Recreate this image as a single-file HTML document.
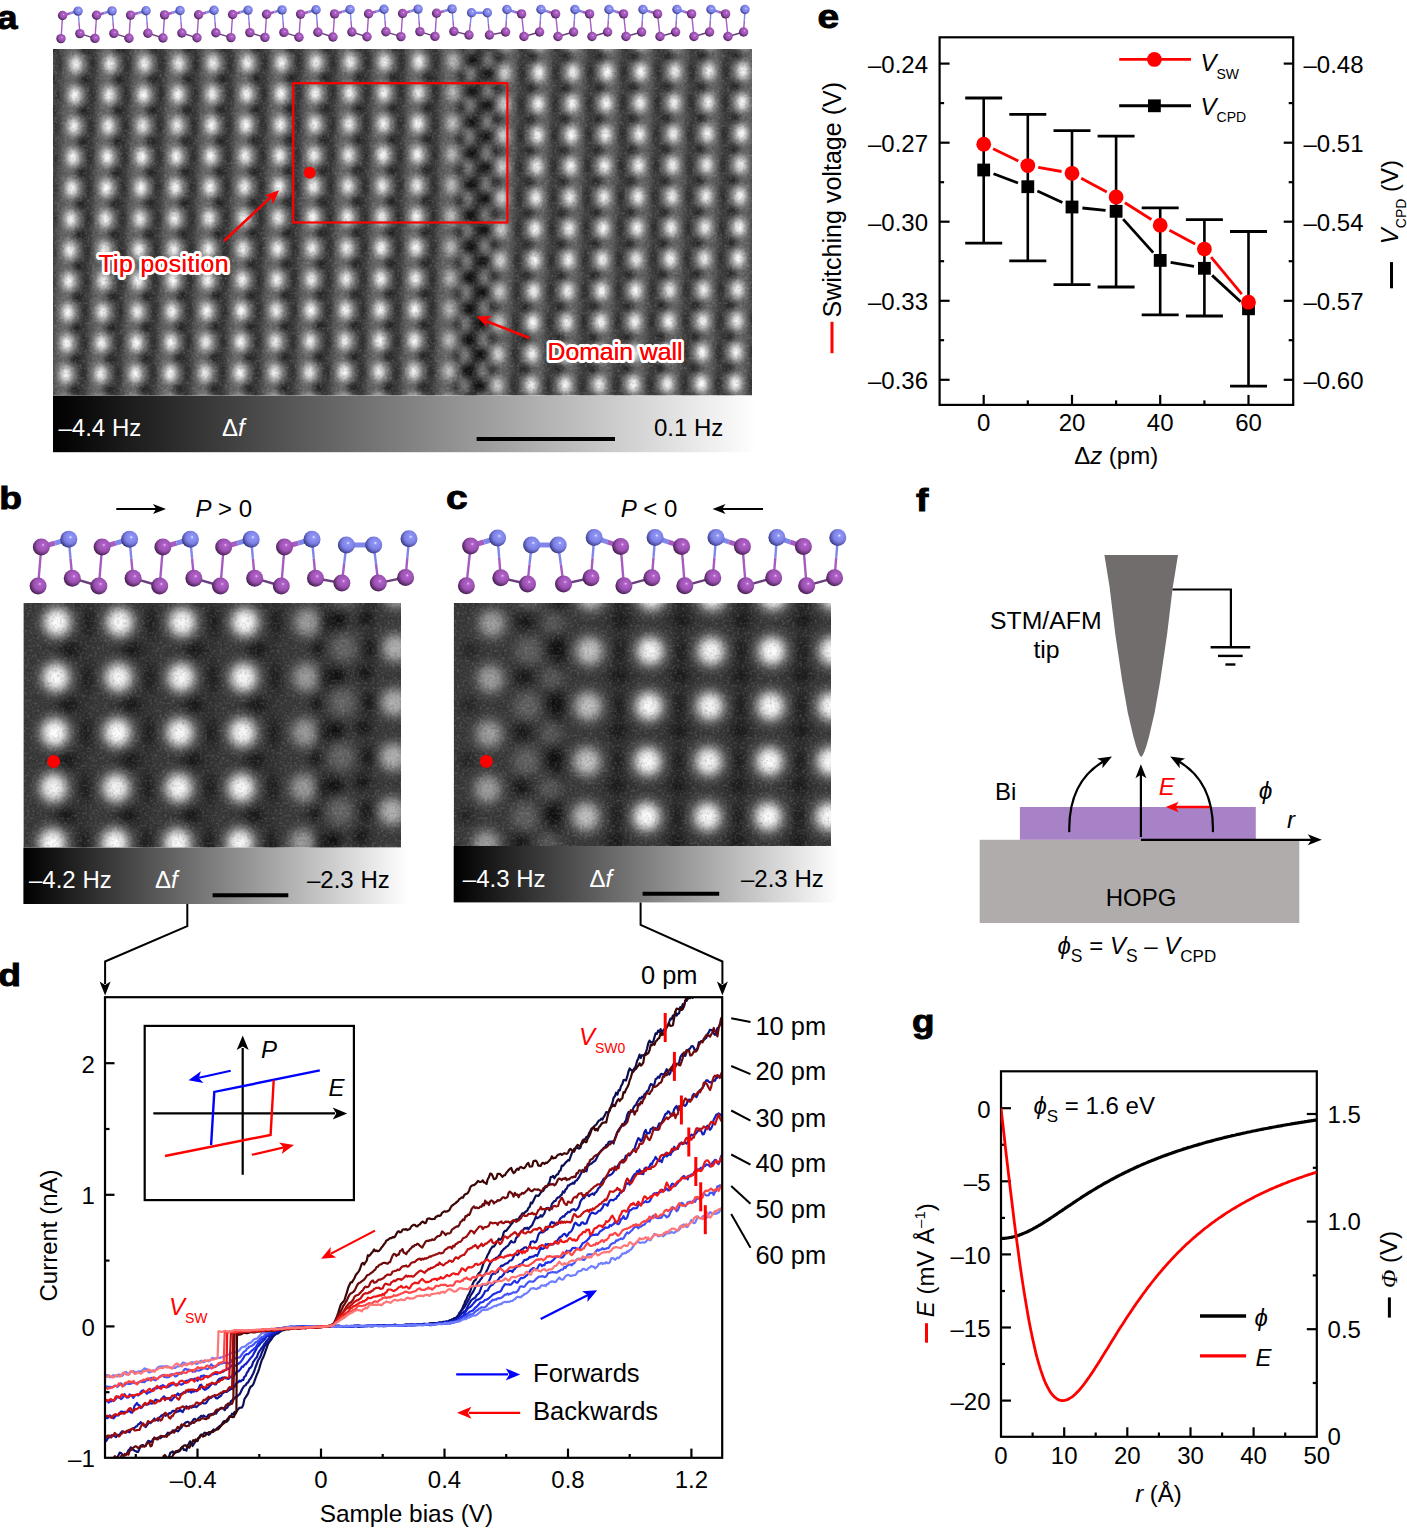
<!DOCTYPE html>
<html><head><meta charset="utf-8"><style>
html,body{margin:0;padding:0;background:#fff;width:1407px;height:1528px;overflow:hidden;}
svg{display:block;}
</style></head><body>
<svg width="1407" height="1528" viewBox="0 0 1407 1528" font-family='"Liberation Sans", sans-serif'>
<defs><radialGradient id="gW"><stop offset="0" stop-color="#fff" stop-opacity="1.000"/><stop offset="0.15" stop-color="#fff" stop-opacity="0.904"/><stop offset="0.3" stop-color="#fff" stop-opacity="0.667"/><stop offset="0.45" stop-color="#fff" stop-opacity="0.402"/><stop offset="0.6" stop-color="#fff" stop-opacity="0.198"/><stop offset="0.75" stop-color="#fff" stop-opacity="0.080"/><stop offset="0.9" stop-color="#fff" stop-opacity="0.026"/><stop offset="1.0" stop-color="#fff" stop-opacity="0.000"/></radialGradient><radialGradient id="gK"><stop offset="0" stop-color="#000" stop-opacity="1.000"/><stop offset="0.15" stop-color="#000" stop-opacity="0.904"/><stop offset="0.3" stop-color="#000" stop-opacity="0.667"/><stop offset="0.45" stop-color="#000" stop-opacity="0.402"/><stop offset="0.6" stop-color="#000" stop-opacity="0.198"/><stop offset="0.75" stop-color="#000" stop-opacity="0.080"/><stop offset="0.9" stop-color="#000" stop-opacity="0.026"/><stop offset="1.0" stop-color="#000" stop-opacity="0.000"/></radialGradient><radialGradient id="gF"><stop offset="0" stop-color="#fff" stop-opacity="1.000"/><stop offset="0.2" stop-color="#fff" stop-opacity="1.000"/><stop offset="0.35" stop-color="#fff" stop-opacity="0.850"/><stop offset="0.5" stop-color="#fff" stop-opacity="0.550"/><stop offset="0.65" stop-color="#fff" stop-opacity="0.270"/><stop offset="0.8" stop-color="#fff" stop-opacity="0.090"/><stop offset="0.92" stop-color="#fff" stop-opacity="0.020"/><stop offset="1.0" stop-color="#fff" stop-opacity="0.000"/></radialGradient><radialGradient id="gM"><stop offset="0" stop-color="#fff" stop-opacity="1.000"/><stop offset="0.15" stop-color="#fff" stop-opacity="0.970"/><stop offset="0.3" stop-color="#fff" stop-opacity="0.840"/><stop offset="0.45" stop-color="#fff" stop-opacity="0.570"/><stop offset="0.6" stop-color="#fff" stop-opacity="0.290"/><stop offset="0.75" stop-color="#fff" stop-opacity="0.100"/><stop offset="0.9" stop-color="#fff" stop-opacity="0.030"/><stop offset="1.0" stop-color="#fff" stop-opacity="0.000"/></radialGradient><filter id="nz" x="0" y="0" width="100%" height="100%"><feTurbulence type="fractalNoise" baseFrequency="0.4" numOctaves="2" seed="7" result="t"/><feColorMatrix in="t" type="matrix" values="0 0 0 0 0  0 0 0 0 0  0 0 0 0 0  0 0 0 -1.6 0.85"/></filter><filter id="nzw" x="0" y="0" width="100%" height="100%"><feTurbulence type="fractalNoise" baseFrequency="0.4" numOctaves="2" seed="11" result="t"/><feColorMatrix in="t" type="matrix" values="0 0 0 0 1  0 0 0 0 1  0 0 0 0 1  0 0 0 1.6 -0.75"/></filter></defs>
<clipPath id="ca"><rect x="53" y="49" width="699" height="346.6"/></clipPath>
<g clip-path="url(#ca)">
<rect x="53" y="49" width="699" height="346.6" fill="#5c5c5c"/>
<ellipse cx="59.7" cy="33.4" rx="11.4" ry="27" fill="url(#gK)" opacity="0.42"/>
<ellipse cx="50.9" cy="49" rx="15" ry="13.8" fill="url(#gK)" opacity="0.60"/>
<ellipse cx="85.2" cy="48.7" rx="15" ry="13.8" fill="url(#gK)" opacity="0.60"/>
<ellipse cx="93.9" cy="33.2" rx="11.4" ry="30" fill="url(#gK)" opacity="0.50"/>
<ellipse cx="119.5" cy="48.5" rx="15" ry="13.8" fill="url(#gK)" opacity="0.60"/>
<ellipse cx="128.2" cy="32.9" rx="11.4" ry="30" fill="url(#gK)" opacity="0.50"/>
<ellipse cx="153.8" cy="48.2" rx="15" ry="13.8" fill="url(#gK)" opacity="0.60"/>
<ellipse cx="162.4" cy="32.6" rx="11.4" ry="30" fill="url(#gK)" opacity="0.50"/>
<ellipse cx="188" cy="47.9" rx="15" ry="13.8" fill="url(#gK)" opacity="0.60"/>
<ellipse cx="196.7" cy="32.4" rx="11.4" ry="30" fill="url(#gK)" opacity="0.50"/>
<ellipse cx="222.3" cy="47.6" rx="15" ry="13.8" fill="url(#gK)" opacity="0.60"/>
<ellipse cx="230.9" cy="32.1" rx="11.4" ry="30" fill="url(#gK)" opacity="0.50"/>
<ellipse cx="256.6" cy="47.4" rx="15" ry="13.8" fill="url(#gK)" opacity="0.60"/>
<ellipse cx="265.2" cy="31.8" rx="11.4" ry="30" fill="url(#gK)" opacity="0.50"/>
<ellipse cx="290.9" cy="47.1" rx="15" ry="13.8" fill="url(#gK)" opacity="0.60"/>
<ellipse cx="299.4" cy="31.5" rx="11.4" ry="30" fill="url(#gK)" opacity="0.50"/>
<ellipse cx="325.1" cy="46.8" rx="15" ry="13.8" fill="url(#gK)" opacity="0.60"/>
<ellipse cx="333.7" cy="31.3" rx="11.4" ry="30" fill="url(#gK)" opacity="0.50"/>
<ellipse cx="359.4" cy="46.6" rx="15" ry="13.8" fill="url(#gK)" opacity="0.60"/>
<ellipse cx="367.9" cy="31" rx="11.4" ry="30" fill="url(#gK)" opacity="0.50"/>
<ellipse cx="393.7" cy="46.3" rx="15" ry="13.8" fill="url(#gK)" opacity="0.60"/>
<ellipse cx="402.2" cy="30.7" rx="11.4" ry="30" fill="url(#gK)" opacity="0.50"/>
<ellipse cx="428" cy="46" rx="15" ry="13.8" fill="url(#gK)" opacity="0.60"/>
<ellipse cx="436.4" cy="30.5" rx="11.4" ry="30" fill="url(#gK)" opacity="0.50"/>
<ellipse cx="472.4" cy="30.2" rx="14.4" ry="15.6" fill="url(#gK)" opacity="0.90"/>
<ellipse cx="462.2" cy="45.8" rx="13.5" ry="13.8" fill="url(#gK)" opacity="0.55"/>
<ellipse cx="479" cy="45.6" rx="12" ry="18" fill="url(#gK)" opacity="0.35"/>
<ellipse cx="498.6" cy="57.4" rx="15" ry="13.8" fill="url(#gK)" opacity="0.60"/>
<ellipse cx="522.8" cy="41.6" rx="11.4" ry="30" fill="url(#gK)" opacity="0.50"/>
<ellipse cx="488.8" cy="41.9" rx="14.4" ry="15.6" fill="url(#gK)" opacity="0.90"/>
<ellipse cx="479.9" cy="57.6" rx="12" ry="18" fill="url(#gK)" opacity="0.35"/>
<ellipse cx="532.6" cy="57.1" rx="15" ry="13.8" fill="url(#gK)" opacity="0.60"/>
<ellipse cx="556.8" cy="41.3" rx="11.4" ry="30" fill="url(#gK)" opacity="0.50"/>
<ellipse cx="566.6" cy="56.8" rx="15" ry="13.8" fill="url(#gK)" opacity="0.60"/>
<ellipse cx="590.8" cy="41" rx="11.4" ry="30" fill="url(#gK)" opacity="0.50"/>
<ellipse cx="600.6" cy="56.5" rx="15" ry="13.8" fill="url(#gK)" opacity="0.60"/>
<ellipse cx="624.8" cy="40.7" rx="11.4" ry="30" fill="url(#gK)" opacity="0.50"/>
<ellipse cx="634.6" cy="56.2" rx="15" ry="13.8" fill="url(#gK)" opacity="0.60"/>
<ellipse cx="658.8" cy="40.4" rx="11.4" ry="30" fill="url(#gK)" opacity="0.50"/>
<ellipse cx="668.6" cy="55.9" rx="15" ry="13.8" fill="url(#gK)" opacity="0.60"/>
<ellipse cx="692.8" cy="40.1" rx="11.4" ry="30" fill="url(#gK)" opacity="0.50"/>
<ellipse cx="702.6" cy="55.6" rx="15" ry="13.8" fill="url(#gK)" opacity="0.60"/>
<ellipse cx="726.8" cy="39.8" rx="11.4" ry="30" fill="url(#gK)" opacity="0.50"/>
<ellipse cx="736.6" cy="55.3" rx="15" ry="13.8" fill="url(#gK)" opacity="0.60"/>
<ellipse cx="760.8" cy="39.5" rx="11.4" ry="30" fill="url(#gK)" opacity="0.50"/>
<ellipse cx="770.6" cy="55" rx="15" ry="13.8" fill="url(#gK)" opacity="0.60"/>
<ellipse cx="794.8" cy="39.2" rx="11.4" ry="30" fill="url(#gK)" opacity="0.50"/>
<ellipse cx="58.6" cy="64.4" rx="11.4" ry="27" fill="url(#gK)" opacity="0.42"/>
<ellipse cx="49.9" cy="80" rx="15" ry="13.8" fill="url(#gK)" opacity="0.60"/>
<ellipse cx="84.2" cy="79.7" rx="15" ry="13.8" fill="url(#gK)" opacity="0.60"/>
<ellipse cx="92.9" cy="64.2" rx="11.4" ry="30" fill="url(#gK)" opacity="0.50"/>
<ellipse cx="118.5" cy="79.5" rx="15" ry="13.8" fill="url(#gK)" opacity="0.60"/>
<ellipse cx="127.2" cy="63.9" rx="11.4" ry="30" fill="url(#gK)" opacity="0.50"/>
<ellipse cx="152.9" cy="79.2" rx="15" ry="13.8" fill="url(#gK)" opacity="0.60"/>
<ellipse cx="161.6" cy="63.6" rx="11.4" ry="30" fill="url(#gK)" opacity="0.50"/>
<ellipse cx="187.2" cy="78.9" rx="15" ry="13.8" fill="url(#gK)" opacity="0.60"/>
<ellipse cx="195.8" cy="63.4" rx="11.4" ry="30" fill="url(#gK)" opacity="0.50"/>
<ellipse cx="221.5" cy="78.6" rx="15" ry="13.8" fill="url(#gK)" opacity="0.60"/>
<ellipse cx="230.1" cy="63.1" rx="11.4" ry="30" fill="url(#gK)" opacity="0.50"/>
<ellipse cx="255.8" cy="78.4" rx="15" ry="13.8" fill="url(#gK)" opacity="0.60"/>
<ellipse cx="264.4" cy="62.8" rx="11.4" ry="30" fill="url(#gK)" opacity="0.50"/>
<ellipse cx="290.2" cy="78.1" rx="15" ry="13.8" fill="url(#gK)" opacity="0.60"/>
<ellipse cx="298.8" cy="62.5" rx="11.4" ry="30" fill="url(#gK)" opacity="0.50"/>
<ellipse cx="324.5" cy="77.8" rx="15" ry="13.8" fill="url(#gK)" opacity="0.60"/>
<ellipse cx="333.1" cy="62.3" rx="11.4" ry="30" fill="url(#gK)" opacity="0.50"/>
<ellipse cx="358.8" cy="77.6" rx="15" ry="13.8" fill="url(#gK)" opacity="0.60"/>
<ellipse cx="367.3" cy="62" rx="11.4" ry="30" fill="url(#gK)" opacity="0.50"/>
<ellipse cx="393.1" cy="77.3" rx="15" ry="13.8" fill="url(#gK)" opacity="0.60"/>
<ellipse cx="401.6" cy="61.7" rx="11.4" ry="30" fill="url(#gK)" opacity="0.50"/>
<ellipse cx="427.5" cy="77" rx="15" ry="13.8" fill="url(#gK)" opacity="0.60"/>
<ellipse cx="435.9" cy="61.5" rx="11.4" ry="30" fill="url(#gK)" opacity="0.50"/>
<ellipse cx="472" cy="61.2" rx="14.4" ry="15.6" fill="url(#gK)" opacity="0.90"/>
<ellipse cx="461.8" cy="76.8" rx="13.5" ry="13.8" fill="url(#gK)" opacity="0.55"/>
<ellipse cx="478.6" cy="76.6" rx="12" ry="18" fill="url(#gK)" opacity="0.35"/>
<ellipse cx="497.8" cy="88.7" rx="15" ry="13.8" fill="url(#gK)" opacity="0.60"/>
<ellipse cx="522" cy="72.8" rx="11.4" ry="30" fill="url(#gK)" opacity="0.50"/>
<ellipse cx="488" cy="73.2" rx="14.4" ry="15.6" fill="url(#gK)" opacity="0.90"/>
<ellipse cx="479.1" cy="88.8" rx="12" ry="18" fill="url(#gK)" opacity="0.35"/>
<ellipse cx="531.8" cy="88.4" rx="15" ry="13.8" fill="url(#gK)" opacity="0.60"/>
<ellipse cx="556" cy="72.5" rx="11.4" ry="30" fill="url(#gK)" opacity="0.50"/>
<ellipse cx="565.8" cy="88.1" rx="15" ry="13.8" fill="url(#gK)" opacity="0.60"/>
<ellipse cx="590" cy="72.2" rx="11.4" ry="30" fill="url(#gK)" opacity="0.50"/>
<ellipse cx="599.8" cy="87.8" rx="15" ry="13.8" fill="url(#gK)" opacity="0.60"/>
<ellipse cx="624" cy="72" rx="11.4" ry="30" fill="url(#gK)" opacity="0.50"/>
<ellipse cx="633.8" cy="87.5" rx="15" ry="13.8" fill="url(#gK)" opacity="0.60"/>
<ellipse cx="658" cy="71.7" rx="11.4" ry="30" fill="url(#gK)" opacity="0.50"/>
<ellipse cx="667.8" cy="87.2" rx="15" ry="13.8" fill="url(#gK)" opacity="0.60"/>
<ellipse cx="692" cy="71.3" rx="11.4" ry="30" fill="url(#gK)" opacity="0.50"/>
<ellipse cx="701.8" cy="86.9" rx="15" ry="13.8" fill="url(#gK)" opacity="0.60"/>
<ellipse cx="726" cy="71" rx="11.4" ry="30" fill="url(#gK)" opacity="0.50"/>
<ellipse cx="735.8" cy="86.6" rx="15" ry="13.8" fill="url(#gK)" opacity="0.60"/>
<ellipse cx="760" cy="70.8" rx="11.4" ry="30" fill="url(#gK)" opacity="0.50"/>
<ellipse cx="769.8" cy="86.3" rx="15" ry="13.8" fill="url(#gK)" opacity="0.60"/>
<ellipse cx="794" cy="70.5" rx="11.4" ry="30" fill="url(#gK)" opacity="0.50"/>
<ellipse cx="57.6" cy="95.4" rx="11.4" ry="27" fill="url(#gK)" opacity="0.42"/>
<ellipse cx="48.9" cy="111" rx="15" ry="13.8" fill="url(#gK)" opacity="0.60"/>
<ellipse cx="83.2" cy="110.7" rx="15" ry="13.8" fill="url(#gK)" opacity="0.60"/>
<ellipse cx="92" cy="95.2" rx="11.4" ry="30" fill="url(#gK)" opacity="0.50"/>
<ellipse cx="117.6" cy="110.5" rx="15" ry="13.8" fill="url(#gK)" opacity="0.60"/>
<ellipse cx="126.3" cy="94.9" rx="11.4" ry="30" fill="url(#gK)" opacity="0.50"/>
<ellipse cx="152" cy="110.2" rx="15" ry="13.8" fill="url(#gK)" opacity="0.60"/>
<ellipse cx="160.7" cy="94.6" rx="11.4" ry="30" fill="url(#gK)" opacity="0.50"/>
<ellipse cx="186.4" cy="109.9" rx="15" ry="13.8" fill="url(#gK)" opacity="0.60"/>
<ellipse cx="195" cy="94.4" rx="11.4" ry="30" fill="url(#gK)" opacity="0.50"/>
<ellipse cx="220.7" cy="109.6" rx="15" ry="13.8" fill="url(#gK)" opacity="0.60"/>
<ellipse cx="229.4" cy="94.1" rx="11.4" ry="30" fill="url(#gK)" opacity="0.50"/>
<ellipse cx="255.1" cy="109.4" rx="15" ry="13.8" fill="url(#gK)" opacity="0.60"/>
<ellipse cx="263.7" cy="93.8" rx="11.4" ry="30" fill="url(#gK)" opacity="0.50"/>
<ellipse cx="289.5" cy="109.1" rx="15" ry="13.8" fill="url(#gK)" opacity="0.60"/>
<ellipse cx="298.1" cy="93.5" rx="11.4" ry="30" fill="url(#gK)" opacity="0.50"/>
<ellipse cx="323.9" cy="108.8" rx="15" ry="13.8" fill="url(#gK)" opacity="0.60"/>
<ellipse cx="332.4" cy="93.3" rx="11.4" ry="30" fill="url(#gK)" opacity="0.50"/>
<ellipse cx="358.2" cy="108.6" rx="15" ry="13.8" fill="url(#gK)" opacity="0.60"/>
<ellipse cx="366.8" cy="93" rx="11.4" ry="30" fill="url(#gK)" opacity="0.50"/>
<ellipse cx="392.6" cy="108.3" rx="15" ry="13.8" fill="url(#gK)" opacity="0.60"/>
<ellipse cx="401.1" cy="92.7" rx="11.4" ry="30" fill="url(#gK)" opacity="0.50"/>
<ellipse cx="427" cy="108" rx="15" ry="13.8" fill="url(#gK)" opacity="0.60"/>
<ellipse cx="435.5" cy="92.5" rx="11.4" ry="30" fill="url(#gK)" opacity="0.50"/>
<ellipse cx="471.5" cy="92.2" rx="14.4" ry="15.6" fill="url(#gK)" opacity="0.90"/>
<ellipse cx="461.4" cy="107.8" rx="13.5" ry="13.8" fill="url(#gK)" opacity="0.55"/>
<ellipse cx="478.2" cy="107.6" rx="12" ry="18" fill="url(#gK)" opacity="0.35"/>
<ellipse cx="497.1" cy="119.9" rx="15" ry="13.8" fill="url(#gK)" opacity="0.60"/>
<ellipse cx="521.2" cy="104.1" rx="11.4" ry="30" fill="url(#gK)" opacity="0.50"/>
<ellipse cx="487.2" cy="104.4" rx="14.4" ry="15.6" fill="url(#gK)" opacity="0.90"/>
<ellipse cx="478.4" cy="120.1" rx="12" ry="18" fill="url(#gK)" opacity="0.35"/>
<ellipse cx="531.1" cy="119.6" rx="15" ry="13.8" fill="url(#gK)" opacity="0.60"/>
<ellipse cx="555.2" cy="103.8" rx="11.4" ry="30" fill="url(#gK)" opacity="0.50"/>
<ellipse cx="565.1" cy="119.3" rx="15" ry="13.8" fill="url(#gK)" opacity="0.60"/>
<ellipse cx="589.2" cy="103.5" rx="11.4" ry="30" fill="url(#gK)" opacity="0.50"/>
<ellipse cx="599.1" cy="119" rx="15" ry="13.8" fill="url(#gK)" opacity="0.60"/>
<ellipse cx="623.2" cy="103.2" rx="11.4" ry="30" fill="url(#gK)" opacity="0.50"/>
<ellipse cx="633.1" cy="118.7" rx="15" ry="13.8" fill="url(#gK)" opacity="0.60"/>
<ellipse cx="657.2" cy="102.9" rx="11.4" ry="30" fill="url(#gK)" opacity="0.50"/>
<ellipse cx="667.1" cy="118.4" rx="15" ry="13.8" fill="url(#gK)" opacity="0.60"/>
<ellipse cx="691.2" cy="102.6" rx="11.4" ry="30" fill="url(#gK)" opacity="0.50"/>
<ellipse cx="701.1" cy="118.1" rx="15" ry="13.8" fill="url(#gK)" opacity="0.60"/>
<ellipse cx="725.2" cy="102.3" rx="11.4" ry="30" fill="url(#gK)" opacity="0.50"/>
<ellipse cx="735.1" cy="117.8" rx="15" ry="13.8" fill="url(#gK)" opacity="0.60"/>
<ellipse cx="759.2" cy="102" rx="11.4" ry="30" fill="url(#gK)" opacity="0.50"/>
<ellipse cx="769.1" cy="117.5" rx="15" ry="13.8" fill="url(#gK)" opacity="0.60"/>
<ellipse cx="793.2" cy="101.7" rx="11.4" ry="30" fill="url(#gK)" opacity="0.50"/>
<ellipse cx="56.6" cy="126.4" rx="11.4" ry="27" fill="url(#gK)" opacity="0.42"/>
<ellipse cx="47.8" cy="142" rx="15" ry="13.8" fill="url(#gK)" opacity="0.60"/>
<ellipse cx="82.3" cy="141.7" rx="15" ry="13.8" fill="url(#gK)" opacity="0.60"/>
<ellipse cx="91" cy="126.2" rx="11.4" ry="30" fill="url(#gK)" opacity="0.50"/>
<ellipse cx="116.7" cy="141.5" rx="15" ry="13.8" fill="url(#gK)" opacity="0.60"/>
<ellipse cx="125.4" cy="125.9" rx="11.4" ry="30" fill="url(#gK)" opacity="0.50"/>
<ellipse cx="151.1" cy="141.2" rx="15" ry="13.8" fill="url(#gK)" opacity="0.60"/>
<ellipse cx="159.8" cy="125.6" rx="11.4" ry="30" fill="url(#gK)" opacity="0.50"/>
<ellipse cx="185.5" cy="140.9" rx="15" ry="13.8" fill="url(#gK)" opacity="0.60"/>
<ellipse cx="194.2" cy="125.4" rx="11.4" ry="30" fill="url(#gK)" opacity="0.50"/>
<ellipse cx="220" cy="140.6" rx="15" ry="13.8" fill="url(#gK)" opacity="0.60"/>
<ellipse cx="228.6" cy="125.1" rx="11.4" ry="30" fill="url(#gK)" opacity="0.50"/>
<ellipse cx="254.4" cy="140.4" rx="15" ry="13.8" fill="url(#gK)" opacity="0.60"/>
<ellipse cx="263" cy="124.8" rx="11.4" ry="30" fill="url(#gK)" opacity="0.50"/>
<ellipse cx="288.8" cy="140.1" rx="15" ry="13.8" fill="url(#gK)" opacity="0.60"/>
<ellipse cx="297.4" cy="124.5" rx="11.4" ry="30" fill="url(#gK)" opacity="0.50"/>
<ellipse cx="323.2" cy="139.8" rx="15" ry="13.8" fill="url(#gK)" opacity="0.60"/>
<ellipse cx="331.8" cy="124.3" rx="11.4" ry="30" fill="url(#gK)" opacity="0.50"/>
<ellipse cx="357.7" cy="139.6" rx="15" ry="13.8" fill="url(#gK)" opacity="0.60"/>
<ellipse cx="366.2" cy="124" rx="11.4" ry="30" fill="url(#gK)" opacity="0.50"/>
<ellipse cx="392.1" cy="139.3" rx="15" ry="13.8" fill="url(#gK)" opacity="0.60"/>
<ellipse cx="400.6" cy="123.7" rx="11.4" ry="30" fill="url(#gK)" opacity="0.50"/>
<ellipse cx="426.5" cy="139" rx="15" ry="13.8" fill="url(#gK)" opacity="0.60"/>
<ellipse cx="435" cy="123.5" rx="11.4" ry="30" fill="url(#gK)" opacity="0.50"/>
<ellipse cx="471.1" cy="123.2" rx="14.4" ry="15.6" fill="url(#gK)" opacity="0.90"/>
<ellipse cx="460.9" cy="138.8" rx="13.5" ry="13.8" fill="url(#gK)" opacity="0.55"/>
<ellipse cx="477.8" cy="138.6" rx="12" ry="18" fill="url(#gK)" opacity="0.35"/>
<ellipse cx="496.3" cy="151.2" rx="15" ry="13.8" fill="url(#gK)" opacity="0.60"/>
<ellipse cx="520.5" cy="135.3" rx="11.4" ry="30" fill="url(#gK)" opacity="0.50"/>
<ellipse cx="486.5" cy="135.7" rx="14.4" ry="15.6" fill="url(#gK)" opacity="0.90"/>
<ellipse cx="477.6" cy="151.3" rx="12" ry="18" fill="url(#gK)" opacity="0.35"/>
<ellipse cx="530.3" cy="150.9" rx="15" ry="13.8" fill="url(#gK)" opacity="0.60"/>
<ellipse cx="554.5" cy="135.1" rx="11.4" ry="30" fill="url(#gK)" opacity="0.50"/>
<ellipse cx="564.3" cy="150.6" rx="15" ry="13.8" fill="url(#gK)" opacity="0.60"/>
<ellipse cx="588.5" cy="134.8" rx="11.4" ry="30" fill="url(#gK)" opacity="0.50"/>
<ellipse cx="598.3" cy="150.3" rx="15" ry="13.8" fill="url(#gK)" opacity="0.60"/>
<ellipse cx="622.5" cy="134.4" rx="11.4" ry="30" fill="url(#gK)" opacity="0.50"/>
<ellipse cx="632.3" cy="150" rx="15" ry="13.8" fill="url(#gK)" opacity="0.60"/>
<ellipse cx="656.5" cy="134.2" rx="11.4" ry="30" fill="url(#gK)" opacity="0.50"/>
<ellipse cx="666.3" cy="149.7" rx="15" ry="13.8" fill="url(#gK)" opacity="0.60"/>
<ellipse cx="690.5" cy="133.8" rx="11.4" ry="30" fill="url(#gK)" opacity="0.50"/>
<ellipse cx="700.3" cy="149.4" rx="15" ry="13.8" fill="url(#gK)" opacity="0.60"/>
<ellipse cx="724.5" cy="133.6" rx="11.4" ry="30" fill="url(#gK)" opacity="0.50"/>
<ellipse cx="734.3" cy="149.1" rx="15" ry="13.8" fill="url(#gK)" opacity="0.60"/>
<ellipse cx="758.5" cy="133.2" rx="11.4" ry="30" fill="url(#gK)" opacity="0.50"/>
<ellipse cx="768.3" cy="148.8" rx="15" ry="13.8" fill="url(#gK)" opacity="0.60"/>
<ellipse cx="792.5" cy="132.9" rx="11.4" ry="30" fill="url(#gK)" opacity="0.50"/>
<ellipse cx="55.6" cy="157.4" rx="11.4" ry="27" fill="url(#gK)" opacity="0.42"/>
<ellipse cx="46.8" cy="173" rx="15" ry="13.8" fill="url(#gK)" opacity="0.60"/>
<ellipse cx="81.3" cy="172.7" rx="15" ry="13.8" fill="url(#gK)" opacity="0.60"/>
<ellipse cx="90" cy="157.2" rx="11.4" ry="30" fill="url(#gK)" opacity="0.50"/>
<ellipse cx="115.7" cy="172.5" rx="15" ry="13.8" fill="url(#gK)" opacity="0.60"/>
<ellipse cx="124.5" cy="156.9" rx="11.4" ry="30" fill="url(#gK)" opacity="0.50"/>
<ellipse cx="150.2" cy="172.2" rx="15" ry="13.8" fill="url(#gK)" opacity="0.60"/>
<ellipse cx="158.9" cy="156.6" rx="11.4" ry="30" fill="url(#gK)" opacity="0.50"/>
<ellipse cx="184.7" cy="171.9" rx="15" ry="13.8" fill="url(#gK)" opacity="0.60"/>
<ellipse cx="193.4" cy="156.4" rx="11.4" ry="30" fill="url(#gK)" opacity="0.50"/>
<ellipse cx="219.2" cy="171.6" rx="15" ry="13.8" fill="url(#gK)" opacity="0.60"/>
<ellipse cx="227.8" cy="156.1" rx="11.4" ry="30" fill="url(#gK)" opacity="0.50"/>
<ellipse cx="253.6" cy="171.4" rx="15" ry="13.8" fill="url(#gK)" opacity="0.60"/>
<ellipse cx="262.3" cy="155.8" rx="11.4" ry="30" fill="url(#gK)" opacity="0.50"/>
<ellipse cx="288.1" cy="171.1" rx="15" ry="13.8" fill="url(#gK)" opacity="0.60"/>
<ellipse cx="296.7" cy="155.5" rx="11.4" ry="30" fill="url(#gK)" opacity="0.50"/>
<ellipse cx="322.6" cy="170.8" rx="15" ry="13.8" fill="url(#gK)" opacity="0.60"/>
<ellipse cx="331.2" cy="155.3" rx="11.4" ry="30" fill="url(#gK)" opacity="0.50"/>
<ellipse cx="357.1" cy="170.6" rx="15" ry="13.8" fill="url(#gK)" opacity="0.60"/>
<ellipse cx="365.6" cy="155" rx="11.4" ry="30" fill="url(#gK)" opacity="0.50"/>
<ellipse cx="391.5" cy="170.3" rx="15" ry="13.8" fill="url(#gK)" opacity="0.60"/>
<ellipse cx="400.1" cy="154.7" rx="11.4" ry="30" fill="url(#gK)" opacity="0.50"/>
<ellipse cx="426" cy="170" rx="15" ry="13.8" fill="url(#gK)" opacity="0.60"/>
<ellipse cx="434.5" cy="154.5" rx="11.4" ry="30" fill="url(#gK)" opacity="0.50"/>
<ellipse cx="470.7" cy="154.2" rx="14.4" ry="15.6" fill="url(#gK)" opacity="0.90"/>
<ellipse cx="460.5" cy="169.8" rx="13.5" ry="13.8" fill="url(#gK)" opacity="0.55"/>
<ellipse cx="477.4" cy="169.6" rx="12" ry="18" fill="url(#gK)" opacity="0.35"/>
<ellipse cx="495.5" cy="182.4" rx="15" ry="13.8" fill="url(#gK)" opacity="0.60"/>
<ellipse cx="519.7" cy="166.6" rx="11.4" ry="30" fill="url(#gK)" opacity="0.50"/>
<ellipse cx="485.7" cy="166.9" rx="14.4" ry="15.6" fill="url(#gK)" opacity="0.90"/>
<ellipse cx="476.8" cy="182.6" rx="12" ry="18" fill="url(#gK)" opacity="0.35"/>
<ellipse cx="529.5" cy="182.1" rx="15" ry="13.8" fill="url(#gK)" opacity="0.60"/>
<ellipse cx="553.7" cy="166.3" rx="11.4" ry="30" fill="url(#gK)" opacity="0.50"/>
<ellipse cx="563.5" cy="181.8" rx="15" ry="13.8" fill="url(#gK)" opacity="0.60"/>
<ellipse cx="587.7" cy="166" rx="11.4" ry="30" fill="url(#gK)" opacity="0.50"/>
<ellipse cx="597.5" cy="181.5" rx="15" ry="13.8" fill="url(#gK)" opacity="0.60"/>
<ellipse cx="621.7" cy="165.7" rx="11.4" ry="30" fill="url(#gK)" opacity="0.50"/>
<ellipse cx="631.5" cy="181.2" rx="15" ry="13.8" fill="url(#gK)" opacity="0.60"/>
<ellipse cx="655.7" cy="165.4" rx="11.4" ry="30" fill="url(#gK)" opacity="0.50"/>
<ellipse cx="665.5" cy="180.9" rx="15" ry="13.8" fill="url(#gK)" opacity="0.60"/>
<ellipse cx="689.7" cy="165.1" rx="11.4" ry="30" fill="url(#gK)" opacity="0.50"/>
<ellipse cx="699.5" cy="180.6" rx="15" ry="13.8" fill="url(#gK)" opacity="0.60"/>
<ellipse cx="723.7" cy="164.8" rx="11.4" ry="30" fill="url(#gK)" opacity="0.50"/>
<ellipse cx="733.5" cy="180.3" rx="15" ry="13.8" fill="url(#gK)" opacity="0.60"/>
<ellipse cx="757.7" cy="164.5" rx="11.4" ry="30" fill="url(#gK)" opacity="0.50"/>
<ellipse cx="767.5" cy="180" rx="15" ry="13.8" fill="url(#gK)" opacity="0.60"/>
<ellipse cx="791.7" cy="164.2" rx="11.4" ry="30" fill="url(#gK)" opacity="0.50"/>
<ellipse cx="54.5" cy="188.4" rx="11.4" ry="27" fill="url(#gK)" opacity="0.42"/>
<ellipse cx="45.8" cy="204" rx="15" ry="13.8" fill="url(#gK)" opacity="0.60"/>
<ellipse cx="80.3" cy="203.7" rx="15" ry="13.8" fill="url(#gK)" opacity="0.60"/>
<ellipse cx="89" cy="188.2" rx="11.4" ry="30" fill="url(#gK)" opacity="0.50"/>
<ellipse cx="114.8" cy="203.5" rx="15" ry="13.8" fill="url(#gK)" opacity="0.60"/>
<ellipse cx="123.5" cy="187.9" rx="11.4" ry="30" fill="url(#gK)" opacity="0.50"/>
<ellipse cx="149.3" cy="203.2" rx="15" ry="13.8" fill="url(#gK)" opacity="0.60"/>
<ellipse cx="158.1" cy="187.6" rx="11.4" ry="30" fill="url(#gK)" opacity="0.50"/>
<ellipse cx="183.9" cy="202.9" rx="15" ry="13.8" fill="url(#gK)" opacity="0.60"/>
<ellipse cx="192.5" cy="187.4" rx="11.4" ry="30" fill="url(#gK)" opacity="0.50"/>
<ellipse cx="218.4" cy="202.6" rx="15" ry="13.8" fill="url(#gK)" opacity="0.60"/>
<ellipse cx="227" cy="187.1" rx="11.4" ry="30" fill="url(#gK)" opacity="0.50"/>
<ellipse cx="252.9" cy="202.4" rx="15" ry="13.8" fill="url(#gK)" opacity="0.60"/>
<ellipse cx="261.6" cy="186.8" rx="11.4" ry="30" fill="url(#gK)" opacity="0.50"/>
<ellipse cx="287.4" cy="202.1" rx="15" ry="13.8" fill="url(#gK)" opacity="0.60"/>
<ellipse cx="296.1" cy="186.5" rx="11.4" ry="30" fill="url(#gK)" opacity="0.50"/>
<ellipse cx="322" cy="201.8" rx="15" ry="13.8" fill="url(#gK)" opacity="0.60"/>
<ellipse cx="330.6" cy="186.3" rx="11.4" ry="30" fill="url(#gK)" opacity="0.50"/>
<ellipse cx="356.5" cy="201.6" rx="15" ry="13.8" fill="url(#gK)" opacity="0.60"/>
<ellipse cx="365" cy="186" rx="11.4" ry="30" fill="url(#gK)" opacity="0.50"/>
<ellipse cx="391" cy="201.3" rx="15" ry="13.8" fill="url(#gK)" opacity="0.60"/>
<ellipse cx="399.5" cy="185.7" rx="11.4" ry="30" fill="url(#gK)" opacity="0.50"/>
<ellipse cx="425.5" cy="201" rx="15" ry="13.8" fill="url(#gK)" opacity="0.60"/>
<ellipse cx="434.1" cy="185.5" rx="11.4" ry="30" fill="url(#gK)" opacity="0.50"/>
<ellipse cx="470.3" cy="185.2" rx="14.4" ry="15.6" fill="url(#gK)" opacity="0.90"/>
<ellipse cx="460.1" cy="200.8" rx="13.5" ry="13.8" fill="url(#gK)" opacity="0.55"/>
<ellipse cx="477" cy="200.6" rx="12" ry="18" fill="url(#gK)" opacity="0.35"/>
<ellipse cx="494.8" cy="213.7" rx="15" ry="13.8" fill="url(#gK)" opacity="0.60"/>
<ellipse cx="519" cy="197.8" rx="11.4" ry="30" fill="url(#gK)" opacity="0.50"/>
<ellipse cx="485" cy="198.2" rx="14.4" ry="15.6" fill="url(#gK)" opacity="0.90"/>
<ellipse cx="476.1" cy="213.8" rx="12" ry="18" fill="url(#gK)" opacity="0.35"/>
<ellipse cx="528.8" cy="213.4" rx="15" ry="13.8" fill="url(#gK)" opacity="0.60"/>
<ellipse cx="553" cy="197.6" rx="11.4" ry="30" fill="url(#gK)" opacity="0.50"/>
<ellipse cx="562.8" cy="213.1" rx="15" ry="13.8" fill="url(#gK)" opacity="0.60"/>
<ellipse cx="587" cy="197.2" rx="11.4" ry="30" fill="url(#gK)" opacity="0.50"/>
<ellipse cx="596.8" cy="212.8" rx="15" ry="13.8" fill="url(#gK)" opacity="0.60"/>
<ellipse cx="621" cy="196.9" rx="11.4" ry="30" fill="url(#gK)" opacity="0.50"/>
<ellipse cx="630.8" cy="212.5" rx="15" ry="13.8" fill="url(#gK)" opacity="0.60"/>
<ellipse cx="655" cy="196.7" rx="11.4" ry="30" fill="url(#gK)" opacity="0.50"/>
<ellipse cx="664.8" cy="212.2" rx="15" ry="13.8" fill="url(#gK)" opacity="0.60"/>
<ellipse cx="689" cy="196.3" rx="11.4" ry="30" fill="url(#gK)" opacity="0.50"/>
<ellipse cx="698.8" cy="211.9" rx="15" ry="13.8" fill="url(#gK)" opacity="0.60"/>
<ellipse cx="723" cy="196.1" rx="11.4" ry="30" fill="url(#gK)" opacity="0.50"/>
<ellipse cx="732.8" cy="211.6" rx="15" ry="13.8" fill="url(#gK)" opacity="0.60"/>
<ellipse cx="757" cy="195.8" rx="11.4" ry="30" fill="url(#gK)" opacity="0.50"/>
<ellipse cx="766.8" cy="211.3" rx="15" ry="13.8" fill="url(#gK)" opacity="0.60"/>
<ellipse cx="791" cy="195.4" rx="11.4" ry="30" fill="url(#gK)" opacity="0.50"/>
<ellipse cx="53.5" cy="219.4" rx="11.4" ry="27" fill="url(#gK)" opacity="0.42"/>
<ellipse cx="44.7" cy="235" rx="15" ry="13.8" fill="url(#gK)" opacity="0.60"/>
<ellipse cx="79.3" cy="234.7" rx="15" ry="13.8" fill="url(#gK)" opacity="0.60"/>
<ellipse cx="88.1" cy="219.2" rx="11.4" ry="30" fill="url(#gK)" opacity="0.50"/>
<ellipse cx="113.9" cy="234.5" rx="15" ry="13.8" fill="url(#gK)" opacity="0.60"/>
<ellipse cx="122.6" cy="218.9" rx="11.4" ry="30" fill="url(#gK)" opacity="0.50"/>
<ellipse cx="148.4" cy="234.2" rx="15" ry="13.8" fill="url(#gK)" opacity="0.60"/>
<ellipse cx="157.2" cy="218.6" rx="11.4" ry="30" fill="url(#gK)" opacity="0.50"/>
<ellipse cx="183" cy="233.9" rx="15" ry="13.8" fill="url(#gK)" opacity="0.60"/>
<ellipse cx="191.7" cy="218.4" rx="11.4" ry="30" fill="url(#gK)" opacity="0.50"/>
<ellipse cx="217.6" cy="233.6" rx="15" ry="13.8" fill="url(#gK)" opacity="0.60"/>
<ellipse cx="226.3" cy="218.1" rx="11.4" ry="30" fill="url(#gK)" opacity="0.50"/>
<ellipse cx="252.2" cy="233.4" rx="15" ry="13.8" fill="url(#gK)" opacity="0.60"/>
<ellipse cx="260.8" cy="217.8" rx="11.4" ry="30" fill="url(#gK)" opacity="0.50"/>
<ellipse cx="286.7" cy="233.1" rx="15" ry="13.8" fill="url(#gK)" opacity="0.60"/>
<ellipse cx="295.4" cy="217.5" rx="11.4" ry="30" fill="url(#gK)" opacity="0.50"/>
<ellipse cx="321.3" cy="232.8" rx="15" ry="13.8" fill="url(#gK)" opacity="0.60"/>
<ellipse cx="329.9" cy="217.3" rx="11.4" ry="30" fill="url(#gK)" opacity="0.50"/>
<ellipse cx="355.9" cy="232.6" rx="15" ry="13.8" fill="url(#gK)" opacity="0.60"/>
<ellipse cx="364.5" cy="217" rx="11.4" ry="30" fill="url(#gK)" opacity="0.50"/>
<ellipse cx="390.5" cy="232.3" rx="15" ry="13.8" fill="url(#gK)" opacity="0.60"/>
<ellipse cx="399" cy="216.7" rx="11.4" ry="30" fill="url(#gK)" opacity="0.50"/>
<ellipse cx="425" cy="232" rx="15" ry="13.8" fill="url(#gK)" opacity="0.60"/>
<ellipse cx="433.6" cy="216.5" rx="11.4" ry="30" fill="url(#gK)" opacity="0.50"/>
<ellipse cx="469.9" cy="216.2" rx="14.4" ry="15.6" fill="url(#gK)" opacity="0.90"/>
<ellipse cx="459.6" cy="231.8" rx="13.5" ry="13.8" fill="url(#gK)" opacity="0.55"/>
<ellipse cx="476.6" cy="231.6" rx="12" ry="18" fill="url(#gK)" opacity="0.35"/>
<ellipse cx="494" cy="244.9" rx="15" ry="13.8" fill="url(#gK)" opacity="0.60"/>
<ellipse cx="518.2" cy="229.1" rx="11.4" ry="30" fill="url(#gK)" opacity="0.50"/>
<ellipse cx="484.2" cy="229.4" rx="14.4" ry="15.6" fill="url(#gK)" opacity="0.90"/>
<ellipse cx="475.3" cy="245.1" rx="12" ry="18" fill="url(#gK)" opacity="0.35"/>
<ellipse cx="528" cy="244.6" rx="15" ry="13.8" fill="url(#gK)" opacity="0.60"/>
<ellipse cx="552.2" cy="228.8" rx="11.4" ry="30" fill="url(#gK)" opacity="0.50"/>
<ellipse cx="562" cy="244.3" rx="15" ry="13.8" fill="url(#gK)" opacity="0.60"/>
<ellipse cx="586.2" cy="228.5" rx="11.4" ry="30" fill="url(#gK)" opacity="0.50"/>
<ellipse cx="596" cy="244" rx="15" ry="13.8" fill="url(#gK)" opacity="0.60"/>
<ellipse cx="620.2" cy="228.2" rx="11.4" ry="30" fill="url(#gK)" opacity="0.50"/>
<ellipse cx="630" cy="243.7" rx="15" ry="13.8" fill="url(#gK)" opacity="0.60"/>
<ellipse cx="654.2" cy="227.9" rx="11.4" ry="30" fill="url(#gK)" opacity="0.50"/>
<ellipse cx="664" cy="243.4" rx="15" ry="13.8" fill="url(#gK)" opacity="0.60"/>
<ellipse cx="688.2" cy="227.6" rx="11.4" ry="30" fill="url(#gK)" opacity="0.50"/>
<ellipse cx="698" cy="243.1" rx="15" ry="13.8" fill="url(#gK)" opacity="0.60"/>
<ellipse cx="722.2" cy="227.3" rx="11.4" ry="30" fill="url(#gK)" opacity="0.50"/>
<ellipse cx="732" cy="242.8" rx="15" ry="13.8" fill="url(#gK)" opacity="0.60"/>
<ellipse cx="756.2" cy="227" rx="11.4" ry="30" fill="url(#gK)" opacity="0.50"/>
<ellipse cx="766" cy="242.5" rx="15" ry="13.8" fill="url(#gK)" opacity="0.60"/>
<ellipse cx="790.2" cy="226.7" rx="11.4" ry="30" fill="url(#gK)" opacity="0.50"/>
<ellipse cx="52.5" cy="250.4" rx="11.4" ry="27" fill="url(#gK)" opacity="0.42"/>
<ellipse cx="43.7" cy="266" rx="15" ry="13.8" fill="url(#gK)" opacity="0.60"/>
<ellipse cx="78.3" cy="265.7" rx="15" ry="13.8" fill="url(#gK)" opacity="0.60"/>
<ellipse cx="87.1" cy="250.2" rx="11.4" ry="30" fill="url(#gK)" opacity="0.50"/>
<ellipse cx="112.9" cy="265.5" rx="15" ry="13.8" fill="url(#gK)" opacity="0.60"/>
<ellipse cx="121.7" cy="249.9" rx="11.4" ry="30" fill="url(#gK)" opacity="0.50"/>
<ellipse cx="147.6" cy="265.2" rx="15" ry="13.8" fill="url(#gK)" opacity="0.60"/>
<ellipse cx="156.3" cy="249.6" rx="11.4" ry="30" fill="url(#gK)" opacity="0.50"/>
<ellipse cx="182.2" cy="264.9" rx="15" ry="13.8" fill="url(#gK)" opacity="0.60"/>
<ellipse cx="190.9" cy="249.4" rx="11.4" ry="30" fill="url(#gK)" opacity="0.50"/>
<ellipse cx="216.8" cy="264.6" rx="15" ry="13.8" fill="url(#gK)" opacity="0.60"/>
<ellipse cx="225.5" cy="249.1" rx="11.4" ry="30" fill="url(#gK)" opacity="0.50"/>
<ellipse cx="251.4" cy="264.4" rx="15" ry="13.8" fill="url(#gK)" opacity="0.60"/>
<ellipse cx="260.1" cy="248.8" rx="11.4" ry="30" fill="url(#gK)" opacity="0.50"/>
<ellipse cx="286.1" cy="264.1" rx="15" ry="13.8" fill="url(#gK)" opacity="0.60"/>
<ellipse cx="294.7" cy="248.5" rx="11.4" ry="30" fill="url(#gK)" opacity="0.50"/>
<ellipse cx="320.7" cy="263.8" rx="15" ry="13.8" fill="url(#gK)" opacity="0.60"/>
<ellipse cx="329.3" cy="248.3" rx="11.4" ry="30" fill="url(#gK)" opacity="0.50"/>
<ellipse cx="355.3" cy="263.6" rx="15" ry="13.8" fill="url(#gK)" opacity="0.60"/>
<ellipse cx="363.9" cy="248" rx="11.4" ry="30" fill="url(#gK)" opacity="0.50"/>
<ellipse cx="389.9" cy="263.3" rx="15" ry="13.8" fill="url(#gK)" opacity="0.60"/>
<ellipse cx="398.5" cy="247.7" rx="11.4" ry="30" fill="url(#gK)" opacity="0.50"/>
<ellipse cx="424.6" cy="263" rx="15" ry="13.8" fill="url(#gK)" opacity="0.60"/>
<ellipse cx="433.1" cy="247.5" rx="11.4" ry="30" fill="url(#gK)" opacity="0.50"/>
<ellipse cx="469.4" cy="247.2" rx="14.4" ry="15.6" fill="url(#gK)" opacity="0.90"/>
<ellipse cx="459.2" cy="262.8" rx="13.5" ry="13.8" fill="url(#gK)" opacity="0.55"/>
<ellipse cx="476.1" cy="262.6" rx="12" ry="18" fill="url(#gK)" opacity="0.35"/>
<ellipse cx="493.3" cy="276.2" rx="15" ry="13.8" fill="url(#gK)" opacity="0.60"/>
<ellipse cx="517.4" cy="260.4" rx="11.4" ry="30" fill="url(#gK)" opacity="0.50"/>
<ellipse cx="483.4" cy="260.6" rx="14.4" ry="15.6" fill="url(#gK)" opacity="0.90"/>
<ellipse cx="474.6" cy="276.4" rx="12" ry="18" fill="url(#gK)" opacity="0.35"/>
<ellipse cx="527.3" cy="275.9" rx="15" ry="13.8" fill="url(#gK)" opacity="0.60"/>
<ellipse cx="551.4" cy="260.1" rx="11.4" ry="30" fill="url(#gK)" opacity="0.50"/>
<ellipse cx="561.3" cy="275.6" rx="15" ry="13.8" fill="url(#gK)" opacity="0.60"/>
<ellipse cx="585.4" cy="259.8" rx="11.4" ry="30" fill="url(#gK)" opacity="0.50"/>
<ellipse cx="595.3" cy="275.3" rx="15" ry="13.8" fill="url(#gK)" opacity="0.60"/>
<ellipse cx="619.4" cy="259.4" rx="11.4" ry="30" fill="url(#gK)" opacity="0.50"/>
<ellipse cx="629.3" cy="275" rx="15" ry="13.8" fill="url(#gK)" opacity="0.60"/>
<ellipse cx="653.4" cy="259.1" rx="11.4" ry="30" fill="url(#gK)" opacity="0.50"/>
<ellipse cx="663.3" cy="274.7" rx="15" ry="13.8" fill="url(#gK)" opacity="0.60"/>
<ellipse cx="687.4" cy="258.9" rx="11.4" ry="30" fill="url(#gK)" opacity="0.50"/>
<ellipse cx="697.3" cy="274.4" rx="15" ry="13.8" fill="url(#gK)" opacity="0.60"/>
<ellipse cx="721.4" cy="258.6" rx="11.4" ry="30" fill="url(#gK)" opacity="0.50"/>
<ellipse cx="731.3" cy="274.1" rx="15" ry="13.8" fill="url(#gK)" opacity="0.60"/>
<ellipse cx="755.4" cy="258.2" rx="11.4" ry="30" fill="url(#gK)" opacity="0.50"/>
<ellipse cx="765.3" cy="273.8" rx="15" ry="13.8" fill="url(#gK)" opacity="0.60"/>
<ellipse cx="789.4" cy="257.9" rx="11.4" ry="30" fill="url(#gK)" opacity="0.50"/>
<ellipse cx="51.5" cy="281.4" rx="11.4" ry="27" fill="url(#gK)" opacity="0.42"/>
<ellipse cx="42.6" cy="297" rx="15" ry="13.8" fill="url(#gK)" opacity="0.60"/>
<ellipse cx="77.3" cy="296.7" rx="15" ry="13.8" fill="url(#gK)" opacity="0.60"/>
<ellipse cx="86.1" cy="281.2" rx="11.4" ry="30" fill="url(#gK)" opacity="0.50"/>
<ellipse cx="112" cy="296.5" rx="15" ry="13.8" fill="url(#gK)" opacity="0.60"/>
<ellipse cx="120.8" cy="280.9" rx="11.4" ry="30" fill="url(#gK)" opacity="0.50"/>
<ellipse cx="146.7" cy="296.2" rx="15" ry="13.8" fill="url(#gK)" opacity="0.60"/>
<ellipse cx="155.4" cy="280.6" rx="11.4" ry="30" fill="url(#gK)" opacity="0.50"/>
<ellipse cx="181.3" cy="295.9" rx="15" ry="13.8" fill="url(#gK)" opacity="0.60"/>
<ellipse cx="190.1" cy="280.4" rx="11.4" ry="30" fill="url(#gK)" opacity="0.50"/>
<ellipse cx="216" cy="295.6" rx="15" ry="13.8" fill="url(#gK)" opacity="0.60"/>
<ellipse cx="224.7" cy="280.1" rx="11.4" ry="30" fill="url(#gK)" opacity="0.50"/>
<ellipse cx="250.7" cy="295.4" rx="15" ry="13.8" fill="url(#gK)" opacity="0.60"/>
<ellipse cx="259.4" cy="279.8" rx="11.4" ry="30" fill="url(#gK)" opacity="0.50"/>
<ellipse cx="285.4" cy="295.1" rx="15" ry="13.8" fill="url(#gK)" opacity="0.60"/>
<ellipse cx="294" cy="279.5" rx="11.4" ry="30" fill="url(#gK)" opacity="0.50"/>
<ellipse cx="320" cy="294.8" rx="15" ry="13.8" fill="url(#gK)" opacity="0.60"/>
<ellipse cx="328.7" cy="279.3" rx="11.4" ry="30" fill="url(#gK)" opacity="0.50"/>
<ellipse cx="354.7" cy="294.6" rx="15" ry="13.8" fill="url(#gK)" opacity="0.60"/>
<ellipse cx="363.3" cy="279" rx="11.4" ry="30" fill="url(#gK)" opacity="0.50"/>
<ellipse cx="389.4" cy="294.3" rx="15" ry="13.8" fill="url(#gK)" opacity="0.60"/>
<ellipse cx="398" cy="278.7" rx="11.4" ry="30" fill="url(#gK)" opacity="0.50"/>
<ellipse cx="424.1" cy="294" rx="15" ry="13.8" fill="url(#gK)" opacity="0.60"/>
<ellipse cx="432.6" cy="278.5" rx="11.4" ry="30" fill="url(#gK)" opacity="0.50"/>
<ellipse cx="469" cy="278.2" rx="14.4" ry="15.6" fill="url(#gK)" opacity="0.90"/>
<ellipse cx="458.7" cy="293.8" rx="13.5" ry="13.8" fill="url(#gK)" opacity="0.55"/>
<ellipse cx="475.7" cy="293.6" rx="12" ry="18" fill="url(#gK)" opacity="0.35"/>
<ellipse cx="492.5" cy="307.4" rx="15" ry="13.8" fill="url(#gK)" opacity="0.60"/>
<ellipse cx="516.7" cy="291.6" rx="11.4" ry="30" fill="url(#gK)" opacity="0.50"/>
<ellipse cx="482.7" cy="291.9" rx="14.4" ry="15.6" fill="url(#gK)" opacity="0.90"/>
<ellipse cx="473.8" cy="307.6" rx="12" ry="18" fill="url(#gK)" opacity="0.35"/>
<ellipse cx="526.5" cy="307.1" rx="15" ry="13.8" fill="url(#gK)" opacity="0.60"/>
<ellipse cx="550.7" cy="291.3" rx="11.4" ry="30" fill="url(#gK)" opacity="0.50"/>
<ellipse cx="560.5" cy="306.8" rx="15" ry="13.8" fill="url(#gK)" opacity="0.60"/>
<ellipse cx="584.7" cy="291" rx="11.4" ry="30" fill="url(#gK)" opacity="0.50"/>
<ellipse cx="594.5" cy="306.5" rx="15" ry="13.8" fill="url(#gK)" opacity="0.60"/>
<ellipse cx="618.7" cy="290.7" rx="11.4" ry="30" fill="url(#gK)" opacity="0.50"/>
<ellipse cx="628.5" cy="306.2" rx="15" ry="13.8" fill="url(#gK)" opacity="0.60"/>
<ellipse cx="652.7" cy="290.4" rx="11.4" ry="30" fill="url(#gK)" opacity="0.50"/>
<ellipse cx="662.5" cy="305.9" rx="15" ry="13.8" fill="url(#gK)" opacity="0.60"/>
<ellipse cx="686.7" cy="290.1" rx="11.4" ry="30" fill="url(#gK)" opacity="0.50"/>
<ellipse cx="696.5" cy="305.6" rx="15" ry="13.8" fill="url(#gK)" opacity="0.60"/>
<ellipse cx="720.7" cy="289.8" rx="11.4" ry="30" fill="url(#gK)" opacity="0.50"/>
<ellipse cx="730.5" cy="305.3" rx="15" ry="13.8" fill="url(#gK)" opacity="0.60"/>
<ellipse cx="754.7" cy="289.5" rx="11.4" ry="30" fill="url(#gK)" opacity="0.50"/>
<ellipse cx="764.5" cy="305" rx="15" ry="13.8" fill="url(#gK)" opacity="0.60"/>
<ellipse cx="788.7" cy="289.2" rx="11.4" ry="30" fill="url(#gK)" opacity="0.50"/>
<ellipse cx="50.4" cy="312.4" rx="11.4" ry="27" fill="url(#gK)" opacity="0.42"/>
<ellipse cx="41.6" cy="328" rx="15" ry="13.8" fill="url(#gK)" opacity="0.60"/>
<ellipse cx="76.3" cy="327.7" rx="15" ry="13.8" fill="url(#gK)" opacity="0.60"/>
<ellipse cx="85.1" cy="312.2" rx="11.4" ry="30" fill="url(#gK)" opacity="0.50"/>
<ellipse cx="111.1" cy="327.5" rx="15" ry="13.8" fill="url(#gK)" opacity="0.60"/>
<ellipse cx="119.8" cy="311.9" rx="11.4" ry="30" fill="url(#gK)" opacity="0.50"/>
<ellipse cx="145.8" cy="327.2" rx="15" ry="13.8" fill="url(#gK)" opacity="0.60"/>
<ellipse cx="154.6" cy="311.6" rx="11.4" ry="30" fill="url(#gK)" opacity="0.50"/>
<ellipse cx="180.5" cy="326.9" rx="15" ry="13.8" fill="url(#gK)" opacity="0.60"/>
<ellipse cx="189.2" cy="311.4" rx="11.4" ry="30" fill="url(#gK)" opacity="0.50"/>
<ellipse cx="215.2" cy="326.6" rx="15" ry="13.8" fill="url(#gK)" opacity="0.60"/>
<ellipse cx="223.9" cy="311.1" rx="11.4" ry="30" fill="url(#gK)" opacity="0.50"/>
<ellipse cx="250" cy="326.4" rx="15" ry="13.8" fill="url(#gK)" opacity="0.60"/>
<ellipse cx="258.6" cy="310.8" rx="11.4" ry="30" fill="url(#gK)" opacity="0.50"/>
<ellipse cx="284.7" cy="326.1" rx="15" ry="13.8" fill="url(#gK)" opacity="0.60"/>
<ellipse cx="293.4" cy="310.5" rx="11.4" ry="30" fill="url(#gK)" opacity="0.50"/>
<ellipse cx="319.4" cy="325.8" rx="15" ry="13.8" fill="url(#gK)" opacity="0.60"/>
<ellipse cx="328.1" cy="310.3" rx="11.4" ry="30" fill="url(#gK)" opacity="0.50"/>
<ellipse cx="354.1" cy="325.6" rx="15" ry="13.8" fill="url(#gK)" opacity="0.60"/>
<ellipse cx="362.7" cy="310" rx="11.4" ry="30" fill="url(#gK)" opacity="0.50"/>
<ellipse cx="388.9" cy="325.3" rx="15" ry="13.8" fill="url(#gK)" opacity="0.60"/>
<ellipse cx="397.4" cy="309.7" rx="11.4" ry="30" fill="url(#gK)" opacity="0.50"/>
<ellipse cx="423.6" cy="325" rx="15" ry="13.8" fill="url(#gK)" opacity="0.60"/>
<ellipse cx="432.1" cy="309.5" rx="11.4" ry="30" fill="url(#gK)" opacity="0.50"/>
<ellipse cx="468.6" cy="309.2" rx="14.4" ry="15.6" fill="url(#gK)" opacity="0.90"/>
<ellipse cx="458.3" cy="324.8" rx="13.5" ry="13.8" fill="url(#gK)" opacity="0.55"/>
<ellipse cx="475.3" cy="324.6" rx="12" ry="18" fill="url(#gK)" opacity="0.35"/>
<ellipse cx="491.7" cy="338.7" rx="15" ry="13.8" fill="url(#gK)" opacity="0.60"/>
<ellipse cx="515.9" cy="322.9" rx="11.4" ry="30" fill="url(#gK)" opacity="0.50"/>
<ellipse cx="481.9" cy="323.1" rx="14.4" ry="15.6" fill="url(#gK)" opacity="0.90"/>
<ellipse cx="473" cy="338.9" rx="12" ry="18" fill="url(#gK)" opacity="0.35"/>
<ellipse cx="525.7" cy="338.4" rx="15" ry="13.8" fill="url(#gK)" opacity="0.60"/>
<ellipse cx="549.9" cy="322.6" rx="11.4" ry="30" fill="url(#gK)" opacity="0.50"/>
<ellipse cx="559.7" cy="338.1" rx="15" ry="13.8" fill="url(#gK)" opacity="0.60"/>
<ellipse cx="583.9" cy="322.2" rx="11.4" ry="30" fill="url(#gK)" opacity="0.50"/>
<ellipse cx="593.7" cy="337.8" rx="15" ry="13.8" fill="url(#gK)" opacity="0.60"/>
<ellipse cx="617.9" cy="321.9" rx="11.4" ry="30" fill="url(#gK)" opacity="0.50"/>
<ellipse cx="627.7" cy="337.5" rx="15" ry="13.8" fill="url(#gK)" opacity="0.60"/>
<ellipse cx="651.9" cy="321.6" rx="11.4" ry="30" fill="url(#gK)" opacity="0.50"/>
<ellipse cx="661.7" cy="337.2" rx="15" ry="13.8" fill="url(#gK)" opacity="0.60"/>
<ellipse cx="685.9" cy="321.4" rx="11.4" ry="30" fill="url(#gK)" opacity="0.50"/>
<ellipse cx="695.7" cy="336.9" rx="15" ry="13.8" fill="url(#gK)" opacity="0.60"/>
<ellipse cx="719.9" cy="321.1" rx="11.4" ry="30" fill="url(#gK)" opacity="0.50"/>
<ellipse cx="729.7" cy="336.6" rx="15" ry="13.8" fill="url(#gK)" opacity="0.60"/>
<ellipse cx="753.9" cy="320.8" rx="11.4" ry="30" fill="url(#gK)" opacity="0.50"/>
<ellipse cx="763.7" cy="336.3" rx="15" ry="13.8" fill="url(#gK)" opacity="0.60"/>
<ellipse cx="787.9" cy="320.4" rx="11.4" ry="30" fill="url(#gK)" opacity="0.50"/>
<ellipse cx="49.4" cy="343.4" rx="11.4" ry="27" fill="url(#gK)" opacity="0.42"/>
<ellipse cx="40.6" cy="359" rx="15" ry="13.8" fill="url(#gK)" opacity="0.60"/>
<ellipse cx="75.3" cy="358.7" rx="15" ry="13.8" fill="url(#gK)" opacity="0.60"/>
<ellipse cx="84.2" cy="343.2" rx="11.4" ry="30" fill="url(#gK)" opacity="0.50"/>
<ellipse cx="110.1" cy="358.5" rx="15" ry="13.8" fill="url(#gK)" opacity="0.60"/>
<ellipse cx="118.9" cy="342.9" rx="11.4" ry="30" fill="url(#gK)" opacity="0.50"/>
<ellipse cx="144.9" cy="358.2" rx="15" ry="13.8" fill="url(#gK)" opacity="0.60"/>
<ellipse cx="153.7" cy="342.6" rx="11.4" ry="30" fill="url(#gK)" opacity="0.50"/>
<ellipse cx="179.7" cy="357.9" rx="15" ry="13.8" fill="url(#gK)" opacity="0.60"/>
<ellipse cx="188.4" cy="342.4" rx="11.4" ry="30" fill="url(#gK)" opacity="0.50"/>
<ellipse cx="214.4" cy="357.6" rx="15" ry="13.8" fill="url(#gK)" opacity="0.60"/>
<ellipse cx="223.2" cy="342.1" rx="11.4" ry="30" fill="url(#gK)" opacity="0.50"/>
<ellipse cx="249.2" cy="357.4" rx="15" ry="13.8" fill="url(#gK)" opacity="0.60"/>
<ellipse cx="257.9" cy="341.8" rx="11.4" ry="30" fill="url(#gK)" opacity="0.50"/>
<ellipse cx="284" cy="357.1" rx="15" ry="13.8" fill="url(#gK)" opacity="0.60"/>
<ellipse cx="292.7" cy="341.5" rx="11.4" ry="30" fill="url(#gK)" opacity="0.50"/>
<ellipse cx="318.8" cy="356.8" rx="15" ry="13.8" fill="url(#gK)" opacity="0.60"/>
<ellipse cx="327.4" cy="341.3" rx="11.4" ry="30" fill="url(#gK)" opacity="0.50"/>
<ellipse cx="353.5" cy="356.6" rx="15" ry="13.8" fill="url(#gK)" opacity="0.60"/>
<ellipse cx="362.2" cy="341" rx="11.4" ry="30" fill="url(#gK)" opacity="0.50"/>
<ellipse cx="388.3" cy="356.3" rx="15" ry="13.8" fill="url(#gK)" opacity="0.60"/>
<ellipse cx="396.9" cy="340.7" rx="11.4" ry="30" fill="url(#gK)" opacity="0.50"/>
<ellipse cx="423.1" cy="356" rx="15" ry="13.8" fill="url(#gK)" opacity="0.60"/>
<ellipse cx="431.7" cy="340.5" rx="11.4" ry="30" fill="url(#gK)" opacity="0.50"/>
<ellipse cx="468.2" cy="340.2" rx="14.4" ry="15.6" fill="url(#gK)" opacity="0.90"/>
<ellipse cx="457.9" cy="355.8" rx="13.5" ry="13.8" fill="url(#gK)" opacity="0.55"/>
<ellipse cx="474.9" cy="355.6" rx="12" ry="18" fill="url(#gK)" opacity="0.35"/>
<ellipse cx="491" cy="369.9" rx="15" ry="13.8" fill="url(#gK)" opacity="0.60"/>
<ellipse cx="515.2" cy="354.1" rx="11.4" ry="30" fill="url(#gK)" opacity="0.50"/>
<ellipse cx="481.2" cy="354.4" rx="14.4" ry="15.6" fill="url(#gK)" opacity="0.90"/>
<ellipse cx="472.3" cy="370.1" rx="12" ry="18" fill="url(#gK)" opacity="0.35"/>
<ellipse cx="525" cy="369.6" rx="15" ry="13.8" fill="url(#gK)" opacity="0.60"/>
<ellipse cx="549.2" cy="353.8" rx="11.4" ry="30" fill="url(#gK)" opacity="0.50"/>
<ellipse cx="559" cy="369.3" rx="15" ry="13.8" fill="url(#gK)" opacity="0.60"/>
<ellipse cx="583.2" cy="353.5" rx="11.4" ry="30" fill="url(#gK)" opacity="0.50"/>
<ellipse cx="593" cy="369" rx="15" ry="13.8" fill="url(#gK)" opacity="0.60"/>
<ellipse cx="617.2" cy="353.2" rx="11.4" ry="30" fill="url(#gK)" opacity="0.50"/>
<ellipse cx="627" cy="368.7" rx="15" ry="13.8" fill="url(#gK)" opacity="0.60"/>
<ellipse cx="651.2" cy="352.9" rx="11.4" ry="30" fill="url(#gK)" opacity="0.50"/>
<ellipse cx="661" cy="368.4" rx="15" ry="13.8" fill="url(#gK)" opacity="0.60"/>
<ellipse cx="685.2" cy="352.6" rx="11.4" ry="30" fill="url(#gK)" opacity="0.50"/>
<ellipse cx="695" cy="368.1" rx="15" ry="13.8" fill="url(#gK)" opacity="0.60"/>
<ellipse cx="719.2" cy="352.3" rx="11.4" ry="30" fill="url(#gK)" opacity="0.50"/>
<ellipse cx="729" cy="367.8" rx="15" ry="13.8" fill="url(#gK)" opacity="0.60"/>
<ellipse cx="753.2" cy="352" rx="11.4" ry="30" fill="url(#gK)" opacity="0.50"/>
<ellipse cx="763" cy="367.5" rx="15" ry="13.8" fill="url(#gK)" opacity="0.60"/>
<ellipse cx="787.2" cy="351.7" rx="11.4" ry="30" fill="url(#gK)" opacity="0.50"/>
<ellipse cx="48.4" cy="374.4" rx="11.4" ry="27" fill="url(#gK)" opacity="0.42"/>
<ellipse cx="39.5" cy="390" rx="15" ry="13.8" fill="url(#gK)" opacity="0.60"/>
<ellipse cx="74.4" cy="389.7" rx="15" ry="13.8" fill="url(#gK)" opacity="0.60"/>
<ellipse cx="83.2" cy="374.2" rx="11.4" ry="30" fill="url(#gK)" opacity="0.50"/>
<ellipse cx="109.2" cy="389.5" rx="15" ry="13.8" fill="url(#gK)" opacity="0.60"/>
<ellipse cx="118" cy="373.9" rx="11.4" ry="30" fill="url(#gK)" opacity="0.50"/>
<ellipse cx="144" cy="389.2" rx="15" ry="13.8" fill="url(#gK)" opacity="0.60"/>
<ellipse cx="152.8" cy="373.6" rx="11.4" ry="30" fill="url(#gK)" opacity="0.50"/>
<ellipse cx="178.8" cy="388.9" rx="15" ry="13.8" fill="url(#gK)" opacity="0.60"/>
<ellipse cx="187.6" cy="373.4" rx="11.4" ry="30" fill="url(#gK)" opacity="0.50"/>
<ellipse cx="213.7" cy="388.6" rx="15" ry="13.8" fill="url(#gK)" opacity="0.60"/>
<ellipse cx="222.4" cy="373.1" rx="11.4" ry="30" fill="url(#gK)" opacity="0.50"/>
<ellipse cx="248.5" cy="388.4" rx="15" ry="13.8" fill="url(#gK)" opacity="0.60"/>
<ellipse cx="257.2" cy="372.8" rx="11.4" ry="30" fill="url(#gK)" opacity="0.50"/>
<ellipse cx="283.3" cy="388.1" rx="15" ry="13.8" fill="url(#gK)" opacity="0.60"/>
<ellipse cx="292" cy="372.5" rx="11.4" ry="30" fill="url(#gK)" opacity="0.50"/>
<ellipse cx="318.1" cy="387.8" rx="15" ry="13.8" fill="url(#gK)" opacity="0.60"/>
<ellipse cx="326.8" cy="372.3" rx="11.4" ry="30" fill="url(#gK)" opacity="0.50"/>
<ellipse cx="353" cy="387.6" rx="15" ry="13.8" fill="url(#gK)" opacity="0.60"/>
<ellipse cx="361.6" cy="372" rx="11.4" ry="30" fill="url(#gK)" opacity="0.50"/>
<ellipse cx="387.8" cy="387.3" rx="15" ry="13.8" fill="url(#gK)" opacity="0.60"/>
<ellipse cx="396.4" cy="371.7" rx="11.4" ry="30" fill="url(#gK)" opacity="0.50"/>
<ellipse cx="422.6" cy="387" rx="15" ry="13.8" fill="url(#gK)" opacity="0.60"/>
<ellipse cx="431.2" cy="371.5" rx="11.4" ry="30" fill="url(#gK)" opacity="0.50"/>
<ellipse cx="467.7" cy="371.2" rx="14.4" ry="15.6" fill="url(#gK)" opacity="0.90"/>
<ellipse cx="457.4" cy="386.8" rx="13.5" ry="13.8" fill="url(#gK)" opacity="0.55"/>
<ellipse cx="474.5" cy="386.6" rx="12" ry="18" fill="url(#gK)" opacity="0.35"/>
<ellipse cx="490.2" cy="401.2" rx="15" ry="13.8" fill="url(#gK)" opacity="0.60"/>
<ellipse cx="514.4" cy="385.4" rx="11.4" ry="30" fill="url(#gK)" opacity="0.50"/>
<ellipse cx="480.4" cy="385.6" rx="14.4" ry="15.6" fill="url(#gK)" opacity="0.90"/>
<ellipse cx="471.5" cy="401.4" rx="12" ry="18" fill="url(#gK)" opacity="0.35"/>
<ellipse cx="524.2" cy="400.9" rx="15" ry="13.8" fill="url(#gK)" opacity="0.60"/>
<ellipse cx="548.4" cy="385.1" rx="11.4" ry="30" fill="url(#gK)" opacity="0.50"/>
<ellipse cx="558.2" cy="400.6" rx="15" ry="13.8" fill="url(#gK)" opacity="0.60"/>
<ellipse cx="582.4" cy="384.8" rx="11.4" ry="30" fill="url(#gK)" opacity="0.50"/>
<ellipse cx="592.2" cy="400.3" rx="15" ry="13.8" fill="url(#gK)" opacity="0.60"/>
<ellipse cx="616.4" cy="384.4" rx="11.4" ry="30" fill="url(#gK)" opacity="0.50"/>
<ellipse cx="626.2" cy="400" rx="15" ry="13.8" fill="url(#gK)" opacity="0.60"/>
<ellipse cx="650.4" cy="384.1" rx="11.4" ry="30" fill="url(#gK)" opacity="0.50"/>
<ellipse cx="660.2" cy="399.7" rx="15" ry="13.8" fill="url(#gK)" opacity="0.60"/>
<ellipse cx="684.4" cy="383.9" rx="11.4" ry="30" fill="url(#gK)" opacity="0.50"/>
<ellipse cx="694.2" cy="399.4" rx="15" ry="13.8" fill="url(#gK)" opacity="0.60"/>
<ellipse cx="718.4" cy="383.6" rx="11.4" ry="30" fill="url(#gK)" opacity="0.50"/>
<ellipse cx="728.2" cy="399.1" rx="15" ry="13.8" fill="url(#gK)" opacity="0.60"/>
<ellipse cx="752.4" cy="383.2" rx="11.4" ry="30" fill="url(#gK)" opacity="0.50"/>
<ellipse cx="762.2" cy="398.8" rx="15" ry="13.8" fill="url(#gK)" opacity="0.60"/>
<ellipse cx="786.4" cy="382.9" rx="11.4" ry="30" fill="url(#gK)" opacity="0.50"/>
<ellipse cx="47.4" cy="405.4" rx="11.4" ry="27" fill="url(#gK)" opacity="0.42"/>
<ellipse cx="38.5" cy="421" rx="15" ry="13.8" fill="url(#gK)" opacity="0.60"/>
<ellipse cx="73.4" cy="420.7" rx="15" ry="13.8" fill="url(#gK)" opacity="0.60"/>
<ellipse cx="82.2" cy="405.2" rx="11.4" ry="30" fill="url(#gK)" opacity="0.50"/>
<ellipse cx="108.2" cy="420.5" rx="15" ry="13.8" fill="url(#gK)" opacity="0.60"/>
<ellipse cx="117.1" cy="404.9" rx="11.4" ry="30" fill="url(#gK)" opacity="0.50"/>
<ellipse cx="143.1" cy="420.2" rx="15" ry="13.8" fill="url(#gK)" opacity="0.60"/>
<ellipse cx="151.9" cy="404.6" rx="11.4" ry="30" fill="url(#gK)" opacity="0.50"/>
<ellipse cx="178" cy="419.9" rx="15" ry="13.8" fill="url(#gK)" opacity="0.60"/>
<ellipse cx="186.8" cy="404.4" rx="11.4" ry="30" fill="url(#gK)" opacity="0.50"/>
<ellipse cx="212.9" cy="419.6" rx="15" ry="13.8" fill="url(#gK)" opacity="0.60"/>
<ellipse cx="221.6" cy="404.1" rx="11.4" ry="30" fill="url(#gK)" opacity="0.50"/>
<ellipse cx="247.7" cy="419.4" rx="15" ry="13.8" fill="url(#gK)" opacity="0.60"/>
<ellipse cx="256.5" cy="403.8" rx="11.4" ry="30" fill="url(#gK)" opacity="0.50"/>
<ellipse cx="282.6" cy="419.1" rx="15" ry="13.8" fill="url(#gK)" opacity="0.60"/>
<ellipse cx="291.3" cy="403.5" rx="11.4" ry="30" fill="url(#gK)" opacity="0.50"/>
<ellipse cx="317.5" cy="418.8" rx="15" ry="13.8" fill="url(#gK)" opacity="0.60"/>
<ellipse cx="326.2" cy="403.3" rx="11.4" ry="30" fill="url(#gK)" opacity="0.50"/>
<ellipse cx="352.4" cy="418.6" rx="15" ry="13.8" fill="url(#gK)" opacity="0.60"/>
<ellipse cx="361" cy="403" rx="11.4" ry="30" fill="url(#gK)" opacity="0.50"/>
<ellipse cx="387.2" cy="418.3" rx="15" ry="13.8" fill="url(#gK)" opacity="0.60"/>
<ellipse cx="395.9" cy="402.7" rx="11.4" ry="30" fill="url(#gK)" opacity="0.50"/>
<ellipse cx="422.1" cy="418" rx="15" ry="13.8" fill="url(#gK)" opacity="0.60"/>
<ellipse cx="430.7" cy="402.5" rx="11.4" ry="30" fill="url(#gK)" opacity="0.50"/>
<ellipse cx="467.3" cy="402.2" rx="14.4" ry="15.6" fill="url(#gK)" opacity="0.90"/>
<ellipse cx="457" cy="417.8" rx="13.5" ry="13.8" fill="url(#gK)" opacity="0.55"/>
<ellipse cx="474.1" cy="417.6" rx="12" ry="18" fill="url(#gK)" opacity="0.35"/>
<ellipse cx="489.5" cy="432.4" rx="15" ry="13.8" fill="url(#gK)" opacity="0.60"/>
<ellipse cx="513.6" cy="416.6" rx="11.4" ry="30" fill="url(#gK)" opacity="0.50"/>
<ellipse cx="479.6" cy="416.9" rx="14.4" ry="15.6" fill="url(#gK)" opacity="0.90"/>
<ellipse cx="470.8" cy="432.6" rx="12" ry="18" fill="url(#gK)" opacity="0.35"/>
<ellipse cx="523.5" cy="432.1" rx="15" ry="13.8" fill="url(#gK)" opacity="0.60"/>
<ellipse cx="547.6" cy="416.3" rx="11.4" ry="30" fill="url(#gK)" opacity="0.50"/>
<ellipse cx="557.5" cy="431.8" rx="15" ry="13.8" fill="url(#gK)" opacity="0.60"/>
<ellipse cx="581.6" cy="416" rx="11.4" ry="30" fill="url(#gK)" opacity="0.50"/>
<ellipse cx="591.5" cy="431.5" rx="15" ry="13.8" fill="url(#gK)" opacity="0.60"/>
<ellipse cx="615.6" cy="415.7" rx="11.4" ry="30" fill="url(#gK)" opacity="0.50"/>
<ellipse cx="625.5" cy="431.2" rx="15" ry="13.8" fill="url(#gK)" opacity="0.60"/>
<ellipse cx="649.6" cy="415.4" rx="11.4" ry="30" fill="url(#gK)" opacity="0.50"/>
<ellipse cx="659.5" cy="430.9" rx="15" ry="13.8" fill="url(#gK)" opacity="0.60"/>
<ellipse cx="683.6" cy="415.1" rx="11.4" ry="30" fill="url(#gK)" opacity="0.50"/>
<ellipse cx="693.5" cy="430.6" rx="15" ry="13.8" fill="url(#gK)" opacity="0.60"/>
<ellipse cx="717.6" cy="414.8" rx="11.4" ry="30" fill="url(#gK)" opacity="0.50"/>
<ellipse cx="727.5" cy="430.3" rx="15" ry="13.8" fill="url(#gK)" opacity="0.60"/>
<ellipse cx="751.6" cy="414.5" rx="11.4" ry="30" fill="url(#gK)" opacity="0.50"/>
<ellipse cx="761.5" cy="430" rx="15" ry="13.8" fill="url(#gK)" opacity="0.60"/>
<ellipse cx="785.6" cy="414.2" rx="11.4" ry="30" fill="url(#gK)" opacity="0.50"/>
<ellipse cx="479.7" cy="36" rx="22.5" ry="48" fill="url(#gK)" opacity="0.20"/>
<ellipse cx="479" cy="67.2" rx="22.5" ry="48" fill="url(#gK)" opacity="0.20"/>
<ellipse cx="478.4" cy="98.3" rx="22.5" ry="48" fill="url(#gK)" opacity="0.20"/>
<ellipse cx="477.8" cy="129.4" rx="22.5" ry="48" fill="url(#gK)" opacity="0.20"/>
<ellipse cx="477.2" cy="160.5" rx="22.5" ry="48" fill="url(#gK)" opacity="0.20"/>
<ellipse cx="476.6" cy="191.7" rx="22.5" ry="48" fill="url(#gK)" opacity="0.20"/>
<ellipse cx="476" cy="222.8" rx="22.5" ry="48" fill="url(#gK)" opacity="0.20"/>
<ellipse cx="475.4" cy="253.9" rx="22.5" ry="48" fill="url(#gK)" opacity="0.20"/>
<ellipse cx="474.8" cy="285" rx="22.5" ry="48" fill="url(#gK)" opacity="0.20"/>
<ellipse cx="474.2" cy="316.2" rx="22.5" ry="48" fill="url(#gK)" opacity="0.20"/>
<ellipse cx="473.6" cy="347.3" rx="22.5" ry="48" fill="url(#gK)" opacity="0.20"/>
<ellipse cx="473" cy="378.4" rx="22.5" ry="48" fill="url(#gK)" opacity="0.20"/>
<ellipse cx="472.4" cy="409.5" rx="22.5" ry="48" fill="url(#gK)" opacity="0.20"/>
<ellipse cx="471.8" cy="440.7" rx="22.5" ry="48" fill="url(#gK)" opacity="0.20"/>
<ellipse cx="76.8" cy="33.3" rx="14.4" ry="19.2" fill="url(#gW)" opacity="0.91"/>
<ellipse cx="111" cy="33" rx="14.4" ry="19.2" fill="url(#gW)" opacity="0.98"/>
<ellipse cx="145.3" cy="32.8" rx="14.4" ry="19.2" fill="url(#gW)" opacity="0.98"/>
<ellipse cx="179.5" cy="32.5" rx="14.4" ry="19.2" fill="url(#gW)" opacity="0.93"/>
<ellipse cx="213.8" cy="32.2" rx="14.4" ry="19.2" fill="url(#gW)" opacity="0.95"/>
<ellipse cx="248.1" cy="31.9" rx="14.4" ry="19.2" fill="url(#gW)" opacity="0.94"/>
<ellipse cx="282.3" cy="31.7" rx="14.4" ry="19.2" fill="url(#gW)" opacity="0.97"/>
<ellipse cx="316.5" cy="31.4" rx="14.4" ry="19.2" fill="url(#gW)" opacity="0.98"/>
<ellipse cx="350.8" cy="31.1" rx="14.4" ry="19.2" fill="url(#gW)" opacity="0.91"/>
<ellipse cx="385.1" cy="30.9" rx="14.4" ry="19.2" fill="url(#gW)" opacity="0.90"/>
<ellipse cx="419.3" cy="30.6" rx="14.4" ry="19.2" fill="url(#gW)" opacity="0.98"/>
<ellipse cx="453.5" cy="30.3" rx="14.4" ry="19.2" fill="url(#gW)" opacity="0.58"/>
<ellipse cx="487.8" cy="30.1" rx="14.4" ry="19.2" fill="url(#gW)" opacity="0.27"/>
<ellipse cx="471.8" cy="42" rx="14.4" ry="19.2" fill="url(#gW)" opacity="0.27"/>
<ellipse cx="505.8" cy="41.8" rx="14.4" ry="19.2" fill="url(#gW)" opacity="0.71"/>
<ellipse cx="539.8" cy="41.5" rx="14.4" ry="19.2" fill="url(#gW)" opacity="0.97"/>
<ellipse cx="573.8" cy="41.1" rx="14.4" ry="19.2" fill="url(#gW)" opacity="0.92"/>
<ellipse cx="607.8" cy="40.9" rx="14.4" ry="19.2" fill="url(#gW)" opacity="0.99"/>
<ellipse cx="641.8" cy="40.5" rx="14.4" ry="19.2" fill="url(#gW)" opacity="0.99"/>
<ellipse cx="675.8" cy="40.2" rx="14.4" ry="19.2" fill="url(#gW)" opacity="0.90"/>
<ellipse cx="709.8" cy="40" rx="14.4" ry="19.2" fill="url(#gW)" opacity="0.90"/>
<ellipse cx="743.8" cy="39.6" rx="14.4" ry="19.2" fill="url(#gW)" opacity="0.95"/>
<ellipse cx="777.8" cy="39.4" rx="14.4" ry="19.2" fill="url(#gW)" opacity="0.99"/>
<ellipse cx="75.8" cy="64.3" rx="14.4" ry="19.2" fill="url(#gW)" opacity="0.94"/>
<ellipse cx="110.1" cy="64" rx="14.4" ry="19.2" fill="url(#gW)" opacity="0.92"/>
<ellipse cx="144.4" cy="63.8" rx="14.4" ry="19.2" fill="url(#gW)" opacity="0.94"/>
<ellipse cx="178.7" cy="63.5" rx="14.4" ry="19.2" fill="url(#gW)" opacity="0.90"/>
<ellipse cx="213" cy="63.2" rx="14.4" ry="19.2" fill="url(#gW)" opacity="0.92"/>
<ellipse cx="247.3" cy="62.9" rx="14.4" ry="19.2" fill="url(#gW)" opacity="0.94"/>
<ellipse cx="281.6" cy="62.7" rx="14.4" ry="19.2" fill="url(#gW)" opacity="0.95"/>
<ellipse cx="315.9" cy="62.4" rx="14.4" ry="19.2" fill="url(#gW)" opacity="0.92"/>
<ellipse cx="350.2" cy="62.1" rx="14.4" ry="19.2" fill="url(#gW)" opacity="0.92"/>
<ellipse cx="384.5" cy="61.9" rx="14.4" ry="19.2" fill="url(#gW)" opacity="0.92"/>
<ellipse cx="418.8" cy="61.6" rx="14.4" ry="19.2" fill="url(#gW)" opacity="0.95"/>
<ellipse cx="453.1" cy="61.3" rx="14.4" ry="19.2" fill="url(#gW)" opacity="0.58"/>
<ellipse cx="487.4" cy="61.1" rx="14.4" ry="19.2" fill="url(#gW)" opacity="0.25"/>
<ellipse cx="471" cy="73.3" rx="14.4" ry="19.2" fill="url(#gW)" opacity="0.30"/>
<ellipse cx="505" cy="73" rx="14.4" ry="19.2" fill="url(#gW)" opacity="0.72"/>
<ellipse cx="539" cy="72.7" rx="14.4" ry="19.2" fill="url(#gW)" opacity="0.96"/>
<ellipse cx="573" cy="72.4" rx="14.4" ry="19.2" fill="url(#gW)" opacity="0.92"/>
<ellipse cx="607" cy="72.1" rx="14.4" ry="19.2" fill="url(#gW)" opacity="1.00"/>
<ellipse cx="641" cy="71.8" rx="14.4" ry="19.2" fill="url(#gW)" opacity="0.99"/>
<ellipse cx="675" cy="71.5" rx="14.4" ry="19.2" fill="url(#gW)" opacity="0.91"/>
<ellipse cx="709" cy="71.2" rx="14.4" ry="19.2" fill="url(#gW)" opacity="0.93"/>
<ellipse cx="743" cy="70.9" rx="14.4" ry="19.2" fill="url(#gW)" opacity="0.97"/>
<ellipse cx="777" cy="70.6" rx="14.4" ry="19.2" fill="url(#gW)" opacity="0.97"/>
<ellipse cx="74.8" cy="95.3" rx="14.4" ry="19.2" fill="url(#gW)" opacity="0.99"/>
<ellipse cx="109.1" cy="95" rx="14.4" ry="19.2" fill="url(#gW)" opacity="0.94"/>
<ellipse cx="143.5" cy="94.8" rx="14.4" ry="19.2" fill="url(#gW)" opacity="0.98"/>
<ellipse cx="177.8" cy="94.5" rx="14.4" ry="19.2" fill="url(#gW)" opacity="0.97"/>
<ellipse cx="212.2" cy="94.2" rx="14.4" ry="19.2" fill="url(#gW)" opacity="0.93"/>
<ellipse cx="246.6" cy="94" rx="14.4" ry="19.2" fill="url(#gW)" opacity="0.96"/>
<ellipse cx="280.9" cy="93.7" rx="14.4" ry="19.2" fill="url(#gW)" opacity="0.99"/>
<ellipse cx="315.2" cy="93.4" rx="14.4" ry="19.2" fill="url(#gW)" opacity="0.98"/>
<ellipse cx="349.6" cy="93.1" rx="14.4" ry="19.2" fill="url(#gW)" opacity="0.95"/>
<ellipse cx="383.9" cy="92.9" rx="14.4" ry="19.2" fill="url(#gW)" opacity="0.96"/>
<ellipse cx="418.3" cy="92.6" rx="14.4" ry="19.2" fill="url(#gW)" opacity="0.90"/>
<ellipse cx="452.6" cy="92.3" rx="14.4" ry="19.2" fill="url(#gW)" opacity="0.57"/>
<ellipse cx="487" cy="92.1" rx="14.4" ry="19.2" fill="url(#gW)" opacity="0.27"/>
<ellipse cx="470.2" cy="104.5" rx="14.4" ry="19.2" fill="url(#gW)" opacity="0.28"/>
<ellipse cx="504.2" cy="104.2" rx="14.4" ry="19.2" fill="url(#gW)" opacity="0.69"/>
<ellipse cx="538.2" cy="104" rx="14.4" ry="19.2" fill="url(#gW)" opacity="0.95"/>
<ellipse cx="572.2" cy="103.7" rx="14.4" ry="19.2" fill="url(#gW)" opacity="0.97"/>
<ellipse cx="606.2" cy="103.3" rx="14.4" ry="19.2" fill="url(#gW)" opacity="0.97"/>
<ellipse cx="640.2" cy="103" rx="14.4" ry="19.2" fill="url(#gW)" opacity="0.94"/>
<ellipse cx="674.2" cy="102.8" rx="14.4" ry="19.2" fill="url(#gW)" opacity="0.94"/>
<ellipse cx="708.2" cy="102.5" rx="14.4" ry="19.2" fill="url(#gW)" opacity="0.95"/>
<ellipse cx="742.2" cy="102.2" rx="14.4" ry="19.2" fill="url(#gW)" opacity="0.98"/>
<ellipse cx="776.2" cy="101.8" rx="14.4" ry="19.2" fill="url(#gW)" opacity="0.95"/>
<ellipse cx="73.8" cy="126.3" rx="14.4" ry="19.2" fill="url(#gW)" opacity="0.94"/>
<ellipse cx="108.2" cy="126" rx="14.4" ry="19.2" fill="url(#gW)" opacity="0.95"/>
<ellipse cx="142.6" cy="125.8" rx="14.4" ry="19.2" fill="url(#gW)" opacity="0.90"/>
<ellipse cx="177" cy="125.5" rx="14.4" ry="19.2" fill="url(#gW)" opacity="0.90"/>
<ellipse cx="211.4" cy="125.2" rx="14.4" ry="19.2" fill="url(#gW)" opacity="0.97"/>
<ellipse cx="245.8" cy="125" rx="14.4" ry="19.2" fill="url(#gW)" opacity="1.00"/>
<ellipse cx="280.2" cy="124.7" rx="14.4" ry="19.2" fill="url(#gW)" opacity="0.96"/>
<ellipse cx="314.6" cy="124.4" rx="14.4" ry="19.2" fill="url(#gW)" opacity="0.94"/>
<ellipse cx="349" cy="124.1" rx="14.4" ry="19.2" fill="url(#gW)" opacity="0.92"/>
<ellipse cx="383.4" cy="123.9" rx="14.4" ry="19.2" fill="url(#gW)" opacity="0.95"/>
<ellipse cx="417.8" cy="123.6" rx="14.4" ry="19.2" fill="url(#gW)" opacity="1.00"/>
<ellipse cx="452.2" cy="123.3" rx="14.4" ry="19.2" fill="url(#gW)" opacity="0.61"/>
<ellipse cx="486.6" cy="123.1" rx="14.4" ry="19.2" fill="url(#gW)" opacity="0.27"/>
<ellipse cx="469.5" cy="135.8" rx="14.4" ry="19.2" fill="url(#gW)" opacity="0.30"/>
<ellipse cx="503.5" cy="135.5" rx="14.4" ry="19.2" fill="url(#gW)" opacity="0.69"/>
<ellipse cx="537.5" cy="135.2" rx="14.4" ry="19.2" fill="url(#gW)" opacity="0.95"/>
<ellipse cx="571.5" cy="134.9" rx="14.4" ry="19.2" fill="url(#gW)" opacity="1.00"/>
<ellipse cx="605.5" cy="134.6" rx="14.4" ry="19.2" fill="url(#gW)" opacity="0.96"/>
<ellipse cx="639.5" cy="134.3" rx="14.4" ry="19.2" fill="url(#gW)" opacity="0.95"/>
<ellipse cx="673.5" cy="134" rx="14.4" ry="19.2" fill="url(#gW)" opacity="0.93"/>
<ellipse cx="707.5" cy="133.7" rx="14.4" ry="19.2" fill="url(#gW)" opacity="0.95"/>
<ellipse cx="741.5" cy="133.4" rx="14.4" ry="19.2" fill="url(#gW)" opacity="1.00"/>
<ellipse cx="775.5" cy="133.1" rx="14.4" ry="19.2" fill="url(#gW)" opacity="0.90"/>
<ellipse cx="72.8" cy="157.3" rx="14.4" ry="19.2" fill="url(#gW)" opacity="0.98"/>
<ellipse cx="107.2" cy="157" rx="14.4" ry="19.2" fill="url(#gW)" opacity="0.98"/>
<ellipse cx="141.7" cy="156.8" rx="14.4" ry="19.2" fill="url(#gW)" opacity="0.99"/>
<ellipse cx="176.1" cy="156.5" rx="14.4" ry="19.2" fill="url(#gW)" opacity="0.97"/>
<ellipse cx="210.6" cy="156.2" rx="14.4" ry="19.2" fill="url(#gW)" opacity="0.98"/>
<ellipse cx="245.1" cy="156" rx="14.4" ry="19.2" fill="url(#gW)" opacity="0.95"/>
<ellipse cx="279.5" cy="155.7" rx="14.4" ry="19.2" fill="url(#gW)" opacity="0.96"/>
<ellipse cx="313.9" cy="155.4" rx="14.4" ry="19.2" fill="url(#gW)" opacity="0.94"/>
<ellipse cx="348.4" cy="155.1" rx="14.4" ry="19.2" fill="url(#gW)" opacity="0.91"/>
<ellipse cx="382.9" cy="154.9" rx="14.4" ry="19.2" fill="url(#gW)" opacity="0.99"/>
<ellipse cx="417.3" cy="154.6" rx="14.4" ry="19.2" fill="url(#gW)" opacity="0.96"/>
<ellipse cx="451.7" cy="154.3" rx="14.4" ry="19.2" fill="url(#gW)" opacity="0.57"/>
<ellipse cx="486.2" cy="154.1" rx="14.4" ry="19.2" fill="url(#gW)" opacity="0.27"/>
<ellipse cx="468.7" cy="167.1" rx="14.4" ry="19.2" fill="url(#gW)" opacity="0.28"/>
<ellipse cx="502.7" cy="166.8" rx="14.4" ry="19.2" fill="url(#gW)" opacity="0.70"/>
<ellipse cx="536.7" cy="166.4" rx="14.4" ry="19.2" fill="url(#gW)" opacity="0.93"/>
<ellipse cx="570.7" cy="166.2" rx="14.4" ry="19.2" fill="url(#gW)" opacity="0.95"/>
<ellipse cx="604.7" cy="165.8" rx="14.4" ry="19.2" fill="url(#gW)" opacity="0.96"/>
<ellipse cx="638.7" cy="165.6" rx="14.4" ry="19.2" fill="url(#gW)" opacity="0.96"/>
<ellipse cx="672.7" cy="165.2" rx="14.4" ry="19.2" fill="url(#gW)" opacity="0.95"/>
<ellipse cx="706.7" cy="164.9" rx="14.4" ry="19.2" fill="url(#gW)" opacity="0.90"/>
<ellipse cx="740.7" cy="164.7" rx="14.4" ry="19.2" fill="url(#gW)" opacity="0.92"/>
<ellipse cx="774.7" cy="164.3" rx="14.4" ry="19.2" fill="url(#gW)" opacity="0.92"/>
<ellipse cx="71.8" cy="188.3" rx="14.4" ry="19.2" fill="url(#gW)" opacity="0.96"/>
<ellipse cx="106.3" cy="188" rx="14.4" ry="19.2" fill="url(#gW)" opacity="0.99"/>
<ellipse cx="140.8" cy="187.8" rx="14.4" ry="19.2" fill="url(#gW)" opacity="0.98"/>
<ellipse cx="175.3" cy="187.5" rx="14.4" ry="19.2" fill="url(#gW)" opacity="0.98"/>
<ellipse cx="209.8" cy="187.2" rx="14.4" ry="19.2" fill="url(#gW)" opacity="0.98"/>
<ellipse cx="244.3" cy="187" rx="14.4" ry="19.2" fill="url(#gW)" opacity="0.93"/>
<ellipse cx="278.8" cy="186.7" rx="14.4" ry="19.2" fill="url(#gW)" opacity="0.98"/>
<ellipse cx="313.3" cy="186.4" rx="14.4" ry="19.2" fill="url(#gW)" opacity="0.97"/>
<ellipse cx="347.8" cy="186.1" rx="14.4" ry="19.2" fill="url(#gW)" opacity="0.91"/>
<ellipse cx="382.3" cy="185.9" rx="14.4" ry="19.2" fill="url(#gW)" opacity="0.90"/>
<ellipse cx="416.8" cy="185.6" rx="14.4" ry="19.2" fill="url(#gW)" opacity="0.90"/>
<ellipse cx="451.3" cy="185.3" rx="14.4" ry="19.2" fill="url(#gW)" opacity="0.60"/>
<ellipse cx="485.8" cy="185.1" rx="14.4" ry="19.2" fill="url(#gW)" opacity="0.26"/>
<ellipse cx="468" cy="198.3" rx="14.4" ry="19.2" fill="url(#gW)" opacity="0.27"/>
<ellipse cx="502" cy="198" rx="14.4" ry="19.2" fill="url(#gW)" opacity="0.72"/>
<ellipse cx="536" cy="197.7" rx="14.4" ry="19.2" fill="url(#gW)" opacity="0.93"/>
<ellipse cx="570" cy="197.4" rx="14.4" ry="19.2" fill="url(#gW)" opacity="0.91"/>
<ellipse cx="604" cy="197.1" rx="14.4" ry="19.2" fill="url(#gW)" opacity="0.92"/>
<ellipse cx="638" cy="196.8" rx="14.4" ry="19.2" fill="url(#gW)" opacity="0.95"/>
<ellipse cx="672" cy="196.5" rx="14.4" ry="19.2" fill="url(#gW)" opacity="0.92"/>
<ellipse cx="706" cy="196.2" rx="14.4" ry="19.2" fill="url(#gW)" opacity="0.93"/>
<ellipse cx="740" cy="195.9" rx="14.4" ry="19.2" fill="url(#gW)" opacity="0.97"/>
<ellipse cx="774" cy="195.6" rx="14.4" ry="19.2" fill="url(#gW)" opacity="0.95"/>
<ellipse cx="70.8" cy="219.3" rx="14.4" ry="19.2" fill="url(#gW)" opacity="0.93"/>
<ellipse cx="105.3" cy="219" rx="14.4" ry="19.2" fill="url(#gW)" opacity="0.95"/>
<ellipse cx="139.9" cy="218.8" rx="14.4" ry="19.2" fill="url(#gW)" opacity="0.90"/>
<ellipse cx="174.4" cy="218.5" rx="14.4" ry="19.2" fill="url(#gW)" opacity="0.94"/>
<ellipse cx="209" cy="218.2" rx="14.4" ry="19.2" fill="url(#gW)" opacity="0.94"/>
<ellipse cx="243.6" cy="218" rx="14.4" ry="19.2" fill="url(#gW)" opacity="0.92"/>
<ellipse cx="278.1" cy="217.7" rx="14.4" ry="19.2" fill="url(#gW)" opacity="0.91"/>
<ellipse cx="312.6" cy="217.4" rx="14.4" ry="19.2" fill="url(#gW)" opacity="0.99"/>
<ellipse cx="347.2" cy="217.1" rx="14.4" ry="19.2" fill="url(#gW)" opacity="0.95"/>
<ellipse cx="381.8" cy="216.9" rx="14.4" ry="19.2" fill="url(#gW)" opacity="0.92"/>
<ellipse cx="416.3" cy="216.6" rx="14.4" ry="19.2" fill="url(#gW)" opacity="0.96"/>
<ellipse cx="450.8" cy="216.3" rx="14.4" ry="19.2" fill="url(#gW)" opacity="0.61"/>
<ellipse cx="485.4" cy="216.1" rx="14.4" ry="19.2" fill="url(#gW)" opacity="0.25"/>
<ellipse cx="467.2" cy="229.6" rx="14.4" ry="19.2" fill="url(#gW)" opacity="0.27"/>
<ellipse cx="501.2" cy="229.2" rx="14.4" ry="19.2" fill="url(#gW)" opacity="0.69"/>
<ellipse cx="535.2" cy="228.9" rx="14.4" ry="19.2" fill="url(#gW)" opacity="0.97"/>
<ellipse cx="569.2" cy="228.7" rx="14.4" ry="19.2" fill="url(#gW)" opacity="0.92"/>
<ellipse cx="603.2" cy="228.3" rx="14.4" ry="19.2" fill="url(#gW)" opacity="0.97"/>
<ellipse cx="637.2" cy="228.1" rx="14.4" ry="19.2" fill="url(#gW)" opacity="0.97"/>
<ellipse cx="671.2" cy="227.8" rx="14.4" ry="19.2" fill="url(#gW)" opacity="0.95"/>
<ellipse cx="705.2" cy="227.4" rx="14.4" ry="19.2" fill="url(#gW)" opacity="0.92"/>
<ellipse cx="739.2" cy="227.2" rx="14.4" ry="19.2" fill="url(#gW)" opacity="1.00"/>
<ellipse cx="773.2" cy="226.8" rx="14.4" ry="19.2" fill="url(#gW)" opacity="0.98"/>
<ellipse cx="69.8" cy="250.3" rx="14.4" ry="19.2" fill="url(#gW)" opacity="0.95"/>
<ellipse cx="104.4" cy="250" rx="14.4" ry="19.2" fill="url(#gW)" opacity="0.92"/>
<ellipse cx="139" cy="249.8" rx="14.4" ry="19.2" fill="url(#gW)" opacity="0.96"/>
<ellipse cx="173.6" cy="249.5" rx="14.4" ry="19.2" fill="url(#gW)" opacity="0.94"/>
<ellipse cx="208.2" cy="249.2" rx="14.4" ry="19.2" fill="url(#gW)" opacity="0.96"/>
<ellipse cx="242.8" cy="249" rx="14.4" ry="19.2" fill="url(#gW)" opacity="0.93"/>
<ellipse cx="277.4" cy="248.7" rx="14.4" ry="19.2" fill="url(#gW)" opacity="0.96"/>
<ellipse cx="312" cy="248.4" rx="14.4" ry="19.2" fill="url(#gW)" opacity="0.91"/>
<ellipse cx="346.6" cy="248.1" rx="14.4" ry="19.2" fill="url(#gW)" opacity="0.93"/>
<ellipse cx="381.2" cy="247.9" rx="14.4" ry="19.2" fill="url(#gW)" opacity="1.00"/>
<ellipse cx="415.8" cy="247.6" rx="14.4" ry="19.2" fill="url(#gW)" opacity="0.99"/>
<ellipse cx="450.4" cy="247.3" rx="14.4" ry="19.2" fill="url(#gW)" opacity="0.58"/>
<ellipse cx="485" cy="247.1" rx="14.4" ry="19.2" fill="url(#gW)" opacity="0.28"/>
<ellipse cx="466.4" cy="260.8" rx="14.4" ry="19.2" fill="url(#gW)" opacity="0.28"/>
<ellipse cx="500.4" cy="260.5" rx="14.4" ry="19.2" fill="url(#gW)" opacity="0.75"/>
<ellipse cx="534.4" cy="260.2" rx="14.4" ry="19.2" fill="url(#gW)" opacity="0.97"/>
<ellipse cx="568.4" cy="259.9" rx="14.4" ry="19.2" fill="url(#gW)" opacity="0.94"/>
<ellipse cx="602.4" cy="259.6" rx="14.4" ry="19.2" fill="url(#gW)" opacity="0.93"/>
<ellipse cx="636.4" cy="259.3" rx="14.4" ry="19.2" fill="url(#gW)" opacity="0.90"/>
<ellipse cx="670.4" cy="259" rx="14.4" ry="19.2" fill="url(#gW)" opacity="0.99"/>
<ellipse cx="704.4" cy="258.7" rx="14.4" ry="19.2" fill="url(#gW)" opacity="0.90"/>
<ellipse cx="738.4" cy="258.4" rx="14.4" ry="19.2" fill="url(#gW)" opacity="0.98"/>
<ellipse cx="772.4" cy="258.1" rx="14.4" ry="19.2" fill="url(#gW)" opacity="1.00"/>
<ellipse cx="68.8" cy="281.3" rx="14.4" ry="19.2" fill="url(#gW)" opacity="0.96"/>
<ellipse cx="103.4" cy="281" rx="14.4" ry="19.2" fill="url(#gW)" opacity="0.92"/>
<ellipse cx="138.1" cy="280.8" rx="14.4" ry="19.2" fill="url(#gW)" opacity="0.99"/>
<ellipse cx="172.8" cy="280.5" rx="14.4" ry="19.2" fill="url(#gW)" opacity="1.00"/>
<ellipse cx="207.4" cy="280.2" rx="14.4" ry="19.2" fill="url(#gW)" opacity="0.97"/>
<ellipse cx="242.1" cy="279.9" rx="14.4" ry="19.2" fill="url(#gW)" opacity="0.95"/>
<ellipse cx="276.7" cy="279.7" rx="14.4" ry="19.2" fill="url(#gW)" opacity="0.94"/>
<ellipse cx="311.3" cy="279.4" rx="14.4" ry="19.2" fill="url(#gW)" opacity="0.93"/>
<ellipse cx="346" cy="279.1" rx="14.4" ry="19.2" fill="url(#gW)" opacity="0.92"/>
<ellipse cx="380.6" cy="278.9" rx="14.4" ry="19.2" fill="url(#gW)" opacity="0.97"/>
<ellipse cx="415.3" cy="278.6" rx="14.4" ry="19.2" fill="url(#gW)" opacity="0.94"/>
<ellipse cx="449.9" cy="278.3" rx="14.4" ry="19.2" fill="url(#gW)" opacity="0.57"/>
<ellipse cx="484.6" cy="278.1" rx="14.4" ry="19.2" fill="url(#gW)" opacity="0.25"/>
<ellipse cx="465.7" cy="292.1" rx="14.4" ry="19.2" fill="url(#gW)" opacity="0.29"/>
<ellipse cx="499.7" cy="291.8" rx="14.4" ry="19.2" fill="url(#gW)" opacity="0.70"/>
<ellipse cx="533.7" cy="291.4" rx="14.4" ry="19.2" fill="url(#gW)" opacity="0.95"/>
<ellipse cx="567.7" cy="291.1" rx="14.4" ry="19.2" fill="url(#gW)" opacity="0.93"/>
<ellipse cx="601.7" cy="290.9" rx="14.4" ry="19.2" fill="url(#gW)" opacity="0.99"/>
<ellipse cx="635.7" cy="290.6" rx="14.4" ry="19.2" fill="url(#gW)" opacity="0.99"/>
<ellipse cx="669.7" cy="290.2" rx="14.4" ry="19.2" fill="url(#gW)" opacity="0.90"/>
<ellipse cx="703.7" cy="289.9" rx="14.4" ry="19.2" fill="url(#gW)" opacity="0.92"/>
<ellipse cx="737.7" cy="289.6" rx="14.4" ry="19.2" fill="url(#gW)" opacity="0.93"/>
<ellipse cx="771.7" cy="289.4" rx="14.4" ry="19.2" fill="url(#gW)" opacity="1.00"/>
<ellipse cx="67.8" cy="312.3" rx="14.4" ry="19.2" fill="url(#gW)" opacity="0.98"/>
<ellipse cx="102.5" cy="312" rx="14.4" ry="19.2" fill="url(#gW)" opacity="0.93"/>
<ellipse cx="137.2" cy="311.8" rx="14.4" ry="19.2" fill="url(#gW)" opacity="0.92"/>
<ellipse cx="171.9" cy="311.5" rx="14.4" ry="19.2" fill="url(#gW)" opacity="0.97"/>
<ellipse cx="206.6" cy="311.2" rx="14.4" ry="19.2" fill="url(#gW)" opacity="0.98"/>
<ellipse cx="241.3" cy="310.9" rx="14.4" ry="19.2" fill="url(#gW)" opacity="0.99"/>
<ellipse cx="276" cy="310.7" rx="14.4" ry="19.2" fill="url(#gW)" opacity="0.93"/>
<ellipse cx="310.7" cy="310.4" rx="14.4" ry="19.2" fill="url(#gW)" opacity="0.99"/>
<ellipse cx="345.4" cy="310.1" rx="14.4" ry="19.2" fill="url(#gW)" opacity="0.97"/>
<ellipse cx="380.1" cy="309.9" rx="14.4" ry="19.2" fill="url(#gW)" opacity="0.95"/>
<ellipse cx="414.8" cy="309.6" rx="14.4" ry="19.2" fill="url(#gW)" opacity="1.00"/>
<ellipse cx="449.5" cy="309.3" rx="14.4" ry="19.2" fill="url(#gW)" opacity="0.57"/>
<ellipse cx="484.2" cy="309.1" rx="14.4" ry="19.2" fill="url(#gW)" opacity="0.27"/>
<ellipse cx="464.9" cy="323.3" rx="14.4" ry="19.2" fill="url(#gW)" opacity="0.27"/>
<ellipse cx="498.9" cy="323" rx="14.4" ry="19.2" fill="url(#gW)" opacity="0.69"/>
<ellipse cx="532.9" cy="322.7" rx="14.4" ry="19.2" fill="url(#gW)" opacity="0.99"/>
<ellipse cx="566.9" cy="322.4" rx="14.4" ry="19.2" fill="url(#gW)" opacity="0.92"/>
<ellipse cx="600.9" cy="322.1" rx="14.4" ry="19.2" fill="url(#gW)" opacity="0.98"/>
<ellipse cx="634.9" cy="321.8" rx="14.4" ry="19.2" fill="url(#gW)" opacity="0.96"/>
<ellipse cx="668.9" cy="321.5" rx="14.4" ry="19.2" fill="url(#gW)" opacity="0.98"/>
<ellipse cx="702.9" cy="321.2" rx="14.4" ry="19.2" fill="url(#gW)" opacity="0.94"/>
<ellipse cx="736.9" cy="320.9" rx="14.4" ry="19.2" fill="url(#gW)" opacity="0.93"/>
<ellipse cx="770.9" cy="320.6" rx="14.4" ry="19.2" fill="url(#gW)" opacity="0.93"/>
<ellipse cx="66.8" cy="343.3" rx="14.4" ry="19.2" fill="url(#gW)" opacity="0.99"/>
<ellipse cx="101.5" cy="343" rx="14.4" ry="19.2" fill="url(#gW)" opacity="0.96"/>
<ellipse cx="136.3" cy="342.8" rx="14.4" ry="19.2" fill="url(#gW)" opacity="1.00"/>
<ellipse cx="171" cy="342.5" rx="14.4" ry="19.2" fill="url(#gW)" opacity="0.99"/>
<ellipse cx="205.8" cy="342.2" rx="14.4" ry="19.2" fill="url(#gW)" opacity="0.91"/>
<ellipse cx="240.6" cy="341.9" rx="14.4" ry="19.2" fill="url(#gW)" opacity="0.96"/>
<ellipse cx="275.3" cy="341.7" rx="14.4" ry="19.2" fill="url(#gW)" opacity="0.91"/>
<ellipse cx="310" cy="341.4" rx="14.4" ry="19.2" fill="url(#gW)" opacity="0.90"/>
<ellipse cx="344.8" cy="341.1" rx="14.4" ry="19.2" fill="url(#gW)" opacity="0.91"/>
<ellipse cx="379.6" cy="340.9" rx="14.4" ry="19.2" fill="url(#gW)" opacity="0.99"/>
<ellipse cx="414.3" cy="340.6" rx="14.4" ry="19.2" fill="url(#gW)" opacity="0.98"/>
<ellipse cx="449" cy="340.3" rx="14.4" ry="19.2" fill="url(#gW)" opacity="0.61"/>
<ellipse cx="483.8" cy="340.1" rx="14.4" ry="19.2" fill="url(#gW)" opacity="0.26"/>
<ellipse cx="464.2" cy="354.6" rx="14.4" ry="19.2" fill="url(#gW)" opacity="0.29"/>
<ellipse cx="498.2" cy="354.2" rx="14.4" ry="19.2" fill="url(#gW)" opacity="0.73"/>
<ellipse cx="532.2" cy="353.9" rx="14.4" ry="19.2" fill="url(#gW)" opacity="0.94"/>
<ellipse cx="566.2" cy="353.6" rx="14.4" ry="19.2" fill="url(#gW)" opacity="0.96"/>
<ellipse cx="600.2" cy="353.4" rx="14.4" ry="19.2" fill="url(#gW)" opacity="0.92"/>
<ellipse cx="634.2" cy="353.1" rx="14.4" ry="19.2" fill="url(#gW)" opacity="0.91"/>
<ellipse cx="668.2" cy="352.8" rx="14.4" ry="19.2" fill="url(#gW)" opacity="0.93"/>
<ellipse cx="702.2" cy="352.4" rx="14.4" ry="19.2" fill="url(#gW)" opacity="0.99"/>
<ellipse cx="736.2" cy="352.1" rx="14.4" ry="19.2" fill="url(#gW)" opacity="0.96"/>
<ellipse cx="770.2" cy="351.9" rx="14.4" ry="19.2" fill="url(#gW)" opacity="0.99"/>
<ellipse cx="65.8" cy="374.3" rx="14.4" ry="19.2" fill="url(#gW)" opacity="0.95"/>
<ellipse cx="100.6" cy="374" rx="14.4" ry="19.2" fill="url(#gW)" opacity="0.93"/>
<ellipse cx="135.4" cy="373.8" rx="14.4" ry="19.2" fill="url(#gW)" opacity="0.98"/>
<ellipse cx="170.2" cy="373.5" rx="14.4" ry="19.2" fill="url(#gW)" opacity="0.98"/>
<ellipse cx="205" cy="373.2" rx="14.4" ry="19.2" fill="url(#gW)" opacity="0.90"/>
<ellipse cx="239.8" cy="372.9" rx="14.4" ry="19.2" fill="url(#gW)" opacity="0.97"/>
<ellipse cx="274.6" cy="372.7" rx="14.4" ry="19.2" fill="url(#gW)" opacity="0.91"/>
<ellipse cx="309.4" cy="372.4" rx="14.4" ry="19.2" fill="url(#gW)" opacity="0.91"/>
<ellipse cx="344.2" cy="372.1" rx="14.4" ry="19.2" fill="url(#gW)" opacity="0.99"/>
<ellipse cx="379" cy="371.9" rx="14.4" ry="19.2" fill="url(#gW)" opacity="0.90"/>
<ellipse cx="413.8" cy="371.6" rx="14.4" ry="19.2" fill="url(#gW)" opacity="0.92"/>
<ellipse cx="448.6" cy="371.3" rx="14.4" ry="19.2" fill="url(#gW)" opacity="0.62"/>
<ellipse cx="483.4" cy="371.1" rx="14.4" ry="19.2" fill="url(#gW)" opacity="0.26"/>
<ellipse cx="463.4" cy="385.8" rx="14.4" ry="19.2" fill="url(#gW)" opacity="0.27"/>
<ellipse cx="497.4" cy="385.5" rx="14.4" ry="19.2" fill="url(#gW)" opacity="0.69"/>
<ellipse cx="531.4" cy="385.2" rx="14.4" ry="19.2" fill="url(#gW)" opacity="0.92"/>
<ellipse cx="565.4" cy="384.9" rx="14.4" ry="19.2" fill="url(#gW)" opacity="0.97"/>
<ellipse cx="599.4" cy="384.6" rx="14.4" ry="19.2" fill="url(#gW)" opacity="0.91"/>
<ellipse cx="633.4" cy="384.3" rx="14.4" ry="19.2" fill="url(#gW)" opacity="0.99"/>
<ellipse cx="667.4" cy="384" rx="14.4" ry="19.2" fill="url(#gW)" opacity="0.94"/>
<ellipse cx="701.4" cy="383.7" rx="14.4" ry="19.2" fill="url(#gW)" opacity="1.00"/>
<ellipse cx="735.4" cy="383.4" rx="14.4" ry="19.2" fill="url(#gW)" opacity="0.99"/>
<ellipse cx="769.4" cy="383.1" rx="14.4" ry="19.2" fill="url(#gW)" opacity="0.93"/>
<ellipse cx="64.8" cy="405.3" rx="14.4" ry="19.2" fill="url(#gW)" opacity="0.93"/>
<ellipse cx="99.6" cy="405" rx="14.4" ry="19.2" fill="url(#gW)" opacity="0.95"/>
<ellipse cx="134.5" cy="404.8" rx="14.4" ry="19.2" fill="url(#gW)" opacity="0.91"/>
<ellipse cx="169.3" cy="404.5" rx="14.4" ry="19.2" fill="url(#gW)" opacity="0.97"/>
<ellipse cx="204.2" cy="404.2" rx="14.4" ry="19.2" fill="url(#gW)" opacity="0.90"/>
<ellipse cx="239.1" cy="403.9" rx="14.4" ry="19.2" fill="url(#gW)" opacity="0.90"/>
<ellipse cx="273.9" cy="403.7" rx="14.4" ry="19.2" fill="url(#gW)" opacity="1.00"/>
<ellipse cx="308.8" cy="403.4" rx="14.4" ry="19.2" fill="url(#gW)" opacity="0.93"/>
<ellipse cx="343.6" cy="403.1" rx="14.4" ry="19.2" fill="url(#gW)" opacity="0.96"/>
<ellipse cx="378.4" cy="402.9" rx="14.4" ry="19.2" fill="url(#gW)" opacity="0.94"/>
<ellipse cx="413.3" cy="402.6" rx="14.4" ry="19.2" fill="url(#gW)" opacity="0.93"/>
<ellipse cx="448.1" cy="402.3" rx="14.4" ry="19.2" fill="url(#gW)" opacity="0.56"/>
<ellipse cx="483" cy="402.1" rx="14.4" ry="19.2" fill="url(#gW)" opacity="0.28"/>
<ellipse cx="462.6" cy="417.1" rx="14.4" ry="19.2" fill="url(#gW)" opacity="0.30"/>
<ellipse cx="496.6" cy="416.8" rx="14.4" ry="19.2" fill="url(#gW)" opacity="0.75"/>
<ellipse cx="530.6" cy="416.4" rx="14.4" ry="19.2" fill="url(#gW)" opacity="0.91"/>
<ellipse cx="564.6" cy="416.1" rx="14.4" ry="19.2" fill="url(#gW)" opacity="0.92"/>
<ellipse cx="598.6" cy="415.9" rx="14.4" ry="19.2" fill="url(#gW)" opacity="0.96"/>
<ellipse cx="632.6" cy="415.6" rx="14.4" ry="19.2" fill="url(#gW)" opacity="1.00"/>
<ellipse cx="666.6" cy="415.2" rx="14.4" ry="19.2" fill="url(#gW)" opacity="0.95"/>
<ellipse cx="700.6" cy="414.9" rx="14.4" ry="19.2" fill="url(#gW)" opacity="0.97"/>
<ellipse cx="734.6" cy="414.6" rx="14.4" ry="19.2" fill="url(#gW)" opacity="0.97"/>
<ellipse cx="768.6" cy="414.4" rx="14.4" ry="19.2" fill="url(#gW)" opacity="0.93"/>
<rect x="53" y="49" width="699" height="346.6" filter="url(#nz)" opacity="0.25"/>
<rect x="53" y="49" width="699" height="346.6" filter="url(#nzw)" opacity="0.25"/>
</g>
<linearGradient id="cba" x1="0" x2="1" y1="0" y2="0"><stop offset="0" stop-color="#000"/><stop offset="1" stop-color="#fff"/></linearGradient><rect x="53" y="395.6" width="703" height="56.6" fill="url(#cba)"/>
<text x="58.5" y="436" font-size="24" fill="#fff">–4.4 Hz</text>
<text x="222" y="436" font-size="24" fill="#fff">Δ<tspan font-style="italic">f</tspan></text>
<text x="654" y="436" font-size="24">0.1 Hz</text>
<line x1="476.6" y1="439" x2="615" y2="439" stroke="#000" stroke-width="4"/>
<rect x="293.2" y="83.2" width="214.2" height="139.3" fill="none" stroke="#f00" stroke-width="2.2"/>
<circle cx="309.7" cy="172.7" r="6" fill="#f00"/>
<line x1="223.9" y1="241" x2="271" y2="197" stroke="#f00" stroke-width="2.5"/>
<path d="M279.1,190.3 L272.8,204.2 L271.4,197.4 L264.7,195.4Z" fill="#f00"/>
<text x="98.5" y="272" font-size="24.8" fill="#f00" stroke="#fff" stroke-width="6" stroke-linejoin="round" paint-order="stroke" textLength="130" lengthAdjust="spacing">Tip position</text><text x="98.5" y="272" font-size="24.8" fill="#f00" textLength="130" lengthAdjust="spacing">Tip position</text>
<line x1="529.4" y1="338" x2="486" y2="321" stroke="#f00" stroke-width="2.5"/>
<path d="M476.5,316.5 L491.7,316.1 L486.2,320.4 L487.3,327.3Z" fill="#f00"/>
<text x="547.5" y="360" font-size="24.8" fill="#f00" stroke="#fff" stroke-width="6" stroke-linejoin="round" paint-order="stroke">Domain wall</text><text x="547.5" y="360" font-size="24.8" fill="#f00">Domain wall</text>
<clipPath id="cb"><rect x="23.4" y="603" width="377.6" height="244.7"/></clipPath>
<g clip-path="url(#cb)">
<rect x="23.4" y="603" width="377.6" height="244.7" fill="#383838"/>
<ellipse cx="71.5" cy="594.6" rx="24" ry="19.5" fill="url(#gK)" opacity="0.55"/>
<ellipse cx="89.6" cy="567" rx="15" ry="36" fill="url(#gK)" opacity="0.45"/>
<ellipse cx="134.1" cy="594.6" rx="24" ry="19.5" fill="url(#gK)" opacity="0.55"/>
<ellipse cx="152.2" cy="567" rx="15" ry="36" fill="url(#gK)" opacity="0.45"/>
<ellipse cx="196.7" cy="594.6" rx="24" ry="19.5" fill="url(#gK)" opacity="0.55"/>
<ellipse cx="214.8" cy="567" rx="15" ry="36" fill="url(#gK)" opacity="0.45"/>
<ellipse cx="259.3" cy="594.6" rx="24" ry="19.5" fill="url(#gK)" opacity="0.55"/>
<ellipse cx="277.4" cy="567" rx="15" ry="36" fill="url(#gK)" opacity="0.45"/>
<ellipse cx="326.2" cy="566.8" rx="21" ry="24" fill="url(#gK)" opacity="0.60"/>
<ellipse cx="371.2" cy="593.5" rx="18" ry="24" fill="url(#gK)" opacity="0.55"/>
<ellipse cx="340.2" cy="564.8" rx="18" ry="18" fill="url(#gK)" opacity="0.70"/>
<ellipse cx="366.2" cy="618.5" rx="18" ry="18" fill="url(#gK)" opacity="0.60"/>
<ellipse cx="319.2" cy="592.8" rx="15" ry="18" fill="url(#gK)" opacity="0.50"/>
<ellipse cx="70.3" cy="649.8" rx="24" ry="19.5" fill="url(#gK)" opacity="0.55"/>
<ellipse cx="88.4" cy="622.2" rx="15" ry="36" fill="url(#gK)" opacity="0.45"/>
<ellipse cx="132.9" cy="649.8" rx="24" ry="19.5" fill="url(#gK)" opacity="0.55"/>
<ellipse cx="151" cy="622.2" rx="15" ry="36" fill="url(#gK)" opacity="0.45"/>
<ellipse cx="195.5" cy="649.8" rx="24" ry="19.5" fill="url(#gK)" opacity="0.55"/>
<ellipse cx="213.6" cy="622.2" rx="15" ry="36" fill="url(#gK)" opacity="0.45"/>
<ellipse cx="258.1" cy="649.8" rx="24" ry="19.5" fill="url(#gK)" opacity="0.55"/>
<ellipse cx="276.2" cy="622.2" rx="15" ry="36" fill="url(#gK)" opacity="0.45"/>
<ellipse cx="325" cy="622" rx="21" ry="24" fill="url(#gK)" opacity="0.60"/>
<ellipse cx="370" cy="648" rx="18" ry="24" fill="url(#gK)" opacity="0.55"/>
<ellipse cx="339" cy="620" rx="18" ry="18" fill="url(#gK)" opacity="0.70"/>
<ellipse cx="365" cy="673" rx="18" ry="18" fill="url(#gK)" opacity="0.60"/>
<ellipse cx="318" cy="648" rx="15" ry="18" fill="url(#gK)" opacity="0.50"/>
<ellipse cx="69.1" cy="705" rx="24" ry="19.5" fill="url(#gK)" opacity="0.55"/>
<ellipse cx="87.2" cy="677.4" rx="15" ry="36" fill="url(#gK)" opacity="0.45"/>
<ellipse cx="131.7" cy="705" rx="24" ry="19.5" fill="url(#gK)" opacity="0.55"/>
<ellipse cx="149.8" cy="677.4" rx="15" ry="36" fill="url(#gK)" opacity="0.45"/>
<ellipse cx="194.3" cy="705" rx="24" ry="19.5" fill="url(#gK)" opacity="0.55"/>
<ellipse cx="212.4" cy="677.4" rx="15" ry="36" fill="url(#gK)" opacity="0.45"/>
<ellipse cx="256.9" cy="705" rx="24" ry="19.5" fill="url(#gK)" opacity="0.55"/>
<ellipse cx="275" cy="677.4" rx="15" ry="36" fill="url(#gK)" opacity="0.45"/>
<ellipse cx="323.8" cy="677.2" rx="21" ry="24" fill="url(#gK)" opacity="0.60"/>
<ellipse cx="368.8" cy="702.5" rx="18" ry="24" fill="url(#gK)" opacity="0.55"/>
<ellipse cx="337.8" cy="675.2" rx="18" ry="18" fill="url(#gK)" opacity="0.70"/>
<ellipse cx="363.8" cy="727.5" rx="18" ry="18" fill="url(#gK)" opacity="0.60"/>
<ellipse cx="316.8" cy="703.2" rx="15" ry="18" fill="url(#gK)" opacity="0.50"/>
<ellipse cx="67.9" cy="760.2" rx="24" ry="19.5" fill="url(#gK)" opacity="0.55"/>
<ellipse cx="86" cy="732.6" rx="15" ry="36" fill="url(#gK)" opacity="0.45"/>
<ellipse cx="130.5" cy="760.2" rx="24" ry="19.5" fill="url(#gK)" opacity="0.55"/>
<ellipse cx="148.6" cy="732.6" rx="15" ry="36" fill="url(#gK)" opacity="0.45"/>
<ellipse cx="193.1" cy="760.2" rx="24" ry="19.5" fill="url(#gK)" opacity="0.55"/>
<ellipse cx="211.2" cy="732.6" rx="15" ry="36" fill="url(#gK)" opacity="0.45"/>
<ellipse cx="255.7" cy="760.2" rx="24" ry="19.5" fill="url(#gK)" opacity="0.55"/>
<ellipse cx="273.8" cy="732.6" rx="15" ry="36" fill="url(#gK)" opacity="0.45"/>
<ellipse cx="322.6" cy="732.4" rx="21" ry="24" fill="url(#gK)" opacity="0.60"/>
<ellipse cx="367.6" cy="757" rx="18" ry="24" fill="url(#gK)" opacity="0.55"/>
<ellipse cx="336.6" cy="730.4" rx="18" ry="18" fill="url(#gK)" opacity="0.70"/>
<ellipse cx="362.6" cy="782" rx="18" ry="18" fill="url(#gK)" opacity="0.60"/>
<ellipse cx="315.6" cy="758.4" rx="15" ry="18" fill="url(#gK)" opacity="0.50"/>
<ellipse cx="66.7" cy="815.4" rx="24" ry="19.5" fill="url(#gK)" opacity="0.55"/>
<ellipse cx="84.8" cy="787.8" rx="15" ry="36" fill="url(#gK)" opacity="0.45"/>
<ellipse cx="129.3" cy="815.4" rx="24" ry="19.5" fill="url(#gK)" opacity="0.55"/>
<ellipse cx="147.4" cy="787.8" rx="15" ry="36" fill="url(#gK)" opacity="0.45"/>
<ellipse cx="191.9" cy="815.4" rx="24" ry="19.5" fill="url(#gK)" opacity="0.55"/>
<ellipse cx="210" cy="787.8" rx="15" ry="36" fill="url(#gK)" opacity="0.45"/>
<ellipse cx="254.5" cy="815.4" rx="24" ry="19.5" fill="url(#gK)" opacity="0.55"/>
<ellipse cx="272.6" cy="787.8" rx="15" ry="36" fill="url(#gK)" opacity="0.45"/>
<ellipse cx="321.4" cy="787.6" rx="21" ry="24" fill="url(#gK)" opacity="0.60"/>
<ellipse cx="366.4" cy="811.5" rx="18" ry="24" fill="url(#gK)" opacity="0.55"/>
<ellipse cx="335.4" cy="785.6" rx="18" ry="18" fill="url(#gK)" opacity="0.70"/>
<ellipse cx="361.4" cy="836.5" rx="18" ry="18" fill="url(#gK)" opacity="0.60"/>
<ellipse cx="314.4" cy="813.6" rx="15" ry="18" fill="url(#gK)" opacity="0.50"/>
<ellipse cx="65.5" cy="870.6" rx="24" ry="19.5" fill="url(#gK)" opacity="0.55"/>
<ellipse cx="83.6" cy="843" rx="15" ry="36" fill="url(#gK)" opacity="0.45"/>
<ellipse cx="128.1" cy="870.6" rx="24" ry="19.5" fill="url(#gK)" opacity="0.55"/>
<ellipse cx="146.2" cy="843" rx="15" ry="36" fill="url(#gK)" opacity="0.45"/>
<ellipse cx="190.7" cy="870.6" rx="24" ry="19.5" fill="url(#gK)" opacity="0.55"/>
<ellipse cx="208.8" cy="843" rx="15" ry="36" fill="url(#gK)" opacity="0.45"/>
<ellipse cx="253.3" cy="870.6" rx="24" ry="19.5" fill="url(#gK)" opacity="0.55"/>
<ellipse cx="271.4" cy="843" rx="15" ry="36" fill="url(#gK)" opacity="0.45"/>
<ellipse cx="320.2" cy="842.8" rx="21" ry="24" fill="url(#gK)" opacity="0.60"/>
<ellipse cx="365.2" cy="866" rx="18" ry="24" fill="url(#gK)" opacity="0.55"/>
<ellipse cx="334.2" cy="840.8" rx="18" ry="18" fill="url(#gK)" opacity="0.70"/>
<ellipse cx="360.2" cy="891" rx="18" ry="18" fill="url(#gK)" opacity="0.60"/>
<ellipse cx="313.2" cy="868.8" rx="15" ry="18" fill="url(#gK)" opacity="0.50"/>
<ellipse cx="64.3" cy="925.8" rx="24" ry="19.5" fill="url(#gK)" opacity="0.55"/>
<ellipse cx="82.4" cy="898.2" rx="15" ry="36" fill="url(#gK)" opacity="0.45"/>
<ellipse cx="126.9" cy="925.8" rx="24" ry="19.5" fill="url(#gK)" opacity="0.55"/>
<ellipse cx="145" cy="898.2" rx="15" ry="36" fill="url(#gK)" opacity="0.45"/>
<ellipse cx="189.5" cy="925.8" rx="24" ry="19.5" fill="url(#gK)" opacity="0.55"/>
<ellipse cx="207.6" cy="898.2" rx="15" ry="36" fill="url(#gK)" opacity="0.45"/>
<ellipse cx="252.1" cy="925.8" rx="24" ry="19.5" fill="url(#gK)" opacity="0.55"/>
<ellipse cx="270.2" cy="898.2" rx="15" ry="36" fill="url(#gK)" opacity="0.45"/>
<ellipse cx="319" cy="898" rx="21" ry="24" fill="url(#gK)" opacity="0.60"/>
<ellipse cx="364" cy="920.5" rx="18" ry="24" fill="url(#gK)" opacity="0.55"/>
<ellipse cx="333" cy="896" rx="18" ry="18" fill="url(#gK)" opacity="0.70"/>
<ellipse cx="359" cy="945.5" rx="18" ry="18" fill="url(#gK)" opacity="0.60"/>
<ellipse cx="312" cy="924" rx="15" ry="18" fill="url(#gK)" opacity="0.50"/>
<ellipse cx="58.3" cy="567" rx="25.8" ry="27" fill="url(#gM)" opacity="1.00"/>
<ellipse cx="120.9" cy="567" rx="25.8" ry="27" fill="url(#gM)" opacity="1.00"/>
<ellipse cx="183.5" cy="567" rx="25.8" ry="27" fill="url(#gM)" opacity="0.95"/>
<ellipse cx="246.1" cy="567" rx="25.8" ry="27" fill="url(#gM)" opacity="0.95"/>
<ellipse cx="308.7" cy="567" rx="25.8" ry="27" fill="url(#gM)" opacity="0.50"/>
<ellipse cx="345.2" cy="593.5" rx="25.5" ry="26.4" fill="url(#gM)" opacity="0.22"/>
<ellipse cx="396.8" cy="593.5" rx="25.5" ry="26.4" fill="url(#gM)" opacity="0.60"/>
<ellipse cx="57.1" cy="622.2" rx="25.8" ry="27" fill="url(#gM)" opacity="0.99"/>
<ellipse cx="119.7" cy="622.2" rx="25.8" ry="27" fill="url(#gM)" opacity="0.98"/>
<ellipse cx="182.3" cy="622.2" rx="25.8" ry="27" fill="url(#gM)" opacity="0.97"/>
<ellipse cx="244.9" cy="622.2" rx="25.8" ry="27" fill="url(#gM)" opacity="0.98"/>
<ellipse cx="307.5" cy="622.2" rx="25.8" ry="27" fill="url(#gM)" opacity="0.49"/>
<ellipse cx="344" cy="648" rx="25.5" ry="26.4" fill="url(#gM)" opacity="0.22"/>
<ellipse cx="395.6" cy="648" rx="25.5" ry="26.4" fill="url(#gM)" opacity="0.60"/>
<ellipse cx="55.9" cy="677.4" rx="25.8" ry="27" fill="url(#gM)" opacity="0.98"/>
<ellipse cx="118.5" cy="677.4" rx="25.8" ry="27" fill="url(#gM)" opacity="0.96"/>
<ellipse cx="181.1" cy="677.4" rx="25.8" ry="27" fill="url(#gM)" opacity="0.97"/>
<ellipse cx="243.7" cy="677.4" rx="25.8" ry="27" fill="url(#gM)" opacity="0.97"/>
<ellipse cx="306.3" cy="677.4" rx="25.8" ry="27" fill="url(#gM)" opacity="0.49"/>
<ellipse cx="342.8" cy="702.5" rx="25.5" ry="26.4" fill="url(#gM)" opacity="0.22"/>
<ellipse cx="394.4" cy="702.5" rx="25.5" ry="26.4" fill="url(#gM)" opacity="0.60"/>
<ellipse cx="54.7" cy="732.6" rx="25.8" ry="27" fill="url(#gM)" opacity="1.00"/>
<ellipse cx="117.3" cy="732.6" rx="25.8" ry="27" fill="url(#gM)" opacity="1.00"/>
<ellipse cx="179.9" cy="732.6" rx="25.8" ry="27" fill="url(#gM)" opacity="0.98"/>
<ellipse cx="242.5" cy="732.6" rx="25.8" ry="27" fill="url(#gM)" opacity="0.97"/>
<ellipse cx="305.1" cy="732.6" rx="25.8" ry="27" fill="url(#gM)" opacity="0.48"/>
<ellipse cx="341.6" cy="757" rx="25.5" ry="26.4" fill="url(#gM)" opacity="0.22"/>
<ellipse cx="393.2" cy="757" rx="25.5" ry="26.4" fill="url(#gM)" opacity="0.60"/>
<ellipse cx="53.5" cy="787.8" rx="25.8" ry="27" fill="url(#gM)" opacity="0.95"/>
<ellipse cx="116.1" cy="787.8" rx="25.8" ry="27" fill="url(#gM)" opacity="0.95"/>
<ellipse cx="178.7" cy="787.8" rx="25.8" ry="27" fill="url(#gM)" opacity="0.97"/>
<ellipse cx="241.3" cy="787.8" rx="25.8" ry="27" fill="url(#gM)" opacity="0.97"/>
<ellipse cx="303.9" cy="787.8" rx="25.8" ry="27" fill="url(#gM)" opacity="0.48"/>
<ellipse cx="340.4" cy="811.5" rx="25.5" ry="26.4" fill="url(#gM)" opacity="0.22"/>
<ellipse cx="392" cy="811.5" rx="25.5" ry="26.4" fill="url(#gM)" opacity="0.60"/>
<ellipse cx="52.3" cy="843" rx="25.8" ry="27" fill="url(#gM)" opacity="0.99"/>
<ellipse cx="114.9" cy="843" rx="25.8" ry="27" fill="url(#gM)" opacity="0.98"/>
<ellipse cx="177.5" cy="843" rx="25.8" ry="27" fill="url(#gM)" opacity="0.98"/>
<ellipse cx="240.1" cy="843" rx="25.8" ry="27" fill="url(#gM)" opacity="0.96"/>
<ellipse cx="302.7" cy="843" rx="25.8" ry="27" fill="url(#gM)" opacity="0.48"/>
<ellipse cx="339.2" cy="866" rx="25.5" ry="26.4" fill="url(#gM)" opacity="0.22"/>
<ellipse cx="390.8" cy="866" rx="25.5" ry="26.4" fill="url(#gM)" opacity="0.60"/>
<ellipse cx="51.1" cy="898.2" rx="25.8" ry="27" fill="url(#gM)" opacity="0.97"/>
<ellipse cx="113.7" cy="898.2" rx="25.8" ry="27" fill="url(#gM)" opacity="0.96"/>
<ellipse cx="176.3" cy="898.2" rx="25.8" ry="27" fill="url(#gM)" opacity="0.98"/>
<ellipse cx="238.9" cy="898.2" rx="25.8" ry="27" fill="url(#gM)" opacity="1.00"/>
<ellipse cx="301.5" cy="898.2" rx="25.8" ry="27" fill="url(#gM)" opacity="0.49"/>
<ellipse cx="338" cy="920.5" rx="25.5" ry="26.4" fill="url(#gM)" opacity="0.22"/>
<ellipse cx="389.6" cy="920.5" rx="25.5" ry="26.4" fill="url(#gM)" opacity="0.60"/>
<rect x="23.4" y="603" width="377.6" height="244.7" filter="url(#nz)" opacity="0.25"/>
<rect x="23.4" y="603" width="377.6" height="244.7" filter="url(#nzw)" opacity="0.25"/>
</g>
<linearGradient id="cbb" x1="0" x2="1" y1="0" y2="0"><stop offset="0" stop-color="#000"/><stop offset="1" stop-color="#fff"/></linearGradient><rect x="23.4" y="847.7" width="385" height="56.3" fill="url(#cbb)"/>
<text x="29" y="888" font-size="24" fill="#fff">–4.2 Hz</text>
<text x="155" y="888" font-size="24" fill="#fff">Δ<tspan font-style="italic">f</tspan></text>
<text x="307" y="888" font-size="24">–2.3 Hz</text>
<line x1="212.6" y1="895.3" x2="288.3" y2="895.3" stroke="#000" stroke-width="4"/>
<circle cx="53.6" cy="761.5" r="6.4" fill="#f00"/>
<clipPath id="cc"><rect x="453.7" y="603" width="377.3" height="243"/></clipPath>
<g clip-path="url(#cc)">
<rect x="453.7" y="603" width="377.3" height="243" fill="#383838"/>
<ellipse cx="620.6" cy="620.6" rx="24" ry="19.5" fill="url(#gK)" opacity="0.50"/>
<ellipse cx="560.3" cy="595.8" rx="15" ry="36" fill="url(#gK)" opacity="0.45"/>
<ellipse cx="681.4" cy="620.6" rx="24" ry="19.5" fill="url(#gK)" opacity="0.50"/>
<ellipse cx="621.1" cy="595.8" rx="15" ry="36" fill="url(#gK)" opacity="0.45"/>
<ellipse cx="742.2" cy="620.6" rx="24" ry="19.5" fill="url(#gK)" opacity="0.50"/>
<ellipse cx="681.9" cy="595.8" rx="15" ry="36" fill="url(#gK)" opacity="0.45"/>
<ellipse cx="803" cy="620.6" rx="24" ry="19.5" fill="url(#gK)" opacity="0.50"/>
<ellipse cx="742.7" cy="595.8" rx="15" ry="36" fill="url(#gK)" opacity="0.45"/>
<ellipse cx="863.8" cy="620.6" rx="24" ry="19.5" fill="url(#gK)" opacity="0.50"/>
<ellipse cx="803.5" cy="595.8" rx="15" ry="36" fill="url(#gK)" opacity="0.45"/>
<ellipse cx="526.2" cy="566.3" rx="21" ry="21" fill="url(#gK)" opacity="0.60"/>
<ellipse cx="556.2" cy="593.3" rx="21" ry="21" fill="url(#gK)" opacity="0.60"/>
<ellipse cx="471.5" cy="594.8" rx="18" ry="18" fill="url(#gK)" opacity="0.35"/>
<ellipse cx="619.4" cy="675.8" rx="24" ry="19.5" fill="url(#gK)" opacity="0.50"/>
<ellipse cx="559.1" cy="651" rx="15" ry="36" fill="url(#gK)" opacity="0.45"/>
<ellipse cx="680.2" cy="675.8" rx="24" ry="19.5" fill="url(#gK)" opacity="0.50"/>
<ellipse cx="619.9" cy="651" rx="15" ry="36" fill="url(#gK)" opacity="0.45"/>
<ellipse cx="741" cy="675.8" rx="24" ry="19.5" fill="url(#gK)" opacity="0.50"/>
<ellipse cx="680.7" cy="651" rx="15" ry="36" fill="url(#gK)" opacity="0.45"/>
<ellipse cx="801.8" cy="675.8" rx="24" ry="19.5" fill="url(#gK)" opacity="0.50"/>
<ellipse cx="741.5" cy="651" rx="15" ry="36" fill="url(#gK)" opacity="0.45"/>
<ellipse cx="862.6" cy="675.8" rx="24" ry="19.5" fill="url(#gK)" opacity="0.50"/>
<ellipse cx="802.3" cy="651" rx="15" ry="36" fill="url(#gK)" opacity="0.45"/>
<ellipse cx="525" cy="621.5" rx="21" ry="21" fill="url(#gK)" opacity="0.60"/>
<ellipse cx="555" cy="648.5" rx="21" ry="21" fill="url(#gK)" opacity="0.60"/>
<ellipse cx="470" cy="650" rx="18" ry="18" fill="url(#gK)" opacity="0.35"/>
<ellipse cx="618.2" cy="731" rx="24" ry="19.5" fill="url(#gK)" opacity="0.50"/>
<ellipse cx="557.9" cy="706.2" rx="15" ry="36" fill="url(#gK)" opacity="0.45"/>
<ellipse cx="679" cy="731" rx="24" ry="19.5" fill="url(#gK)" opacity="0.50"/>
<ellipse cx="618.7" cy="706.2" rx="15" ry="36" fill="url(#gK)" opacity="0.45"/>
<ellipse cx="739.8" cy="731" rx="24" ry="19.5" fill="url(#gK)" opacity="0.50"/>
<ellipse cx="679.5" cy="706.2" rx="15" ry="36" fill="url(#gK)" opacity="0.45"/>
<ellipse cx="800.6" cy="731" rx="24" ry="19.5" fill="url(#gK)" opacity="0.50"/>
<ellipse cx="740.3" cy="706.2" rx="15" ry="36" fill="url(#gK)" opacity="0.45"/>
<ellipse cx="861.4" cy="731" rx="24" ry="19.5" fill="url(#gK)" opacity="0.50"/>
<ellipse cx="801.1" cy="706.2" rx="15" ry="36" fill="url(#gK)" opacity="0.45"/>
<ellipse cx="523.8" cy="676.7" rx="21" ry="21" fill="url(#gK)" opacity="0.60"/>
<ellipse cx="553.8" cy="703.7" rx="21" ry="21" fill="url(#gK)" opacity="0.60"/>
<ellipse cx="468.5" cy="705.2" rx="18" ry="18" fill="url(#gK)" opacity="0.35"/>
<ellipse cx="617" cy="786.2" rx="24" ry="19.5" fill="url(#gK)" opacity="0.50"/>
<ellipse cx="556.7" cy="761.4" rx="15" ry="36" fill="url(#gK)" opacity="0.45"/>
<ellipse cx="677.8" cy="786.2" rx="24" ry="19.5" fill="url(#gK)" opacity="0.50"/>
<ellipse cx="617.5" cy="761.4" rx="15" ry="36" fill="url(#gK)" opacity="0.45"/>
<ellipse cx="738.6" cy="786.2" rx="24" ry="19.5" fill="url(#gK)" opacity="0.50"/>
<ellipse cx="678.3" cy="761.4" rx="15" ry="36" fill="url(#gK)" opacity="0.45"/>
<ellipse cx="799.4" cy="786.2" rx="24" ry="19.5" fill="url(#gK)" opacity="0.50"/>
<ellipse cx="739.1" cy="761.4" rx="15" ry="36" fill="url(#gK)" opacity="0.45"/>
<ellipse cx="860.2" cy="786.2" rx="24" ry="19.5" fill="url(#gK)" opacity="0.50"/>
<ellipse cx="799.9" cy="761.4" rx="15" ry="36" fill="url(#gK)" opacity="0.45"/>
<ellipse cx="522.6" cy="731.9" rx="21" ry="21" fill="url(#gK)" opacity="0.60"/>
<ellipse cx="552.6" cy="758.9" rx="21" ry="21" fill="url(#gK)" opacity="0.60"/>
<ellipse cx="467" cy="760.4" rx="18" ry="18" fill="url(#gK)" opacity="0.35"/>
<ellipse cx="615.8" cy="841.4" rx="24" ry="19.5" fill="url(#gK)" opacity="0.50"/>
<ellipse cx="555.5" cy="816.6" rx="15" ry="36" fill="url(#gK)" opacity="0.45"/>
<ellipse cx="676.6" cy="841.4" rx="24" ry="19.5" fill="url(#gK)" opacity="0.50"/>
<ellipse cx="616.3" cy="816.6" rx="15" ry="36" fill="url(#gK)" opacity="0.45"/>
<ellipse cx="737.4" cy="841.4" rx="24" ry="19.5" fill="url(#gK)" opacity="0.50"/>
<ellipse cx="677.1" cy="816.6" rx="15" ry="36" fill="url(#gK)" opacity="0.45"/>
<ellipse cx="798.2" cy="841.4" rx="24" ry="19.5" fill="url(#gK)" opacity="0.50"/>
<ellipse cx="737.9" cy="816.6" rx="15" ry="36" fill="url(#gK)" opacity="0.45"/>
<ellipse cx="859" cy="841.4" rx="24" ry="19.5" fill="url(#gK)" opacity="0.50"/>
<ellipse cx="798.7" cy="816.6" rx="15" ry="36" fill="url(#gK)" opacity="0.45"/>
<ellipse cx="521.4" cy="787.1" rx="21" ry="21" fill="url(#gK)" opacity="0.60"/>
<ellipse cx="551.4" cy="814.1" rx="21" ry="21" fill="url(#gK)" opacity="0.60"/>
<ellipse cx="465.5" cy="815.6" rx="18" ry="18" fill="url(#gK)" opacity="0.35"/>
<ellipse cx="614.6" cy="896.6" rx="24" ry="19.5" fill="url(#gK)" opacity="0.50"/>
<ellipse cx="554.3" cy="871.8" rx="15" ry="36" fill="url(#gK)" opacity="0.45"/>
<ellipse cx="675.4" cy="896.6" rx="24" ry="19.5" fill="url(#gK)" opacity="0.50"/>
<ellipse cx="615.1" cy="871.8" rx="15" ry="36" fill="url(#gK)" opacity="0.45"/>
<ellipse cx="736.2" cy="896.6" rx="24" ry="19.5" fill="url(#gK)" opacity="0.50"/>
<ellipse cx="675.9" cy="871.8" rx="15" ry="36" fill="url(#gK)" opacity="0.45"/>
<ellipse cx="797" cy="896.6" rx="24" ry="19.5" fill="url(#gK)" opacity="0.50"/>
<ellipse cx="736.7" cy="871.8" rx="15" ry="36" fill="url(#gK)" opacity="0.45"/>
<ellipse cx="857.8" cy="896.6" rx="24" ry="19.5" fill="url(#gK)" opacity="0.50"/>
<ellipse cx="797.5" cy="871.8" rx="15" ry="36" fill="url(#gK)" opacity="0.45"/>
<ellipse cx="520.2" cy="842.3" rx="21" ry="21" fill="url(#gK)" opacity="0.60"/>
<ellipse cx="550.2" cy="869.3" rx="21" ry="21" fill="url(#gK)" opacity="0.60"/>
<ellipse cx="464" cy="870.8" rx="18" ry="18" fill="url(#gK)" opacity="0.35"/>
<ellipse cx="529.9" cy="595.8" rx="25.8" ry="27" fill="url(#gM)" opacity="0.19"/>
<ellipse cx="590.7" cy="595.8" rx="25.8" ry="27" fill="url(#gM)" opacity="0.68"/>
<ellipse cx="651.5" cy="595.8" rx="25.8" ry="27" fill="url(#gM)" opacity="0.97"/>
<ellipse cx="712.3" cy="595.8" rx="25.8" ry="27" fill="url(#gM)" opacity="0.98"/>
<ellipse cx="773.1" cy="595.8" rx="25.8" ry="27" fill="url(#gM)" opacity="0.98"/>
<ellipse cx="833.9" cy="595.8" rx="25.8" ry="27" fill="url(#gM)" opacity="0.95"/>
<ellipse cx="493.6" cy="568.4" rx="25.5" ry="26.4" fill="url(#gM)" opacity="0.50"/>
<ellipse cx="555.2" cy="567.9" rx="21" ry="21" fill="url(#gM)" opacity="0.15"/>
<ellipse cx="528.7" cy="651" rx="25.8" ry="27" fill="url(#gM)" opacity="0.19"/>
<ellipse cx="589.5" cy="651" rx="25.8" ry="27" fill="url(#gM)" opacity="0.69"/>
<ellipse cx="650.3" cy="651" rx="25.8" ry="27" fill="url(#gM)" opacity="0.96"/>
<ellipse cx="711.1" cy="651" rx="25.8" ry="27" fill="url(#gM)" opacity="0.96"/>
<ellipse cx="771.9" cy="651" rx="25.8" ry="27" fill="url(#gM)" opacity="1.00"/>
<ellipse cx="832.7" cy="651" rx="25.8" ry="27" fill="url(#gM)" opacity="0.97"/>
<ellipse cx="492.1" cy="623.6" rx="25.5" ry="26.4" fill="url(#gM)" opacity="0.50"/>
<ellipse cx="554" cy="623.1" rx="21" ry="21" fill="url(#gM)" opacity="0.15"/>
<ellipse cx="527.5" cy="706.2" rx="25.8" ry="27" fill="url(#gM)" opacity="0.20"/>
<ellipse cx="588.3" cy="706.2" rx="25.8" ry="27" fill="url(#gM)" opacity="0.68"/>
<ellipse cx="649.1" cy="706.2" rx="25.8" ry="27" fill="url(#gM)" opacity="0.98"/>
<ellipse cx="709.9" cy="706.2" rx="25.8" ry="27" fill="url(#gM)" opacity="0.96"/>
<ellipse cx="770.7" cy="706.2" rx="25.8" ry="27" fill="url(#gM)" opacity="0.98"/>
<ellipse cx="831.5" cy="706.2" rx="25.8" ry="27" fill="url(#gM)" opacity="0.99"/>
<ellipse cx="490.6" cy="678.8" rx="25.5" ry="26.4" fill="url(#gM)" opacity="0.50"/>
<ellipse cx="552.8" cy="678.3" rx="21" ry="21" fill="url(#gM)" opacity="0.15"/>
<ellipse cx="526.3" cy="761.4" rx="25.8" ry="27" fill="url(#gM)" opacity="0.20"/>
<ellipse cx="587.1" cy="761.4" rx="25.8" ry="27" fill="url(#gM)" opacity="0.69"/>
<ellipse cx="647.9" cy="761.4" rx="25.8" ry="27" fill="url(#gM)" opacity="0.98"/>
<ellipse cx="708.7" cy="761.4" rx="25.8" ry="27" fill="url(#gM)" opacity="0.95"/>
<ellipse cx="769.5" cy="761.4" rx="25.8" ry="27" fill="url(#gM)" opacity="0.99"/>
<ellipse cx="830.3" cy="761.4" rx="25.8" ry="27" fill="url(#gM)" opacity="0.98"/>
<ellipse cx="489.1" cy="734" rx="25.5" ry="26.4" fill="url(#gM)" opacity="0.50"/>
<ellipse cx="551.6" cy="733.5" rx="21" ry="21" fill="url(#gM)" opacity="0.15"/>
<ellipse cx="525.1" cy="816.6" rx="25.8" ry="27" fill="url(#gM)" opacity="0.19"/>
<ellipse cx="585.9" cy="816.6" rx="25.8" ry="27" fill="url(#gM)" opacity="0.67"/>
<ellipse cx="646.7" cy="816.6" rx="25.8" ry="27" fill="url(#gM)" opacity="0.99"/>
<ellipse cx="707.5" cy="816.6" rx="25.8" ry="27" fill="url(#gM)" opacity="0.97"/>
<ellipse cx="768.3" cy="816.6" rx="25.8" ry="27" fill="url(#gM)" opacity="0.99"/>
<ellipse cx="829.1" cy="816.6" rx="25.8" ry="27" fill="url(#gM)" opacity="0.99"/>
<ellipse cx="487.6" cy="789.2" rx="25.5" ry="26.4" fill="url(#gM)" opacity="0.50"/>
<ellipse cx="550.4" cy="788.7" rx="21" ry="21" fill="url(#gM)" opacity="0.15"/>
<ellipse cx="523.9" cy="871.8" rx="25.8" ry="27" fill="url(#gM)" opacity="0.20"/>
<ellipse cx="584.7" cy="871.8" rx="25.8" ry="27" fill="url(#gM)" opacity="0.70"/>
<ellipse cx="645.5" cy="871.8" rx="25.8" ry="27" fill="url(#gM)" opacity="0.97"/>
<ellipse cx="706.3" cy="871.8" rx="25.8" ry="27" fill="url(#gM)" opacity="0.99"/>
<ellipse cx="767.1" cy="871.8" rx="25.8" ry="27" fill="url(#gM)" opacity="0.97"/>
<ellipse cx="827.9" cy="871.8" rx="25.8" ry="27" fill="url(#gM)" opacity="1.00"/>
<ellipse cx="486.1" cy="844.4" rx="25.5" ry="26.4" fill="url(#gM)" opacity="0.50"/>
<ellipse cx="549.2" cy="843.9" rx="21" ry="21" fill="url(#gM)" opacity="0.15"/>
<rect x="453.7" y="603" width="377.3" height="243" filter="url(#nz)" opacity="0.25"/>
<rect x="453.7" y="603" width="377.3" height="243" filter="url(#nzw)" opacity="0.25"/>
</g>
<linearGradient id="cbc" x1="0" x2="1" y1="0" y2="0"><stop offset="0" stop-color="#000"/><stop offset="1" stop-color="#fff"/></linearGradient><rect x="453.7" y="846" width="385" height="56.4" fill="url(#cbc)"/>
<text x="462.8" y="887" font-size="24" fill="#fff">–4.3 Hz</text>
<text x="589.5" y="887" font-size="24" fill="#fff">Δ<tspan font-style="italic">f</tspan></text>
<text x="741" y="887" font-size="24">–2.3 Hz</text>
<line x1="642.6" y1="893.7" x2="719.2" y2="893.7" stroke="#000" stroke-width="4"/>
<circle cx="486.3" cy="761.4" r="6.4" fill="#f00"/>
<defs><radialGradient id="mP" cx="0.6" cy="0.4" r="0.66" fx="0.6" fy="0.38"><stop offset="0" stop-color="#f8c0ff"/><stop offset="0.14" stop-color="#b062c8"/><stop offset="0.55" stop-color="#9a50b0"/><stop offset="0.85" stop-color="#5a2a68"/><stop offset="1" stop-color="#2e1234"/></radialGradient><radialGradient id="mB" cx="0.6" cy="0.4" r="0.66" fx="0.6" fy="0.38"><stop offset="0" stop-color="#f4f4ff"/><stop offset="0.14" stop-color="#9096f6"/><stop offset="0.55" stop-color="#7c80e4"/><stop offset="0.85" stop-color="#4a4ca0"/><stop offset="1" stop-color="#222450"/></radialGradient></defs>
<line x1="62.6" y1="15.5" x2="70.3" y2="13.3" stroke="#a55cc0" stroke-width="2.6"/><line x1="70.3" y1="13.3" x2="78.1" y2="11.1" stroke="#8086ea" stroke-width="2.6"/>
<line x1="62.6" y1="15.5" x2="61" y2="38.6" stroke="#a55cc0" stroke-width="1.4"/>
<line x1="78.1" y1="11.1" x2="79" y2="22.3" stroke="#8086ea" stroke-width="1.4"/><line x1="79" y1="22.3" x2="79.9" y2="33.6" stroke="#a55cc0" stroke-width="1.4"/>
<line x1="96.6" y1="15.3" x2="104.3" y2="13.1" stroke="#a55cc0" stroke-width="2.6"/><line x1="104.3" y1="13.1" x2="112.1" y2="10.9" stroke="#8086ea" stroke-width="2.6"/>
<line x1="96.6" y1="15.3" x2="95" y2="38.4" stroke="#a55cc0" stroke-width="1.4"/>
<line x1="112.1" y1="10.9" x2="113" y2="22.1" stroke="#8086ea" stroke-width="1.4"/><line x1="113" y1="22.1" x2="113.9" y2="33.4" stroke="#a55cc0" stroke-width="1.4"/>
<line x1="79.9" y1="33.6" x2="95" y2="38.4" stroke="#6a3e7c" stroke-width="1.4"/>
<line x1="130.6" y1="15.1" x2="138.3" y2="12.9" stroke="#a55cc0" stroke-width="2.6"/><line x1="138.3" y1="12.9" x2="146.1" y2="10.7" stroke="#8086ea" stroke-width="2.6"/>
<line x1="130.6" y1="15.1" x2="129" y2="38.2" stroke="#a55cc0" stroke-width="1.4"/>
<line x1="146.1" y1="10.7" x2="147" y2="21.9" stroke="#8086ea" stroke-width="1.4"/><line x1="147" y1="21.9" x2="147.9" y2="33.2" stroke="#a55cc0" stroke-width="1.4"/>
<line x1="113.9" y1="33.4" x2="129" y2="38.2" stroke="#6a3e7c" stroke-width="1.4"/>
<line x1="164.6" y1="14.9" x2="172.3" y2="12.7" stroke="#a55cc0" stroke-width="2.6"/><line x1="172.3" y1="12.7" x2="180.1" y2="10.5" stroke="#8086ea" stroke-width="2.6"/>
<line x1="164.6" y1="14.9" x2="163" y2="38" stroke="#a55cc0" stroke-width="1.4"/>
<line x1="180.1" y1="10.5" x2="181" y2="21.7" stroke="#8086ea" stroke-width="1.4"/><line x1="181" y1="21.7" x2="181.9" y2="33" stroke="#a55cc0" stroke-width="1.4"/>
<line x1="147.9" y1="33.2" x2="163" y2="38" stroke="#6a3e7c" stroke-width="1.4"/>
<line x1="198.6" y1="14.7" x2="206.3" y2="12.5" stroke="#a55cc0" stroke-width="2.6"/><line x1="206.3" y1="12.5" x2="214.1" y2="10.3" stroke="#8086ea" stroke-width="2.6"/>
<line x1="198.6" y1="14.7" x2="197" y2="37.8" stroke="#a55cc0" stroke-width="1.4"/>
<line x1="214.1" y1="10.3" x2="215" y2="21.5" stroke="#8086ea" stroke-width="1.4"/><line x1="215" y1="21.5" x2="215.9" y2="32.8" stroke="#a55cc0" stroke-width="1.4"/>
<line x1="181.9" y1="33" x2="197" y2="37.8" stroke="#6a3e7c" stroke-width="1.4"/>
<line x1="232.6" y1="14.5" x2="240.3" y2="12.3" stroke="#a55cc0" stroke-width="2.6"/><line x1="240.3" y1="12.3" x2="248.1" y2="10.1" stroke="#8086ea" stroke-width="2.6"/>
<line x1="232.6" y1="14.5" x2="231" y2="37.6" stroke="#a55cc0" stroke-width="1.4"/>
<line x1="248.1" y1="10.1" x2="249" y2="21.4" stroke="#8086ea" stroke-width="1.4"/><line x1="249" y1="21.4" x2="249.9" y2="32.6" stroke="#a55cc0" stroke-width="1.4"/>
<line x1="215.9" y1="32.8" x2="231" y2="37.6" stroke="#6a3e7c" stroke-width="1.4"/>
<line x1="266.6" y1="14.3" x2="274.4" y2="12.1" stroke="#a55cc0" stroke-width="2.6"/><line x1="274.4" y1="12.1" x2="282.1" y2="9.9" stroke="#8086ea" stroke-width="2.6"/>
<line x1="266.6" y1="14.3" x2="265" y2="37.4" stroke="#a55cc0" stroke-width="1.4"/>
<line x1="282.1" y1="9.9" x2="283" y2="21.2" stroke="#8086ea" stroke-width="1.4"/><line x1="283" y1="21.2" x2="283.9" y2="32.4" stroke="#a55cc0" stroke-width="1.4"/>
<line x1="249.9" y1="32.6" x2="265" y2="37.4" stroke="#6a3e7c" stroke-width="1.4"/>
<line x1="300.6" y1="14.1" x2="308.4" y2="11.9" stroke="#a55cc0" stroke-width="2.6"/><line x1="308.4" y1="11.9" x2="316.1" y2="9.7" stroke="#8086ea" stroke-width="2.6"/>
<line x1="300.6" y1="14.1" x2="299" y2="37.2" stroke="#a55cc0" stroke-width="1.4"/>
<line x1="316.1" y1="9.7" x2="317" y2="21" stroke="#8086ea" stroke-width="1.4"/><line x1="317" y1="21" x2="317.9" y2="32.2" stroke="#a55cc0" stroke-width="1.4"/>
<line x1="283.9" y1="32.4" x2="299" y2="37.2" stroke="#6a3e7c" stroke-width="1.4"/>
<line x1="334.6" y1="13.9" x2="342.4" y2="11.7" stroke="#a55cc0" stroke-width="2.6"/><line x1="342.4" y1="11.7" x2="350.1" y2="9.5" stroke="#8086ea" stroke-width="2.6"/>
<line x1="334.6" y1="13.9" x2="333" y2="37" stroke="#a55cc0" stroke-width="1.4"/>
<line x1="350.1" y1="9.5" x2="351" y2="20.8" stroke="#8086ea" stroke-width="1.4"/><line x1="351" y1="20.8" x2="351.9" y2="32" stroke="#a55cc0" stroke-width="1.4"/>
<line x1="317.9" y1="32.2" x2="333" y2="37" stroke="#6a3e7c" stroke-width="1.4"/>
<line x1="368.6" y1="13.7" x2="376.4" y2="11.5" stroke="#a55cc0" stroke-width="2.6"/><line x1="376.4" y1="11.5" x2="384.1" y2="9.3" stroke="#8086ea" stroke-width="2.6"/>
<line x1="368.6" y1="13.7" x2="367" y2="36.8" stroke="#a55cc0" stroke-width="1.4"/>
<line x1="384.1" y1="9.3" x2="385" y2="20.6" stroke="#8086ea" stroke-width="1.4"/><line x1="385" y1="20.6" x2="385.9" y2="31.8" stroke="#a55cc0" stroke-width="1.4"/>
<line x1="351.9" y1="32" x2="367" y2="36.8" stroke="#6a3e7c" stroke-width="1.4"/>
<line x1="402.6" y1="13.5" x2="410.4" y2="11.3" stroke="#a55cc0" stroke-width="2.6"/><line x1="410.4" y1="11.3" x2="418.1" y2="9.1" stroke="#8086ea" stroke-width="2.6"/>
<line x1="402.6" y1="13.5" x2="401" y2="36.6" stroke="#a55cc0" stroke-width="1.4"/>
<line x1="418.1" y1="9.1" x2="419" y2="20.4" stroke="#8086ea" stroke-width="1.4"/><line x1="419" y1="20.4" x2="419.9" y2="31.6" stroke="#a55cc0" stroke-width="1.4"/>
<line x1="385.9" y1="31.8" x2="401" y2="36.6" stroke="#6a3e7c" stroke-width="1.4"/>
<line x1="436.6" y1="13.3" x2="444.4" y2="11.1" stroke="#a55cc0" stroke-width="2.6"/><line x1="444.4" y1="11.1" x2="452.1" y2="8.9" stroke="#8086ea" stroke-width="2.6"/>
<line x1="436.6" y1="13.3" x2="435" y2="36.4" stroke="#a55cc0" stroke-width="1.4"/>
<line x1="452.1" y1="8.9" x2="453" y2="20.2" stroke="#8086ea" stroke-width="1.4"/><line x1="453" y1="20.2" x2="453.9" y2="31.4" stroke="#a55cc0" stroke-width="1.4"/>
<line x1="419.9" y1="31.6" x2="435" y2="36.4" stroke="#6a3e7c" stroke-width="1.4"/>
<line x1="471.6" y1="12.8" x2="487.4" y2="12.8" stroke="#8086ea" stroke-width="2.6"/>
<line x1="471.6" y1="12.8" x2="470.3" y2="23.9" stroke="#8086ea" stroke-width="1.4"/><line x1="470.3" y1="23.9" x2="469" y2="35" stroke="#a55cc0" stroke-width="1.4"/>
<line x1="487.4" y1="12.8" x2="488.4" y2="23.9" stroke="#8086ea" stroke-width="1.4"/><line x1="488.4" y1="23.9" x2="489.5" y2="35" stroke="#a55cc0" stroke-width="1.4"/>
<line x1="453.9" y1="31.4" x2="469" y2="35" stroke="#6a3e7c" stroke-width="1.4"/>
<line x1="507" y1="9.5" x2="506.3" y2="20.8" stroke="#8086ea" stroke-width="1.4"/><line x1="506.3" y1="20.8" x2="505.6" y2="32" stroke="#a55cc0" stroke-width="1.4"/>
<line x1="489.5" y1="35" x2="505.6" y2="32" stroke="#6a3e7c" stroke-width="1.4"/>
<line x1="507" y1="9.5" x2="514.3" y2="11.7" stroke="#8086ea" stroke-width="2.6"/><line x1="514.3" y1="11.7" x2="521.6" y2="13.9" stroke="#a55cc0" stroke-width="2.6"/>
<line x1="521.6" y1="13.9" x2="524" y2="36.5" stroke="#a55cc0" stroke-width="1.4"/>
<line x1="541" y1="9.5" x2="540.3" y2="20.8" stroke="#8086ea" stroke-width="1.4"/><line x1="540.3" y1="20.8" x2="539.6" y2="32" stroke="#a55cc0" stroke-width="1.4"/>
<line x1="524" y1="36.5" x2="539.6" y2="32" stroke="#6a3e7c" stroke-width="1.4"/>
<line x1="541" y1="9.5" x2="548.3" y2="11.7" stroke="#8086ea" stroke-width="2.6"/><line x1="548.3" y1="11.7" x2="555.6" y2="13.9" stroke="#a55cc0" stroke-width="2.6"/>
<line x1="555.6" y1="13.9" x2="558" y2="36.5" stroke="#a55cc0" stroke-width="1.4"/>
<line x1="575" y1="9.5" x2="574.3" y2="20.8" stroke="#8086ea" stroke-width="1.4"/><line x1="574.3" y1="20.8" x2="573.6" y2="32" stroke="#a55cc0" stroke-width="1.4"/>
<line x1="558" y1="36.5" x2="573.6" y2="32" stroke="#6a3e7c" stroke-width="1.4"/>
<line x1="575" y1="9.5" x2="582.3" y2="11.7" stroke="#8086ea" stroke-width="2.6"/><line x1="582.3" y1="11.7" x2="589.6" y2="13.9" stroke="#a55cc0" stroke-width="2.6"/>
<line x1="589.6" y1="13.9" x2="592" y2="36.5" stroke="#a55cc0" stroke-width="1.4"/>
<line x1="609" y1="9.5" x2="608.3" y2="20.8" stroke="#8086ea" stroke-width="1.4"/><line x1="608.3" y1="20.8" x2="607.6" y2="32" stroke="#a55cc0" stroke-width="1.4"/>
<line x1="592" y1="36.5" x2="607.6" y2="32" stroke="#6a3e7c" stroke-width="1.4"/>
<line x1="609" y1="9.5" x2="616.3" y2="11.7" stroke="#8086ea" stroke-width="2.6"/><line x1="616.3" y1="11.7" x2="623.6" y2="13.9" stroke="#a55cc0" stroke-width="2.6"/>
<line x1="623.6" y1="13.9" x2="626" y2="36.5" stroke="#a55cc0" stroke-width="1.4"/>
<line x1="643" y1="9.5" x2="642.3" y2="20.8" stroke="#8086ea" stroke-width="1.4"/><line x1="642.3" y1="20.8" x2="641.6" y2="32" stroke="#a55cc0" stroke-width="1.4"/>
<line x1="626" y1="36.5" x2="641.6" y2="32" stroke="#6a3e7c" stroke-width="1.4"/>
<line x1="643" y1="9.5" x2="650.3" y2="11.7" stroke="#8086ea" stroke-width="2.6"/><line x1="650.3" y1="11.7" x2="657.6" y2="13.9" stroke="#a55cc0" stroke-width="2.6"/>
<line x1="657.6" y1="13.9" x2="660" y2="36.5" stroke="#a55cc0" stroke-width="1.4"/>
<line x1="677" y1="9.5" x2="676.3" y2="20.8" stroke="#8086ea" stroke-width="1.4"/><line x1="676.3" y1="20.8" x2="675.6" y2="32" stroke="#a55cc0" stroke-width="1.4"/>
<line x1="660" y1="36.5" x2="675.6" y2="32" stroke="#6a3e7c" stroke-width="1.4"/>
<line x1="677" y1="9.5" x2="684.3" y2="11.7" stroke="#8086ea" stroke-width="2.6"/><line x1="684.3" y1="11.7" x2="691.6" y2="13.9" stroke="#a55cc0" stroke-width="2.6"/>
<line x1="691.6" y1="13.9" x2="694" y2="36.5" stroke="#a55cc0" stroke-width="1.4"/>
<line x1="711" y1="9.5" x2="710.3" y2="20.8" stroke="#8086ea" stroke-width="1.4"/><line x1="710.3" y1="20.8" x2="709.6" y2="32" stroke="#a55cc0" stroke-width="1.4"/>
<line x1="694" y1="36.5" x2="709.6" y2="32" stroke="#6a3e7c" stroke-width="1.4"/>
<line x1="711" y1="9.5" x2="718.3" y2="11.7" stroke="#8086ea" stroke-width="2.6"/><line x1="718.3" y1="11.7" x2="725.6" y2="13.9" stroke="#a55cc0" stroke-width="2.6"/>
<line x1="725.6" y1="13.9" x2="728" y2="36.5" stroke="#a55cc0" stroke-width="1.4"/>
<line x1="745" y1="9.5" x2="744.3" y2="20.8" stroke="#8086ea" stroke-width="1.4"/><line x1="744.3" y1="20.8" x2="743.6" y2="32" stroke="#a55cc0" stroke-width="1.4"/>
<line x1="728" y1="36.5" x2="743.6" y2="32" stroke="#6a3e7c" stroke-width="1.4"/>
<circle cx="62.6" cy="15.5" r="4.7" fill="url(#mP)"/>
<circle cx="78.1" cy="11.1" r="4.7" fill="url(#mB)"/>
<circle cx="79.9" cy="33.6" r="4.7" fill="url(#mP)"/>
<circle cx="61" cy="38.6" r="4.7" fill="url(#mP)"/>
<circle cx="96.6" cy="15.3" r="4.7" fill="url(#mP)"/>
<circle cx="112.1" cy="10.9" r="4.7" fill="url(#mB)"/>
<circle cx="113.9" cy="33.4" r="4.7" fill="url(#mP)"/>
<circle cx="95" cy="38.4" r="4.7" fill="url(#mP)"/>
<circle cx="130.6" cy="15.1" r="4.7" fill="url(#mP)"/>
<circle cx="146.1" cy="10.7" r="4.7" fill="url(#mB)"/>
<circle cx="147.9" cy="33.2" r="4.7" fill="url(#mP)"/>
<circle cx="129" cy="38.2" r="4.7" fill="url(#mP)"/>
<circle cx="164.6" cy="14.9" r="4.7" fill="url(#mP)"/>
<circle cx="180.1" cy="10.5" r="4.7" fill="url(#mB)"/>
<circle cx="181.9" cy="33" r="4.7" fill="url(#mP)"/>
<circle cx="163" cy="38" r="4.7" fill="url(#mP)"/>
<circle cx="198.6" cy="14.7" r="4.7" fill="url(#mP)"/>
<circle cx="214.1" cy="10.3" r="4.7" fill="url(#mB)"/>
<circle cx="215.9" cy="32.8" r="4.7" fill="url(#mP)"/>
<circle cx="197" cy="37.8" r="4.7" fill="url(#mP)"/>
<circle cx="232.6" cy="14.5" r="4.7" fill="url(#mP)"/>
<circle cx="248.1" cy="10.1" r="4.7" fill="url(#mB)"/>
<circle cx="249.9" cy="32.6" r="4.7" fill="url(#mP)"/>
<circle cx="231" cy="37.6" r="4.7" fill="url(#mP)"/>
<circle cx="266.6" cy="14.3" r="4.7" fill="url(#mP)"/>
<circle cx="282.1" cy="9.9" r="4.7" fill="url(#mB)"/>
<circle cx="283.9" cy="32.4" r="4.7" fill="url(#mP)"/>
<circle cx="265" cy="37.4" r="4.7" fill="url(#mP)"/>
<circle cx="300.6" cy="14.1" r="4.7" fill="url(#mP)"/>
<circle cx="316.1" cy="9.7" r="4.7" fill="url(#mB)"/>
<circle cx="317.9" cy="32.2" r="4.7" fill="url(#mP)"/>
<circle cx="299" cy="37.2" r="4.7" fill="url(#mP)"/>
<circle cx="334.6" cy="13.9" r="4.7" fill="url(#mP)"/>
<circle cx="350.1" cy="9.5" r="4.7" fill="url(#mB)"/>
<circle cx="351.9" cy="32" r="4.7" fill="url(#mP)"/>
<circle cx="333" cy="37" r="4.7" fill="url(#mP)"/>
<circle cx="368.6" cy="13.7" r="4.7" fill="url(#mP)"/>
<circle cx="384.1" cy="9.3" r="4.7" fill="url(#mB)"/>
<circle cx="385.9" cy="31.8" r="4.7" fill="url(#mP)"/>
<circle cx="367" cy="36.8" r="4.7" fill="url(#mP)"/>
<circle cx="402.6" cy="13.5" r="4.7" fill="url(#mP)"/>
<circle cx="418.1" cy="9.1" r="4.7" fill="url(#mB)"/>
<circle cx="419.9" cy="31.6" r="4.7" fill="url(#mP)"/>
<circle cx="401" cy="36.6" r="4.7" fill="url(#mP)"/>
<circle cx="436.6" cy="13.3" r="4.7" fill="url(#mP)"/>
<circle cx="452.1" cy="8.9" r="4.7" fill="url(#mB)"/>
<circle cx="453.9" cy="31.4" r="4.7" fill="url(#mP)"/>
<circle cx="435" cy="36.4" r="4.7" fill="url(#mP)"/>
<circle cx="471.6" cy="12.8" r="4.7" fill="url(#mB)"/>
<circle cx="487.4" cy="12.8" r="4.7" fill="url(#mB)"/>
<circle cx="469" cy="35" r="4.7" fill="url(#mP)"/>
<circle cx="489.5" cy="35" r="4.7" fill="url(#mP)"/>
<circle cx="507" cy="9.5" r="4.7" fill="url(#mB)"/>
<circle cx="505.6" cy="32" r="4.7" fill="url(#mP)"/>
<circle cx="521.6" cy="13.9" r="4.7" fill="url(#mP)"/>
<circle cx="524" cy="36.5" r="4.7" fill="url(#mP)"/>
<circle cx="541" cy="9.5" r="4.7" fill="url(#mB)"/>
<circle cx="539.6" cy="32" r="4.7" fill="url(#mP)"/>
<circle cx="555.6" cy="13.9" r="4.7" fill="url(#mP)"/>
<circle cx="558" cy="36.5" r="4.7" fill="url(#mP)"/>
<circle cx="575" cy="9.5" r="4.7" fill="url(#mB)"/>
<circle cx="573.6" cy="32" r="4.7" fill="url(#mP)"/>
<circle cx="589.6" cy="13.9" r="4.7" fill="url(#mP)"/>
<circle cx="592" cy="36.5" r="4.7" fill="url(#mP)"/>
<circle cx="609" cy="9.5" r="4.7" fill="url(#mB)"/>
<circle cx="607.6" cy="32" r="4.7" fill="url(#mP)"/>
<circle cx="623.6" cy="13.9" r="4.7" fill="url(#mP)"/>
<circle cx="626" cy="36.5" r="4.7" fill="url(#mP)"/>
<circle cx="643" cy="9.5" r="4.7" fill="url(#mB)"/>
<circle cx="641.6" cy="32" r="4.7" fill="url(#mP)"/>
<circle cx="657.6" cy="13.9" r="4.7" fill="url(#mP)"/>
<circle cx="660" cy="36.5" r="4.7" fill="url(#mP)"/>
<circle cx="677" cy="9.5" r="4.7" fill="url(#mB)"/>
<circle cx="675.6" cy="32" r="4.7" fill="url(#mP)"/>
<circle cx="691.6" cy="13.9" r="4.7" fill="url(#mP)"/>
<circle cx="694" cy="36.5" r="4.7" fill="url(#mP)"/>
<circle cx="711" cy="9.5" r="4.7" fill="url(#mB)"/>
<circle cx="709.6" cy="32" r="4.7" fill="url(#mP)"/>
<circle cx="725.6" cy="13.9" r="4.7" fill="url(#mP)"/>
<circle cx="728" cy="36.5" r="4.7" fill="url(#mP)"/>
<circle cx="745" cy="9.5" r="4.7" fill="url(#mB)"/>
<circle cx="743.6" cy="32" r="4.7" fill="url(#mP)"/>
<line x1="41.3" y1="547" x2="55" y2="543.1" stroke="#a55cc0" stroke-width="5.0"/><line x1="55" y1="543.1" x2="68.8" y2="539.2" stroke="#8086ea" stroke-width="5.0"/>
<line x1="41.3" y1="547" x2="38.1" y2="586" stroke="#a55cc0" stroke-width="2.4"/>
<line x1="68.8" y1="539.2" x2="70.5" y2="558.7" stroke="#8086ea" stroke-width="2.4"/><line x1="70.5" y1="558.7" x2="72.3" y2="578.2" stroke="#a55cc0" stroke-width="2.4"/>
<line x1="102.1" y1="547" x2="115.8" y2="543.1" stroke="#a55cc0" stroke-width="5.0"/><line x1="115.8" y1="543.1" x2="129.6" y2="539.2" stroke="#8086ea" stroke-width="5.0"/>
<line x1="102.1" y1="547" x2="98.9" y2="586" stroke="#a55cc0" stroke-width="2.4"/>
<line x1="129.6" y1="539.2" x2="131.3" y2="558.7" stroke="#8086ea" stroke-width="2.4"/><line x1="131.3" y1="558.7" x2="133.1" y2="578.2" stroke="#a55cc0" stroke-width="2.4"/>
<line x1="72.3" y1="578.2" x2="98.9" y2="586" stroke="#6a3e7c" stroke-width="2.4"/>
<line x1="162.9" y1="547" x2="176.6" y2="543.1" stroke="#a55cc0" stroke-width="5.0"/><line x1="176.6" y1="543.1" x2="190.4" y2="539.2" stroke="#8086ea" stroke-width="5.0"/>
<line x1="162.9" y1="547" x2="159.7" y2="586" stroke="#a55cc0" stroke-width="2.4"/>
<line x1="190.4" y1="539.2" x2="192.1" y2="558.7" stroke="#8086ea" stroke-width="2.4"/><line x1="192.1" y1="558.7" x2="193.9" y2="578.2" stroke="#a55cc0" stroke-width="2.4"/>
<line x1="133.1" y1="578.2" x2="159.7" y2="586" stroke="#6a3e7c" stroke-width="2.4"/>
<line x1="223.7" y1="547" x2="237.4" y2="543.1" stroke="#a55cc0" stroke-width="5.0"/><line x1="237.4" y1="543.1" x2="251.2" y2="539.2" stroke="#8086ea" stroke-width="5.0"/>
<line x1="223.7" y1="547" x2="220.5" y2="586" stroke="#a55cc0" stroke-width="2.4"/>
<line x1="251.2" y1="539.2" x2="252.9" y2="558.7" stroke="#8086ea" stroke-width="2.4"/><line x1="252.9" y1="558.7" x2="254.7" y2="578.2" stroke="#a55cc0" stroke-width="2.4"/>
<line x1="193.9" y1="578.2" x2="220.5" y2="586" stroke="#6a3e7c" stroke-width="2.4"/>
<line x1="284.5" y1="547" x2="298.2" y2="543.1" stroke="#a55cc0" stroke-width="5.0"/><line x1="298.2" y1="543.1" x2="312" y2="539.2" stroke="#8086ea" stroke-width="5.0"/>
<line x1="284.5" y1="547" x2="281.3" y2="586" stroke="#a55cc0" stroke-width="2.4"/>
<line x1="312" y1="539.2" x2="313.8" y2="558.7" stroke="#8086ea" stroke-width="2.4"/><line x1="313.8" y1="558.7" x2="315.5" y2="578.2" stroke="#a55cc0" stroke-width="2.4"/>
<line x1="254.7" y1="578.2" x2="281.3" y2="586" stroke="#6a3e7c" stroke-width="2.4"/>
<line x1="346.4" y1="545" x2="373.7" y2="545" stroke="#8086ea" stroke-width="5.0"/>
<line x1="346.4" y1="545" x2="344.1" y2="564" stroke="#8086ea" stroke-width="2.4"/><line x1="344.1" y1="564" x2="341.9" y2="583.1" stroke="#a55cc0" stroke-width="2.4"/>
<line x1="373.7" y1="545" x2="376" y2="564" stroke="#8086ea" stroke-width="2.4"/><line x1="376" y1="564" x2="378.3" y2="583.1" stroke="#a55cc0" stroke-width="2.4"/>
<line x1="315.5" y1="578.2" x2="341.9" y2="583.1" stroke="#6a3e7c" stroke-width="2.4"/>
<line x1="409" y1="538.8" x2="407.3" y2="558.1" stroke="#8086ea" stroke-width="2.4"/><line x1="407.3" y1="558.1" x2="405.6" y2="577.4" stroke="#a55cc0" stroke-width="2.4"/>
<line x1="378.3" y1="583.1" x2="405.6" y2="577.4" stroke="#6a3e7c" stroke-width="2.4"/>
<circle cx="41.3" cy="547" r="8.5" fill="url(#mP)"/>
<circle cx="68.8" cy="539.2" r="8.5" fill="url(#mB)"/>
<circle cx="72.3" cy="578.2" r="8.5" fill="url(#mP)"/>
<circle cx="38.1" cy="586" r="8.5" fill="url(#mP)"/>
<circle cx="102.1" cy="547" r="8.5" fill="url(#mP)"/>
<circle cx="129.6" cy="539.2" r="8.5" fill="url(#mB)"/>
<circle cx="133.1" cy="578.2" r="8.5" fill="url(#mP)"/>
<circle cx="98.9" cy="586" r="8.5" fill="url(#mP)"/>
<circle cx="162.9" cy="547" r="8.5" fill="url(#mP)"/>
<circle cx="190.4" cy="539.2" r="8.5" fill="url(#mB)"/>
<circle cx="193.9" cy="578.2" r="8.5" fill="url(#mP)"/>
<circle cx="159.7" cy="586" r="8.5" fill="url(#mP)"/>
<circle cx="223.7" cy="547" r="8.5" fill="url(#mP)"/>
<circle cx="251.2" cy="539.2" r="8.5" fill="url(#mB)"/>
<circle cx="254.7" cy="578.2" r="8.5" fill="url(#mP)"/>
<circle cx="220.5" cy="586" r="8.5" fill="url(#mP)"/>
<circle cx="284.5" cy="547" r="8.5" fill="url(#mP)"/>
<circle cx="312" cy="539.2" r="8.5" fill="url(#mB)"/>
<circle cx="315.5" cy="578.2" r="8.5" fill="url(#mP)"/>
<circle cx="281.3" cy="586" r="8.5" fill="url(#mP)"/>
<circle cx="346.4" cy="545" r="8.5" fill="url(#mB)"/>
<circle cx="373.7" cy="545" r="8.5" fill="url(#mB)"/>
<circle cx="341.9" cy="583.1" r="8.5" fill="url(#mP)"/>
<circle cx="378.3" cy="583.1" r="8.5" fill="url(#mP)"/>
<circle cx="409" cy="538.8" r="8.5" fill="url(#mB)"/>
<circle cx="405.6" cy="577.4" r="8.5" fill="url(#mP)"/>
<line x1="470.6" y1="546" x2="484.1" y2="542" stroke="#a55cc0" stroke-width="5.0"/><line x1="484.1" y1="542" x2="497.6" y2="538" stroke="#8086ea" stroke-width="5.0"/>
<line x1="470.6" y1="546" x2="466.4" y2="585.7" stroke="#a55cc0" stroke-width="2.4"/>
<line x1="497.6" y1="538" x2="499.2" y2="557.9" stroke="#8086ea" stroke-width="2.4"/><line x1="499.2" y1="557.9" x2="500.8" y2="577.8" stroke="#a55cc0" stroke-width="2.4"/>
<line x1="531.6" y1="545" x2="558.2" y2="545" stroke="#8086ea" stroke-width="5.0"/>
<line x1="531.6" y1="545" x2="529.5" y2="564.5" stroke="#8086ea" stroke-width="2.4"/><line x1="529.5" y1="564.5" x2="527.5" y2="584" stroke="#a55cc0" stroke-width="2.4"/>
<line x1="558.2" y1="545" x2="560.9" y2="564.5" stroke="#8086ea" stroke-width="2.4"/><line x1="560.9" y1="564.5" x2="563.5" y2="584" stroke="#a55cc0" stroke-width="2.4"/>
<line x1="500.8" y1="577.8" x2="527.5" y2="584" stroke="#6a3e7c" stroke-width="2.4"/>
<line x1="594.2" y1="537.6" x2="592.6" y2="557.7" stroke="#8086ea" stroke-width="2.4"/><line x1="592.6" y1="557.7" x2="591" y2="577.8" stroke="#a55cc0" stroke-width="2.4"/>
<line x1="563.5" y1="584" x2="591" y2="577.8" stroke="#6a3e7c" stroke-width="2.4"/>
<line x1="594.2" y1="537.6" x2="607.5" y2="542" stroke="#8086ea" stroke-width="5.0"/><line x1="607.5" y1="542" x2="620.7" y2="546.4" stroke="#a55cc0" stroke-width="5.0"/>
<line x1="620.7" y1="546.4" x2="623.9" y2="585.7" stroke="#a55cc0" stroke-width="2.4"/>
<line x1="655.1" y1="537.6" x2="653.5" y2="557.7" stroke="#8086ea" stroke-width="2.4"/><line x1="653.5" y1="557.7" x2="651.9" y2="577.8" stroke="#a55cc0" stroke-width="2.4"/>
<line x1="623.9" y1="585.7" x2="651.9" y2="577.8" stroke="#6a3e7c" stroke-width="2.4"/>
<line x1="655.1" y1="537.6" x2="668.4" y2="542" stroke="#8086ea" stroke-width="5.0"/><line x1="668.4" y1="542" x2="681.6" y2="546.4" stroke="#a55cc0" stroke-width="5.0"/>
<line x1="681.6" y1="546.4" x2="684.8" y2="585.7" stroke="#a55cc0" stroke-width="2.4"/>
<line x1="716" y1="537.6" x2="714.4" y2="557.7" stroke="#8086ea" stroke-width="2.4"/><line x1="714.4" y1="557.7" x2="712.8" y2="577.8" stroke="#a55cc0" stroke-width="2.4"/>
<line x1="684.8" y1="585.7" x2="712.8" y2="577.8" stroke="#6a3e7c" stroke-width="2.4"/>
<line x1="716" y1="537.6" x2="729.2" y2="542" stroke="#8086ea" stroke-width="5.0"/><line x1="729.2" y1="542" x2="742.5" y2="546.4" stroke="#a55cc0" stroke-width="5.0"/>
<line x1="742.5" y1="546.4" x2="745.7" y2="585.7" stroke="#a55cc0" stroke-width="2.4"/>
<line x1="776.9" y1="537.6" x2="775.3" y2="557.7" stroke="#8086ea" stroke-width="2.4"/><line x1="775.3" y1="557.7" x2="773.7" y2="577.8" stroke="#a55cc0" stroke-width="2.4"/>
<line x1="745.7" y1="585.7" x2="773.7" y2="577.8" stroke="#6a3e7c" stroke-width="2.4"/>
<line x1="776.9" y1="537.6" x2="790.2" y2="542" stroke="#8086ea" stroke-width="5.0"/><line x1="790.2" y1="542" x2="803.4" y2="546.4" stroke="#a55cc0" stroke-width="5.0"/>
<line x1="803.4" y1="546.4" x2="806.6" y2="585.7" stroke="#a55cc0" stroke-width="2.4"/>
<line x1="837.8" y1="537.6" x2="836.2" y2="557.7" stroke="#8086ea" stroke-width="2.4"/><line x1="836.2" y1="557.7" x2="834.6" y2="577.8" stroke="#a55cc0" stroke-width="2.4"/>
<line x1="806.6" y1="585.7" x2="834.6" y2="577.8" stroke="#6a3e7c" stroke-width="2.4"/>
<circle cx="470.6" cy="546" r="8.5" fill="url(#mP)"/>
<circle cx="497.6" cy="538" r="8.5" fill="url(#mB)"/>
<circle cx="500.8" cy="577.8" r="8.5" fill="url(#mP)"/>
<circle cx="466.4" cy="585.7" r="8.5" fill="url(#mP)"/>
<circle cx="531.6" cy="545" r="8.5" fill="url(#mB)"/>
<circle cx="558.2" cy="545" r="8.5" fill="url(#mB)"/>
<circle cx="527.5" cy="584" r="8.5" fill="url(#mP)"/>
<circle cx="563.5" cy="584" r="8.5" fill="url(#mP)"/>
<circle cx="594.2" cy="537.6" r="8.5" fill="url(#mB)"/>
<circle cx="591" cy="577.8" r="8.5" fill="url(#mP)"/>
<circle cx="620.7" cy="546.4" r="8.5" fill="url(#mP)"/>
<circle cx="623.9" cy="585.7" r="8.5" fill="url(#mP)"/>
<circle cx="655.1" cy="537.6" r="8.5" fill="url(#mB)"/>
<circle cx="651.9" cy="577.8" r="8.5" fill="url(#mP)"/>
<circle cx="681.6" cy="546.4" r="8.5" fill="url(#mP)"/>
<circle cx="684.8" cy="585.7" r="8.5" fill="url(#mP)"/>
<circle cx="716" cy="537.6" r="8.5" fill="url(#mB)"/>
<circle cx="712.8" cy="577.8" r="8.5" fill="url(#mP)"/>
<circle cx="742.5" cy="546.4" r="8.5" fill="url(#mP)"/>
<circle cx="745.7" cy="585.7" r="8.5" fill="url(#mP)"/>
<circle cx="776.9" cy="537.6" r="8.5" fill="url(#mB)"/>
<circle cx="773.7" cy="577.8" r="8.5" fill="url(#mP)"/>
<circle cx="803.4" cy="546.4" r="8.5" fill="url(#mP)"/>
<circle cx="806.6" cy="585.7" r="8.5" fill="url(#mP)"/>
<circle cx="837.8" cy="537.6" r="8.5" fill="url(#mB)"/>
<circle cx="834.6" cy="577.8" r="8.5" fill="url(#mP)"/>
<line x1="116.3" y1="509" x2="158" y2="509" stroke="#000" stroke-width="2"/>
<path d="M166,509 L153,514 L156.2,509 L153,504Z" fill="#000"/>
<text x="195.4" y="517" font-size="24"><tspan font-style="italic">P</tspan> &gt; 0</text>
<text x="620.7" y="517" font-size="24"><tspan font-style="italic">P</tspan> &lt; 0</text>
<line x1="721" y1="509" x2="763" y2="509" stroke="#000" stroke-width="2"/>
<path d="M712.5,509 L725.5,504 L722.2,509 L725.5,514Z" fill="#000"/>
<rect x="939.6" y="37.3" width="353.6" height="367.6" fill="none" stroke="#000" stroke-width="2.2"/>
<line x1="939.6" y1="63.6" x2="949.6" y2="63.6" stroke="#000" stroke-width="2.2"/>
<line x1="1283.7" y1="63.6" x2="1293.2" y2="63.6" stroke="#000" stroke-width="2.2"/>
<text x="928" y="72.9" font-size="24" text-anchor="end">–0.24</text>
<text x="1303.5" y="72.8" font-size="24">–0.48</text>
<line x1="939.6" y1="103.1" x2="944.1" y2="103.1" stroke="#000" stroke-width="2.2"/>
<line x1="1288.7" y1="103.1" x2="1293.2" y2="103.1" stroke="#000" stroke-width="2.2"/>
<line x1="939.6" y1="142.7" x2="949.6" y2="142.7" stroke="#000" stroke-width="2.2"/>
<line x1="1283.7" y1="142.7" x2="1293.2" y2="142.7" stroke="#000" stroke-width="2.2"/>
<text x="928" y="152" font-size="24" text-anchor="end">–0.27</text>
<text x="1303.5" y="151.8" font-size="24">–0.51</text>
<line x1="939.6" y1="182.2" x2="944.1" y2="182.2" stroke="#000" stroke-width="2.2"/>
<line x1="1288.7" y1="182.2" x2="1293.2" y2="182.2" stroke="#000" stroke-width="2.2"/>
<line x1="939.6" y1="221.7" x2="949.6" y2="221.7" stroke="#000" stroke-width="2.2"/>
<line x1="1283.7" y1="221.7" x2="1293.2" y2="221.7" stroke="#000" stroke-width="2.2"/>
<text x="928" y="231" font-size="24" text-anchor="end">–0.30</text>
<text x="1303.5" y="230.9" font-size="24">–0.54</text>
<line x1="939.6" y1="261.2" x2="944.1" y2="261.2" stroke="#000" stroke-width="2.2"/>
<line x1="1288.7" y1="261.2" x2="1293.2" y2="261.2" stroke="#000" stroke-width="2.2"/>
<line x1="939.6" y1="300.8" x2="949.6" y2="300.8" stroke="#000" stroke-width="2.2"/>
<line x1="1283.7" y1="300.8" x2="1293.2" y2="300.8" stroke="#000" stroke-width="2.2"/>
<text x="928" y="310.1" font-size="24" text-anchor="end">–0.33</text>
<text x="1303.5" y="309.9" font-size="24">–0.57</text>
<line x1="939.6" y1="340.2" x2="944.1" y2="340.2" stroke="#000" stroke-width="2.2"/>
<line x1="1288.7" y1="340.2" x2="1293.2" y2="340.2" stroke="#000" stroke-width="2.2"/>
<line x1="939.6" y1="379.8" x2="949.6" y2="379.8" stroke="#000" stroke-width="2.2"/>
<line x1="1283.7" y1="379.8" x2="1293.2" y2="379.8" stroke="#000" stroke-width="2.2"/>
<text x="928" y="389.1" font-size="24" text-anchor="end">–0.36</text>
<text x="1303.5" y="389" font-size="24">–0.60</text>
<line x1="983.7" y1="404.9" x2="983.7" y2="394.9" stroke="#000" stroke-width="2.2"/>
<text x="983.7" y="431.4" font-size="24" text-anchor="middle">0</text>
<line x1="1027.8" y1="404.9" x2="1027.8" y2="400.4" stroke="#000" stroke-width="2.2"/>
<line x1="1072" y1="404.9" x2="1072" y2="394.9" stroke="#000" stroke-width="2.2"/>
<text x="1072" y="431.4" font-size="24" text-anchor="middle">20</text>
<line x1="1116.1" y1="404.9" x2="1116.1" y2="400.4" stroke="#000" stroke-width="2.2"/>
<line x1="1160.2" y1="404.9" x2="1160.2" y2="394.9" stroke="#000" stroke-width="2.2"/>
<text x="1160.2" y="431.4" font-size="24" text-anchor="middle">40</text>
<line x1="1204.4" y1="404.9" x2="1204.4" y2="400.4" stroke="#000" stroke-width="2.2"/>
<line x1="1248.5" y1="404.9" x2="1248.5" y2="394.9" stroke="#000" stroke-width="2.2"/>
<text x="1248.5" y="431.4" font-size="24" text-anchor="middle">60</text>
<text x="1116.2" y="464" font-size="24" text-anchor="middle">Δ<tspan font-style="italic">z</tspan> (pm)</text>
<line x1="983.7" y1="98" x2="983.7" y2="243.2" stroke="#000" stroke-width="2.6"/>
<line x1="965.2" y1="98" x2="1002.2" y2="98" stroke="#000" stroke-width="2.8"/>
<line x1="965.2" y1="243.2" x2="1002.2" y2="243.2" stroke="#000" stroke-width="2.8"/>
<line x1="1027.8" y1="114.4" x2="1027.8" y2="260.9" stroke="#000" stroke-width="2.6"/>
<line x1="1009.3" y1="114.4" x2="1046.3" y2="114.4" stroke="#000" stroke-width="2.8"/>
<line x1="1009.3" y1="260.9" x2="1046.3" y2="260.9" stroke="#000" stroke-width="2.8"/>
<line x1="1072" y1="130.7" x2="1072" y2="284.6" stroke="#000" stroke-width="2.6"/>
<line x1="1053.5" y1="130.7" x2="1090.5" y2="130.7" stroke="#000" stroke-width="2.8"/>
<line x1="1053.5" y1="284.6" x2="1090.5" y2="284.6" stroke="#000" stroke-width="2.8"/>
<line x1="1116.1" y1="136.1" x2="1116.1" y2="287" stroke="#000" stroke-width="2.6"/>
<line x1="1097.6" y1="136.1" x2="1134.6" y2="136.1" stroke="#000" stroke-width="2.8"/>
<line x1="1097.6" y1="287" x2="1134.6" y2="287" stroke="#000" stroke-width="2.8"/>
<line x1="1160.2" y1="207.8" x2="1160.2" y2="314.8" stroke="#000" stroke-width="2.6"/>
<line x1="1141.7" y1="207.8" x2="1178.7" y2="207.8" stroke="#000" stroke-width="2.8"/>
<line x1="1141.7" y1="314.8" x2="1178.7" y2="314.8" stroke="#000" stroke-width="2.8"/>
<line x1="1204.4" y1="219.6" x2="1204.4" y2="316" stroke="#000" stroke-width="2.6"/>
<line x1="1185.9" y1="219.6" x2="1222.9" y2="219.6" stroke="#000" stroke-width="2.8"/>
<line x1="1185.9" y1="316" x2="1222.9" y2="316" stroke="#000" stroke-width="2.8"/>
<line x1="1248.5" y1="231.5" x2="1248.5" y2="386.2" stroke="#000" stroke-width="2.6"/>
<line x1="1230" y1="231.5" x2="1267" y2="231.5" stroke="#000" stroke-width="2.8"/>
<line x1="1230" y1="386.2" x2="1267" y2="386.2" stroke="#000" stroke-width="2.8"/>
<line x1="993.5" y1="173.7" x2="1018" y2="183" stroke="#000" stroke-width="2.8"/>
<line x1="1037.4" y1="191.1" x2="1062.4" y2="202.6" stroke="#000" stroke-width="2.8"/>
<line x1="1082.4" y1="208" x2="1105.6" y2="210.3" stroke="#000" stroke-width="2.8"/>
<line x1="1123.1" y1="219.1" x2="1153.2" y2="252.6" stroke="#000" stroke-width="2.8"/>
<line x1="1170.6" y1="262.3" x2="1194" y2="266.4" stroke="#000" stroke-width="2.8"/>
<line x1="1212.1" y1="275.4" x2="1240.7" y2="301.7" stroke="#000" stroke-width="2.8"/>
<rect x="977.3" y="163.6" width="12.8" height="12.8" fill="#000"/>
<rect x="1021.4" y="180.3" width="12.8" height="12.8" fill="#000"/>
<rect x="1065.6" y="200.6" width="12.8" height="12.8" fill="#000"/>
<rect x="1109.7" y="204.9" width="12.8" height="12.8" fill="#000"/>
<rect x="1153.8" y="254" width="12.8" height="12.8" fill="#000"/>
<rect x="1198" y="261.9" width="12.8" height="12.8" fill="#000"/>
<rect x="1242.1" y="302.4" width="12.8" height="12.8" fill="#000"/>
<line x1="993.1" y1="148.8" x2="1018.4" y2="161" stroke="#ff0000" stroke-width="2.8"/>
<line x1="1038.2" y1="167.4" x2="1061.6" y2="171.5" stroke="#ff0000" stroke-width="2.8"/>
<line x1="1081.2" y1="178.3" x2="1106.8" y2="192" stroke="#ff0000" stroke-width="2.8"/>
<line x1="1124.9" y1="202.7" x2="1151.4" y2="219.5" stroke="#ff0000" stroke-width="2.8"/>
<line x1="1169.5" y1="230.2" x2="1195.1" y2="244.1" stroke="#ff0000" stroke-width="2.8"/>
<line x1="1211.1" y1="257.2" x2="1241.8" y2="294.1" stroke="#ff0000" stroke-width="2.8"/>
<circle cx="983.7" cy="144.2" r="7.4" fill="#ff0000"/>
<circle cx="1027.8" cy="165.6" r="7.4" fill="#ff0000"/>
<circle cx="1072" cy="173.3" r="7.4" fill="#ff0000"/>
<circle cx="1116.1" cy="197" r="7.4" fill="#ff0000"/>
<circle cx="1160.2" cy="225.2" r="7.4" fill="#ff0000"/>
<circle cx="1204.4" cy="249.1" r="7.4" fill="#ff0000"/>
<circle cx="1248.5" cy="302.2" r="7.4" fill="#ff0000"/>
<line x1="1119.2" y1="59.4" x2="1191" y2="59.4" stroke="#ff0000" stroke-width="2.8"/>
<circle cx="1154.4" cy="59.4" r="7.4" fill="#ff0000"/>
<line x1="1119.2" y1="105.8" x2="1191" y2="105.8" stroke="#000" stroke-width="3"/>
<rect x="1148" y="99.4" width="12.8" height="12.8" fill="#000"/>
<text x="1200.5" y="71.2" font-size="24"><tspan font-style="italic">V</tspan><tspan font-size="14" dy="7.8">SW</tspan></text>
<text x="1200.5" y="114.6" font-size="24"><tspan font-style="italic">V</tspan><tspan font-size="14" dy="7.8">CPD</tspan></text>
<line x1="832" y1="321.8" x2="832" y2="353.2" stroke="#ff0000" stroke-width="3"/>
<text transform="translate(841.4,317.5) rotate(-90)" font-size="25.1">Switching voltage (V)</text>
<line x1="1391.5" y1="262.1" x2="1391.5" y2="288.3" stroke="#000" stroke-width="3"/>
<text transform="translate(1398.3,244.2) rotate(-90)" font-size="24"><tspan font-style="italic">V</tspan><tspan font-size="14" dy="7.8">CPD</tspan><tspan dy="-7.8"> (V)</tspan></text>
<rect x="1001" y="1071.3" width="315.8" height="365.5" fill="none" stroke="#000" stroke-width="2.2"/>
<line x1="1001" y1="1108.2" x2="1011" y2="1108.2" stroke="#000" stroke-width="2.2"/>
<text x="990.5" y="1117.9" font-size="24" text-anchor="end">0</text>
<line x1="1001" y1="1181.3" x2="1011" y2="1181.3" stroke="#000" stroke-width="2.2"/>
<text x="990.5" y="1191" font-size="24" text-anchor="end">–5</text>
<line x1="1001" y1="1254.4" x2="1011" y2="1254.4" stroke="#000" stroke-width="2.2"/>
<text x="990.5" y="1264.1" font-size="24" text-anchor="end">–10</text>
<line x1="1001" y1="1327.5" x2="1011" y2="1327.5" stroke="#000" stroke-width="2.2"/>
<text x="990.5" y="1337.2" font-size="24" text-anchor="end">–15</text>
<line x1="1001" y1="1400.6" x2="1011" y2="1400.6" stroke="#000" stroke-width="2.2"/>
<text x="990.5" y="1410.3" font-size="24" text-anchor="end">–20</text>
<line x1="1001" y1="1144.8" x2="1005" y2="1144.8" stroke="#000" stroke-width="2.2"/>
<line x1="1001" y1="1217.9" x2="1005" y2="1217.9" stroke="#000" stroke-width="2.2"/>
<line x1="1001" y1="1291" x2="1005" y2="1291" stroke="#000" stroke-width="2.2"/>
<line x1="1001" y1="1364" x2="1005" y2="1364" stroke="#000" stroke-width="2.2"/>
<text x="1327.6" y="1445" font-size="24">0</text>
<line x1="1306.8" y1="1329.2" x2="1316.8" y2="1329.2" stroke="#000" stroke-width="2.2"/>
<text x="1327.6" y="1338" font-size="24">0.5</text>
<line x1="1306.8" y1="1221.6" x2="1316.8" y2="1221.6" stroke="#000" stroke-width="2.2"/>
<text x="1327.6" y="1230.4" font-size="24">1.0</text>
<line x1="1306.8" y1="1114" x2="1316.8" y2="1114" stroke="#000" stroke-width="2.2"/>
<text x="1327.6" y="1122.8" font-size="24">1.5</text>
<line x1="1312.8" y1="1383" x2="1316.8" y2="1383" stroke="#000" stroke-width="2.2"/>
<line x1="1312.8" y1="1275.4" x2="1316.8" y2="1275.4" stroke="#000" stroke-width="2.2"/>
<line x1="1312.8" y1="1167.8" x2="1316.8" y2="1167.8" stroke="#000" stroke-width="2.2"/>
<text x="1001" y="1464.3" font-size="24" text-anchor="middle">0</text>
<line x1="1032.6" y1="1436.8" x2="1032.6" y2="1432.5" stroke="#000" stroke-width="2.2"/>
<line x1="1064.2" y1="1436.8" x2="1064.2" y2="1427.3" stroke="#000" stroke-width="2.2"/>
<text x="1064.2" y="1464.3" font-size="24" text-anchor="middle">10</text>
<line x1="1095.7" y1="1436.8" x2="1095.7" y2="1432.5" stroke="#000" stroke-width="2.2"/>
<line x1="1127.3" y1="1436.8" x2="1127.3" y2="1427.3" stroke="#000" stroke-width="2.2"/>
<text x="1127.3" y="1464.3" font-size="24" text-anchor="middle">20</text>
<line x1="1158.9" y1="1436.8" x2="1158.9" y2="1432.5" stroke="#000" stroke-width="2.2"/>
<line x1="1190.5" y1="1436.8" x2="1190.5" y2="1427.3" stroke="#000" stroke-width="2.2"/>
<text x="1190.5" y="1464.3" font-size="24" text-anchor="middle">30</text>
<line x1="1222.1" y1="1436.8" x2="1222.1" y2="1432.5" stroke="#000" stroke-width="2.2"/>
<line x1="1253.6" y1="1436.8" x2="1253.6" y2="1427.3" stroke="#000" stroke-width="2.2"/>
<text x="1253.6" y="1464.3" font-size="24" text-anchor="middle">40</text>
<line x1="1285.2" y1="1436.8" x2="1285.2" y2="1432.5" stroke="#000" stroke-width="2.2"/>
<text x="1316.8" y="1464.3" font-size="24" text-anchor="middle">50</text>
<text x="1158.5" y="1501.6" font-size="24" text-anchor="middle"><tspan font-style="italic">r</tspan> (Å)</text>
<clipPath id="gclip"><rect x="1001" y="1071.3" width="315.8" height="365.5"/></clipPath>
<g clip-path="url(#gclip)">
<polyline points="1001,1238.4 1002.6,1238.4 1004.2,1238.3 1005.7,1238.2 1007.3,1238 1008.9,1237.7 1010.5,1237.5 1012.1,1237.1 1013.6,1236.8 1015.2,1236.4 1016.8,1235.9 1018.4,1235.4 1019.9,1234.8 1021.5,1234.2 1023.1,1233.6 1024.7,1232.9 1026.3,1232.2 1027.8,1231.5 1029.4,1230.7 1031,1229.9 1032.6,1229.1 1034.2,1228.2 1035.7,1227.4 1037.3,1226.5 1038.9,1225.5 1040.5,1224.6 1042.1,1223.6 1043.6,1222.6 1045.2,1221.6 1046.8,1220.6 1048.4,1219.6 1049.9,1218.6 1051.5,1217.5 1053.1,1216.5 1054.7,1215.4 1056.3,1214.4 1057.8,1213.3 1059.4,1212.2 1061,1211.2 1062.6,1210.1 1064.2,1209 1065.7,1207.9 1067.3,1206.9 1068.9,1205.8 1070.5,1204.8 1072.1,1203.7 1073.6,1202.6 1075.2,1201.6 1076.8,1200.5 1078.4,1199.5 1080,1198.5 1081.5,1197.4 1083.1,1196.4 1084.7,1195.4 1086.3,1194.4 1087.8,1193.4 1089.4,1192.4 1091,1191.5 1092.6,1190.5 1094.2,1189.5 1095.7,1188.6 1097.3,1187.6 1098.9,1186.7 1100.5,1185.8 1102.1,1184.8 1103.6,1183.9 1105.2,1183 1106.8,1182.2 1108.4,1181.3 1110,1180.4 1111.5,1179.5 1113.1,1178.7 1114.7,1177.9 1116.3,1177 1117.8,1176.2 1119.4,1175.4 1121,1174.6 1122.6,1173.8 1124.2,1173 1125.7,1172.2 1127.3,1171.5 1128.9,1170.7 1130.5,1169.9 1132.1,1169.2 1133.6,1168.5 1135.2,1167.7 1136.8,1167 1138.4,1166.3 1140,1165.6 1141.5,1164.9 1143.1,1164.2 1144.7,1163.6 1146.3,1162.9 1147.8,1162.2 1149.4,1161.6 1151,1160.9 1152.6,1160.3 1154.2,1159.7 1155.7,1159 1157.3,1158.4 1158.9,1157.8 1160.5,1157.2 1162.1,1156.6 1163.6,1156 1165.2,1155.4 1166.8,1154.9 1168.4,1154.3 1170,1153.7 1171.5,1153.2 1173.1,1152.6 1174.7,1152.1 1176.3,1151.5 1177.8,1151 1179.4,1150.5 1181,1150 1182.6,1149.4 1184.2,1148.9 1185.7,1148.4 1187.3,1147.9 1188.9,1147.4 1190.5,1147 1192.1,1146.5 1193.6,1146 1195.2,1145.5 1196.8,1145.1 1198.4,1144.6 1200,1144.1 1201.5,1143.7 1203.1,1143.2 1204.7,1142.8 1206.3,1142.3 1207.8,1141.9 1209.4,1141.5 1211,1141.1 1212.6,1140.6 1214.2,1140.2 1215.7,1139.8 1217.3,1139.4 1218.9,1139 1220.5,1138.6 1222.1,1138.2 1223.6,1137.8 1225.2,1137.4 1226.8,1137 1228.4,1136.6 1230,1136.3 1231.5,1135.9 1233.1,1135.5 1234.7,1135.2 1236.3,1134.8 1237.8,1134.4 1239.4,1134.1 1241,1133.7 1242.6,1133.4 1244.2,1133 1245.7,1132.7 1247.3,1132.3 1248.9,1132 1250.5,1131.7 1252.1,1131.3 1253.6,1131 1255.2,1130.7 1256.8,1130.4 1258.4,1130 1260,1129.7 1261.5,1129.4 1263.1,1129.1 1264.7,1128.8 1266.3,1128.5 1267.9,1128.2 1269.4,1127.9 1271,1127.6 1272.6,1127.3 1274.2,1127 1275.7,1126.7 1277.3,1126.4 1278.9,1126.1 1280.5,1125.9 1282.1,1125.6 1283.6,1125.3 1285.2,1125 1286.8,1124.7 1288.4,1124.5 1290,1124.2 1291.5,1123.9 1293.1,1123.7 1294.7,1123.4 1296.3,1123.1 1297.9,1122.9 1299.4,1122.6 1301,1122.4 1302.6,1122.1 1304.2,1121.9 1305.7,1121.6 1307.3,1121.4 1308.9,1121.1 1310.5,1120.9 1312.1,1120.7 1313.6,1120.4 1315.2,1120.2 1316.8,1119.9" fill="none" stroke="#000" stroke-width="3.2" stroke-linejoin="round"/>
<polyline points="1001,1108.2 1002.6,1122.2 1004.2,1136.1 1005.7,1150 1007.3,1163.7 1008.9,1177.2 1010.5,1190.6 1012.1,1203.6 1013.6,1216.4 1015.2,1228.9 1016.8,1241.1 1018.4,1252.8 1019.9,1264.2 1021.5,1275.1 1023.1,1285.6 1024.7,1295.7 1026.3,1305.2 1027.8,1314.3 1029.4,1322.9 1031,1331 1032.6,1338.6 1034.2,1345.7 1035.7,1352.4 1037.3,1358.5 1038.9,1364.2 1040.5,1369.4 1042.1,1374.1 1043.6,1378.4 1045.2,1382.3 1046.8,1385.7 1048.4,1388.7 1049.9,1391.4 1051.5,1393.7 1053.1,1395.6 1054.7,1397.2 1056.3,1398.4 1057.8,1399.4 1059.4,1400.1 1061,1400.5 1062.6,1400.6 1064.2,1400.5 1065.7,1400.2 1067.3,1399.6 1068.9,1398.9 1070.5,1397.9 1072.1,1396.8 1073.6,1395.6 1075.2,1394.2 1076.8,1392.6 1078.4,1391 1080,1389.2 1081.5,1387.3 1083.1,1385.3 1084.7,1383.3 1086.3,1381.1 1087.8,1378.9 1089.4,1376.7 1091,1374.4 1092.6,1372 1094.2,1369.6 1095.7,1367.1 1097.3,1364.7 1098.9,1362.2 1100.5,1359.7 1102.1,1357.1 1103.6,1354.6 1105.2,1352 1106.8,1349.5 1108.4,1346.9 1110,1344.3 1111.5,1341.8 1113.1,1339.2 1114.7,1336.7 1116.3,1334.1 1117.8,1331.6 1119.4,1329.1 1121,1326.6 1122.6,1324.2 1124.2,1321.7 1125.7,1319.3 1127.3,1316.8 1128.9,1314.5 1130.5,1312.1 1132.1,1309.7 1133.6,1307.4 1135.2,1305.1 1136.8,1302.8 1138.4,1300.6 1140,1298.4 1141.5,1296.2 1143.1,1294 1144.7,1291.9 1146.3,1289.7 1147.8,1287.6 1149.4,1285.6 1151,1283.5 1152.6,1281.5 1154.2,1279.5 1155.7,1277.6 1157.3,1275.6 1158.9,1273.7 1160.5,1271.9 1162.1,1270 1163.6,1268.2 1165.2,1266.4 1166.8,1264.6 1168.4,1262.8 1170,1261.1 1171.5,1259.4 1173.1,1257.7 1174.7,1256.1 1176.3,1254.4 1177.8,1252.8 1179.4,1251.2 1181,1249.7 1182.6,1248.1 1184.2,1246.6 1185.7,1245.1 1187.3,1243.6 1188.9,1242.2 1190.5,1240.7 1192.1,1239.3 1193.6,1237.9 1195.2,1236.6 1196.8,1235.2 1198.4,1233.9 1200,1232.6 1201.5,1231.3 1203.1,1230 1204.7,1228.7 1206.3,1227.5 1207.8,1226.3 1209.4,1225.1 1211,1223.9 1212.6,1222.7 1214.2,1221.6 1215.7,1220.4 1217.3,1219.3 1218.9,1218.2 1220.5,1217.1 1222.1,1216 1223.6,1215 1225.2,1213.9 1226.8,1212.9 1228.4,1211.9 1230,1210.9 1231.5,1209.9 1233.1,1208.9 1234.7,1208 1236.3,1207 1237.8,1206.1 1239.4,1205.2 1241,1204.3 1242.6,1203.4 1244.2,1202.5 1245.7,1201.6 1247.3,1200.7 1248.9,1199.9 1250.5,1199.1 1252.1,1198.2 1253.6,1197.4 1255.2,1196.6 1256.8,1195.8 1258.4,1195 1260,1194.3 1261.5,1193.5 1263.1,1192.8 1264.7,1192 1266.3,1191.3 1267.9,1190.6 1269.4,1189.8 1271,1189.1 1272.6,1188.4 1274.2,1187.8 1275.7,1187.1 1277.3,1186.4 1278.9,1185.7 1280.5,1185.1 1282.1,1184.4 1283.6,1183.8 1285.2,1183.2 1286.8,1182.6 1288.4,1181.9 1290,1181.3 1291.5,1180.7 1293.1,1180.2 1294.7,1179.6 1296.3,1179 1297.9,1178.4 1299.4,1177.9 1301,1177.3 1302.6,1176.8 1304.2,1176.2 1305.7,1175.7 1307.3,1175.1 1308.9,1174.6 1310.5,1174.1 1312.1,1173.6 1313.6,1173.1 1315.2,1172.6 1316.8,1172.1" fill="none" stroke="#ff0000" stroke-width="2.8" stroke-linejoin="round"/>
</g>
<line x1="1200" y1="1316" x2="1246.1" y2="1316" stroke="#000" stroke-width="3.4"/>
<line x1="1200" y1="1355.8" x2="1246.1" y2="1355.8" stroke="#ff0000" stroke-width="3.2"/>
<text x="1254.5" y="1326" font-size="24"><tspan font-style="italic">ϕ</tspan></text>
<text x="1255.5" y="1365.5" font-size="24"><tspan font-style="italic">E</tspan></text>
<text x="1033.5" y="1113.6" font-size="24"><tspan font-style="italic">ϕ</tspan><tspan font-size="17" dy="8.4">S</tspan><tspan dy="-8.4"> = 1.6 eV</tspan></text>
<line x1="926.5" y1="1323.2" x2="926.5" y2="1342.7" stroke="#ff0000" stroke-width="3"/>
<text transform="translate(933.6,1317.3) rotate(-90)" font-size="24"><tspan font-style="italic">E</tspan> (mV Å<tspan font-size="15" dy="-9">–1</tspan><tspan dy="9">)</tspan></text>
<line x1="1389.4" y1="1297.4" x2="1389.4" y2="1317.6" stroke="#000" stroke-width="3"/>
<text transform="translate(1397.4,1288) rotate(-90)" font-size="24"><tspan font-family="Liberation Serif" font-style="italic">Φ</tspan> (V)</text>
<path d="M1104.4,554.9 L1109.6,587.1 L1115.3,634.2 L1122.3,681.4 L1127.8,712.8 L1133.3,736.3 L1136,746 L1138.1,752 L1139.8,755.5 L1141.2,756.9 L1141.2,756.9 L1142.6,755.5 L1144.3,752 L1146.4,746 L1149.1,736.3 L1154.6,712.8 L1160.1,681.4 L1167.1,634.2 L1172.8,587.1 L1178,554.9Z" fill="#726d6d"/>
<polyline points="1172.5,589.5 1230.9,589.5 1230.9,647.3" fill="none" stroke="#000" stroke-width="2.2"/>
<line x1="1210.6" y1="647.3" x2="1250.2" y2="647.3" stroke="#000" stroke-width="2.4"/>
<line x1="1218" y1="655.9" x2="1242.7" y2="655.9" stroke="#000" stroke-width="2.4"/>
<line x1="1225.4" y1="664.5" x2="1235.4" y2="664.5" stroke="#000" stroke-width="2.4"/>
<text x="990" y="628.6" font-size="24.8">STM/AFM</text>
<text x="1046.5" y="658.1" font-size="24.8" text-anchor="middle">tip</text>
<rect x="979.7" y="839.8" width="319.6" height="83.2" fill="#b0acac"/>
<rect x="1019.9" y="807" width="235.9" height="32.8" fill="#a882c6"/>
<text x="995" y="800.1" font-size="24">Bi</text>
<text x="1141" y="906.3" font-size="24" text-anchor="middle">HOPG</text>
<line x1="1140.9" y1="839.8" x2="1312" y2="839.8" stroke="#000" stroke-width="2.2"/>
<path d="M1321.8,839.8 L1307.8,845.3 L1311.3,839.8 L1307.8,834.3Z" fill="#000"/>
<text x="1287" y="828.3" font-size="24"><tspan font-style="italic">r</tspan></text>
<text x="1258.8" y="798.9" font-size="24.5"><tspan font-style="italic">ϕ</tspan></text>
<line x1="1140.9" y1="837" x2="1140.9" y2="774" stroke="#000" stroke-width="2.2"/>
<path d="M1140.9,764.3 L1146.4,778.3 L1140.9,774.8 L1135.4,778.3Z" fill="#000"/>
<line x1="1210.5" y1="807" x2="1175" y2="807" stroke="#ff0000" stroke-width="2.4"/>
<path d="M1165.7,807 L1178.7,801.8 L1175.5,807 L1178.7,812.2Z" fill="#ff0000"/>
<text x="1158.7" y="794.5" font-size="24" fill="#ff0000"><tspan font-style="italic">E</tspan></text>
<path d="M1069.3,832.1 C1068.5,800 1080,775 1104,761" fill="none" stroke="#000" stroke-width="2.2"/>
<path d="M1112,756.6 L1102.4,768.2 L1102.8,761.7 L1097.1,758.5Z" fill="#000"/>
<path d="M1212.9,832.1 C1213.7,800 1202.2,775 1178.2,761" fill="none" stroke="#000" stroke-width="2.2"/>
<path d="M1170.2,756.6 L1185.1,758.5 L1179.4,761.7 L1179.8,768.2Z" fill="#000"/>
<text x="1057.5" y="953.6" font-size="24"><tspan font-style="italic">ϕ</tspan><tspan font-size="17.5" dy="7.9">S</tspan><tspan dy="-7.9"> = </tspan><tspan font-style="italic">V</tspan><tspan font-size="17.5" dy="7.9">S</tspan><tspan dy="-7.9"> – </tspan><tspan font-style="italic">V</tspan><tspan font-size="17" dy="7.9">CPD</tspan></text>
<text transform="translate(-3,29.3) scale(1.12,1)" font-size="33" font-weight="bold" stroke="#000" stroke-width="0.9">a</text>
<text transform="translate(-0.8,509.3) scale(1.2,1)" font-size="31" font-weight="bold" stroke="#000" stroke-width="0.9">b</text>
<text transform="translate(446,509.1) scale(1.18,1)" font-size="33" font-weight="bold" stroke="#000" stroke-width="0.9">c</text>
<text transform="translate(-1.8,985.5) scale(1.2,1)" font-size="31" font-weight="bold" stroke="#000" stroke-width="0.9">d</text>
<text transform="translate(817.5,28) scale(1.18,1)" font-size="33" font-weight="bold" stroke="#000" stroke-width="0.9">e</text>
<text transform="translate(916,511.2) scale(1.2,1)" font-size="31" font-weight="bold" stroke="#000" stroke-width="0.9">f</text>
<text transform="translate(912,1032.3) scale(1.15,1)" font-size="32" font-weight="bold" stroke="#000" stroke-width="0.9">g</text>
<clipPath id="dclip"><rect x="105" y="997.2" width="617.2" height="460.6"/></clipPath>
<g clip-path="url(#dclip)" fill="none" stroke-width="2.2" stroke-linejoin="round">
<polyline points="104.9,1492.4 106.1,1492.7 107.4,1492.8 108.6,1492.9 109.8,1493.9 111.1,1492.5 112.3,1492.5 113.6,1492.2 114.8,1491.5 116.0,1488.6 117.3,1489.6 118.5,1489.3 119.7,1487.9 121.0,1482.9 122.2,1483.1 123.4,1483.0 124.7,1485.7 125.9,1484.2 127.1,1485.2 128.4,1483.8 129.6,1480.9 130.8,1478.2 132.1,1476.9 133.3,1477.8 134.5,1477.9 135.8,1477.4 137.0,1475.3 138.2,1475.3 139.5,1474.4 140.7,1474.7 142.0,1473.3 143.2,1472.3 144.4,1471.2 145.7,1468.9 146.9,1468.5 148.1,1466.2 149.4,1467.4 150.6,1467.1 151.8,1468.0 153.1,1466.5 154.3,1464.9 155.5,1462.9 156.8,1461.3 158.0,1460.3 159.2,1461.4 160.5,1462.0 161.7,1460.3 162.9,1458.9 164.2,1459.5 165.4,1461.1 166.7,1461.2 167.9,1457.8 169.1,1456.4 170.4,1452.6 171.6,1452.4 172.8,1451.4 174.1,1453.6 175.3,1452.5 176.5,1452.2 177.8,1451.9 179.0,1451.5 180.2,1450.5 181.5,1447.7 182.7,1447.6 183.9,1449.9 185.2,1449.6 186.4,1450.7 187.6,1445.4 188.9,1443.6 190.1,1441.3 191.3,1443.4 192.6,1446.0 193.8,1443.9 195.1,1442.1 196.3,1440.6 197.5,1441.0 198.8,1437.9 200.0,1436.2 201.2,1434.5 202.5,1435.0 203.7,1433.6 204.9,1432.6 206.2,1433.3 207.4,1433.7 208.6,1434.8 209.9,1434.0 211.1,1431.9 212.3,1430.8 213.6,1429.4 214.8,1430.4 216.0,1429.7 217.3,1428.0 218.5,1427.0 219.7,1426.0 221.0,1425.4 222.2,1423.7 223.5,1421.6 224.7,1421.0 225.9,1422.1 227.2,1421.3 228.4,1420.0 229.6,1416.4 230.9,1416.7 232.1,1413.7 233.3,1414.5 234.6,1411.9 235.8,1412.7 237.0,1410.7 238.3,1409.1 239.5,1407.8 240.7,1407.7 242.0,1407.5 243.2,1404.9 244.4,1399.1 245.7,1397.2 246.9,1395.3 248.1,1393.4 249.4,1389.2 250.6,1386.8 251.9,1386.0 253.1,1384.6 254.3,1381.7 255.6,1377.8 256.8,1374.8 258.0,1372.1 259.3,1368.3 260.5,1364.0 261.7,1360.3 263.0,1357.7 264.2,1354.9 265.4,1351.3 266.7,1347.8 267.9,1344.2 269.1,1342.2 270.4,1340.5 271.6,1339.0 272.8,1337.0 274.1,1335.3 275.3,1334.1 276.5,1333.7 277.8,1333.5 279.0,1332.7 280.3,1331.7 281.5,1330.6 282.7,1330.4 284.0,1330.2 285.2,1329.4 286.4,1328.7 287.7,1328.3 288.9,1328.2 290.1,1328.0 291.4,1327.5 292.6,1327.0 293.8,1326.9 295.1,1327.1 296.3,1327.3 297.5,1327.3 298.8,1326.9 300.0,1326.8 301.2,1326.6 302.5,1326.7 303.7,1326.6 304.9,1326.7 306.2,1326.5 307.4,1326.6 308.7,1326.6 309.9,1326.6 311.1,1326.7 312.4,1326.3 313.6,1326.3 314.8,1326.2 316.1,1326.3 317.3,1326.4 318.5,1326.7 319.8,1326.6 321.0,1326.6 322.2,1326.2 323.5,1326.4 324.7,1326.3 325.9,1326.5 327.2,1326.5 328.4,1326.5 329.6,1326.4 330.9,1326.3 332.1,1326.4 333.3,1326.5 334.6,1326.4 335.8,1326.1 337.1,1325.9 338.3,1325.9 339.5,1326.2 340.8,1326.2 342.0,1326.2 343.2,1326.1 344.5,1326.0 345.7,1326.0 346.9,1325.8 348.2,1326.1 349.4,1326.3 350.6,1326.5 351.9,1326.4 353.1,1326.3 354.3,1325.9 355.6,1325.9 356.8,1325.9 358.0,1325.7 359.3,1325.9 360.5,1326.0 361.7,1326.4 363.0,1326.1 364.2,1326.0 365.5,1325.9 366.7,1326.2 367.9,1325.9 369.2,1325.9 370.4,1325.9 371.6,1326.1 372.9,1326.1 374.1,1325.9 375.3,1325.7 376.6,1325.6 377.8,1325.6 379.0,1325.8 380.3,1325.8 381.5,1325.6 382.7,1325.4 384.0,1325.4 385.2,1325.7 386.4,1325.8 387.7,1325.5 388.9,1325.4 390.1,1325.3 391.4,1325.7 392.6,1325.5 393.9,1325.7 395.1,1325.6 396.3,1325.8 397.6,1325.5 398.8,1325.3 400.0,1325.3 401.3,1325.3 402.5,1325.4 403.7,1325.5 405.0,1325.5 406.2,1325.4 407.4,1325.0 408.7,1324.9 409.9,1324.6 411.1,1324.5 412.4,1324.2 413.6,1324.1 414.8,1324.1 416.1,1324.2 417.3,1324.1 418.5,1324.3 419.8,1324.3 421.0,1324.3 422.3,1324.1 423.5,1323.9 424.7,1324.1 426.0,1324.1 427.2,1324.1 428.4,1323.7 429.7,1323.2 430.9,1323.3 432.1,1323.2 433.4,1323.2 434.6,1323.0 435.8,1323.2 437.1,1323.3 438.3,1322.9 439.5,1322.7 440.8,1322.3 442.0,1322.5 443.2,1321.8 444.5,1321.9 445.7,1321.5 446.9,1322.0 448.2,1321.5 449.4,1320.9 450.7,1320.3 451.9,1319.4 453.1,1319.3 454.4,1318.1 455.6,1318.5 456.8,1316.9 458.1,1315.6 459.3,1312.9 460.5,1311.7 461.8,1309.7 463.0,1306.8 464.2,1304.1 465.5,1300.7 466.7,1298.7 467.9,1295.6 469.2,1293.6 470.4,1290.6 471.6,1286.7 472.9,1283.5 474.1,1280.9 475.4,1280.3 476.6,1277.6 477.8,1274.6 479.1,1272.9 480.3,1272.2 481.5,1269.3 482.8,1265.4 484.0,1261.9 485.2,1260.7 486.5,1257.7 487.7,1254.8 488.9,1253.0 490.2,1249.8 491.4,1248.2 492.6,1246.5 493.9,1246.6 495.1,1244.9 496.3,1242.7 497.6,1240.7 498.8,1238.7 500.0,1239.8 501.3,1238.9 502.5,1237.0 503.8,1232.2 505.0,1230.8 506.2,1230.9 507.5,1229.1 508.7,1227.5 509.9,1226.1 511.2,1224.2 512.4,1223.0 513.6,1220.5 514.9,1221.1 516.1,1219.3 517.3,1219.7 518.6,1219.2 519.8,1216.7 521.0,1215.7 522.3,1213.3 523.5,1214.6 524.7,1212.4 526.0,1211.5 527.2,1210.7 528.4,1208.0 529.7,1206.9 530.9,1202.5 532.2,1203.4 533.4,1200.8 534.6,1198.2 535.9,1195.5 537.1,1195.6 538.3,1196.0 539.6,1194.5 540.8,1192.5 542.0,1191.5 543.3,1190.8 544.5,1188.5 545.7,1187.3 547.0,1186.2 548.2,1184.2 549.4,1182.5 550.7,1177.0 551.9,1176.8 553.1,1175.9 554.4,1178.3 555.6,1176.1 556.8,1174.6 558.1,1174.1 559.3,1171.1 560.6,1170.3 561.8,1165.5 563.0,1165.9 564.3,1164.3 565.5,1162.6 566.7,1161.6 568.0,1160.1 569.2,1160.6 570.4,1157.2 571.7,1153.6 572.9,1151.1 574.1,1149.0 575.4,1148.1 576.6,1147.1 577.8,1148.1 579.1,1148.7 580.3,1147.9 581.5,1143.9 582.8,1142.8 584.0,1139.3 585.2,1139.5 586.5,1136.8 587.7,1137.0 589.0,1133.4 590.2,1131.3 591.4,1128.7 592.7,1128.0 593.9,1126.8 595.1,1125.4 596.4,1124.6 597.6,1122.3 598.8,1120.6 600.1,1120.2 601.3,1118.6 602.5,1119.6 603.8,1116.8 605.0,1114.9 606.2,1112.1 607.5,1112.5 608.7,1112.0 609.9,1110.5 611.2,1105.8 612.4,1103.0 613.6,1097.7 614.9,1096.2 616.1,1092.7 617.4,1094.6 618.6,1090.2 619.8,1090.5 621.1,1085.8 622.3,1084.1 623.5,1080.1 624.8,1079.9 626.0,1080.5 627.2,1076.7 628.5,1071.5 629.7,1068.5 630.9,1069.7 632.2,1071.0 633.4,1069.7 634.6,1068.2 635.9,1065.7 637.1,1060.7 638.3,1058.6 639.6,1054.6 640.8,1058.0 642.0,1055.2 643.3,1055.5 644.5,1054.8 645.8,1052.7 647.0,1048.8 648.2,1043.5 649.5,1040.6 650.7,1042.4 651.9,1042.3 653.2,1041.6 654.4,1037.5 655.6,1033.4 656.9,1033.9 658.1,1030.6 659.3,1031.9 660.6,1029.1 661.8,1032.6 663.0,1030.7 664.3,1029.2 665.5,1027.8 666.7,1026.8 668.0,1024.7 669.2,1021.9 670.4,1018.6 671.7,1019.2 672.9,1015.6 674.2,1015.9 675.4,1012.1 676.6,1015.6 677.9,1013.8 679.1,1013.2 680.3,1007.0 681.6,1008.0 682.8,1004.2 684.0,1006.5 685.3,1000.7 686.5,1000.8 687.7,998.9 689.0,996.1 690.2,998.0 691.4,995.6 692.7,997.9 693.9,993.4 695.1,991.4 696.4,989.0 697.6,987.8 698.8,986.8 700.1,988.7 701.3,988.9 702.6,986.0 703.8,985.1 705.0,983.0 706.3,987.2 707.5,985.0 708.7,987.0 710.0,979.5 711.2,980.3 712.4,976.4 713.7,976.1 714.9,970.2 716.1,967.0 717.4,965.0 718.6,964.0 719.8,962.6 721.1,963.4 722.3,963.1" stroke="#0b0e4e"/>
<polyline points="104.9,1463.3 106.1,1459.7 107.4,1461.4 108.6,1462.0 109.8,1460.8 111.1,1460.5 112.3,1459.7 113.6,1459.4 114.8,1458.3 116.0,1458.6 117.3,1457.5 118.5,1455.3 119.7,1452.6 121.0,1453.0 122.2,1454.3 123.4,1455.3 124.7,1455.7 125.9,1454.3 127.1,1453.2 128.4,1450.4 129.6,1449.3 130.8,1447.3 132.1,1449.7 133.3,1449.5 134.5,1450.8 135.8,1451.1 137.0,1452.0 138.2,1451.8 139.5,1448.9 140.7,1446.2 142.0,1445.2 143.2,1445.1 144.4,1446.3 145.7,1445.8 146.9,1443.3 148.1,1440.9 149.4,1441.1 150.6,1442.0 151.8,1441.4 153.1,1438.9 154.3,1439.0 155.5,1438.4 156.8,1438.5 158.0,1437.7 159.2,1437.7 160.5,1438.1 161.7,1437.2 162.9,1436.2 164.2,1436.5 165.4,1436.1 166.7,1434.3 167.9,1432.6 169.1,1433.7 170.4,1433.2 171.6,1432.8 172.8,1430.3 174.1,1430.6 175.3,1430.2 176.5,1430.7 177.8,1431.4 179.0,1430.2 180.2,1428.6 181.5,1427.6 182.7,1425.3 183.9,1424.5 185.2,1422.8 186.4,1422.2 187.6,1421.8 188.9,1422.5 190.1,1424.1 191.3,1423.5 192.6,1420.9 193.8,1419.1 195.1,1418.9 196.3,1420.4 197.5,1420.1 198.8,1417.7 200.0,1417.2 201.2,1415.8 202.5,1416.6 203.7,1415.5 204.9,1416.5 206.2,1416.8 207.4,1416.6 208.6,1414.7 209.9,1414.7 211.1,1414.1 212.3,1414.6 213.6,1413.7 214.8,1413.1 216.0,1413.7 217.3,1411.5 218.5,1409.9 219.7,1409.2 221.0,1407.8 222.2,1408.5 223.5,1408.2 224.7,1410.1 225.9,1408.1 227.2,1407.6 228.4,1405.4 229.6,1404.7 230.9,1401.1 232.1,1400.3 233.3,1398.6 234.6,1398.6 235.8,1396.5 237.0,1396.9 238.3,1395.1 239.5,1394.6 240.7,1392.3 242.0,1389.3 243.2,1387.4 244.4,1385.7 245.7,1385.3 246.9,1383.1 248.1,1382.5 249.4,1379.8 250.6,1378.5 251.9,1375.9 253.1,1373.8 254.3,1371.0 255.6,1367.0 256.8,1363.8 258.0,1360.5 259.3,1358.5 260.5,1356.4 261.7,1352.9 263.0,1350.0 264.2,1347.0 265.4,1345.1 266.7,1343.6 267.9,1342.1 269.1,1341.3 270.4,1339.1 271.6,1337.7 272.8,1336.0 274.1,1335.4 275.3,1334.6 276.5,1333.7 277.8,1332.2 279.0,1331.4 280.3,1330.6 281.5,1330.2 282.7,1330.0 284.0,1329.6 285.2,1328.9 286.4,1328.4 287.7,1328.3 288.9,1328.7 290.1,1327.9 291.4,1327.8 292.6,1327.1 293.8,1327.2 295.1,1327.0 296.3,1327.0 297.5,1326.7 298.8,1326.3 300.0,1326.2 301.2,1326.5 302.5,1326.5 303.7,1326.4 304.9,1326.3 306.2,1326.4 307.4,1326.6 308.7,1326.5 309.9,1326.5 311.1,1326.5 312.4,1326.7 313.6,1326.6 314.8,1326.5 316.1,1326.6 317.3,1326.5 318.5,1326.5 319.8,1326.2 321.0,1326.1 322.2,1326.2 323.5,1326.2 324.7,1326.2 325.9,1326.2 327.2,1326.4 328.4,1326.3 329.6,1326.2 330.9,1326.1 332.1,1326.2 333.3,1326.3 334.6,1326.4 335.8,1326.5 337.1,1326.4 338.3,1326.2 339.5,1326.0 340.8,1326.1 342.0,1326.1 343.2,1326.0 344.5,1326.2 345.7,1326.1 346.9,1326.4 348.2,1326.2 349.4,1326.3 350.6,1326.1 351.9,1326.0 353.1,1326.1 354.3,1325.9 355.6,1325.8 356.8,1325.6 358.0,1325.7 359.3,1325.9 360.5,1326.2 361.7,1326.5 363.0,1326.4 364.2,1326.5 365.5,1326.0 366.7,1326.0 367.9,1325.8 369.2,1326.0 370.4,1326.3 371.6,1326.2 372.9,1326.0 374.1,1325.6 375.3,1325.8 376.6,1325.6 377.8,1325.8 379.0,1325.6 380.3,1325.7 381.5,1325.6 382.7,1325.3 384.0,1325.1 385.2,1325.0 386.4,1325.4 387.7,1325.6 388.9,1325.6 390.1,1325.4 391.4,1325.4 392.6,1325.2 393.9,1324.9 395.1,1324.6 396.3,1325.0 397.6,1325.3 398.8,1325.5 400.0,1325.6 401.3,1325.5 402.5,1325.4 403.7,1325.0 405.0,1324.5 406.2,1324.3 407.4,1324.4 408.7,1324.9 409.9,1324.8 411.1,1324.5 412.4,1324.5 413.6,1324.3 414.8,1324.7 416.1,1324.9 417.3,1325.0 418.5,1324.6 419.8,1324.5 421.0,1324.2 422.3,1324.5 423.5,1324.2 424.7,1324.4 426.0,1323.8 427.2,1324.0 428.4,1324.1 429.7,1324.3 430.9,1323.9 432.1,1323.5 433.4,1323.6 434.6,1323.8 435.8,1324.1 437.1,1323.3 438.3,1322.9 439.5,1322.3 440.8,1323.0 442.0,1322.9 443.2,1322.9 444.5,1322.0 445.7,1322.2 446.9,1321.5 448.2,1321.3 449.4,1320.4 450.7,1320.7 451.9,1319.9 453.1,1319.4 454.4,1318.4 455.6,1318.2 456.8,1317.4 458.1,1316.2 459.3,1314.6 460.5,1312.4 461.8,1310.4 463.0,1308.9 464.2,1307.4 465.5,1305.2 466.7,1303.0 467.9,1300.9 469.2,1298.7 470.4,1295.9 471.6,1294.0 472.9,1292.2 474.1,1289.8 475.4,1287.0 476.6,1285.2 477.8,1282.6 479.1,1281.8 480.3,1279.7 481.5,1278.5 482.8,1276.2 484.0,1275.0 485.2,1274.0 486.5,1271.3 487.7,1268.9 488.9,1266.1 490.2,1263.4 491.4,1261.9 492.6,1260.4 493.9,1259.3 495.1,1258.8 496.3,1257.6 497.6,1257.9 498.8,1255.7 500.0,1255.1 501.3,1251.7 502.5,1250.4 503.8,1249.0 505.0,1248.2 506.2,1246.8 507.5,1246.3 508.7,1244.9 509.9,1242.9 511.2,1240.9 512.4,1242.2 513.6,1242.5 514.9,1241.9 516.1,1238.0 517.3,1236.9 518.6,1234.2 519.8,1233.5 521.0,1231.4 522.3,1230.7 523.5,1229.5 524.7,1228.0 526.0,1228.6 527.2,1227.7 528.4,1229.4 529.7,1227.4 530.9,1226.5 532.2,1225.0 533.4,1222.2 534.6,1219.7 535.9,1216.8 537.1,1218.3 538.3,1217.6 539.6,1217.0 540.8,1215.2 542.0,1216.7 543.3,1215.0 544.5,1213.2 545.7,1208.8 547.0,1208.0 548.2,1207.8 549.4,1210.3 550.7,1208.6 551.9,1203.9 553.1,1202.5 554.4,1201.0 555.6,1200.8 556.8,1198.4 558.1,1197.3 559.3,1197.3 560.6,1195.4 561.8,1194.7 563.0,1191.5 564.3,1192.6 565.5,1189.5 566.7,1188.7 568.0,1185.4 569.2,1185.5 570.4,1184.1 571.7,1183.9 572.9,1182.6 574.1,1183.7 575.4,1181.0 576.6,1180.5 577.8,1179.0 579.1,1177.2 580.3,1174.8 581.5,1172.5 582.8,1170.0 584.0,1171.1 585.2,1170.7 586.5,1171.3 587.7,1165.9 589.0,1165.2 590.2,1164.0 591.4,1163.7 592.7,1162.4 593.9,1161.5 595.1,1160.8 596.4,1158.7 597.6,1156.0 598.8,1153.5 600.1,1151.9 601.3,1150.4 602.5,1149.5 603.8,1147.6 605.0,1147.9 606.2,1144.9 607.5,1144.9 608.7,1142.0 609.9,1141.5 611.2,1141.8 612.4,1141.4 613.6,1143.5 614.9,1138.7 616.1,1135.3 617.4,1132.0 618.6,1129.9 619.8,1128.1 621.1,1126.4 622.3,1125.1 623.5,1125.7 624.8,1122.2 626.0,1120.3 627.2,1115.0 628.5,1112.1 629.7,1111.8 630.9,1111.9 632.2,1111.6 633.4,1107.8 634.6,1105.9 635.9,1105.0 637.1,1102.3 638.3,1100.4 639.6,1098.0 640.8,1098.7 642.0,1096.6 643.3,1097.8 644.5,1094.1 645.8,1093.5 647.0,1091.3 648.2,1090.8 649.5,1086.8 650.7,1084.1 651.9,1084.3 653.2,1086.3 654.4,1084.2 655.6,1079.2 656.9,1078.5 658.1,1076.6 659.3,1077.8 660.6,1074.3 661.8,1073.9 663.0,1074.5 664.3,1074.0 665.5,1071.7 666.7,1069.2 668.0,1072.4 669.2,1074.5 670.4,1072.9 671.7,1067.3 672.9,1065.5 674.2,1062.8 675.4,1063.6 676.6,1063.8 677.9,1063.6 679.1,1062.8 680.3,1057.3 681.6,1055.1 682.8,1053.6 684.0,1055.6 685.3,1055.9 686.5,1052.3 687.7,1049.9 689.0,1049.3 690.2,1048.3 691.4,1046.3 692.7,1046.0 693.9,1047.8 695.1,1051.4 696.4,1049.6 697.6,1048.0 698.8,1042.4 700.1,1042.0 701.3,1041.0 702.6,1041.3 703.8,1040.0 705.0,1038.7 706.3,1037.9 707.5,1033.9 708.7,1032.5 710.0,1029.7 711.2,1030.0 712.4,1030.4 713.7,1033.4 714.9,1034.9 716.1,1032.7 717.4,1028.1 718.6,1027.4 719.8,1024.6 721.1,1024.1 722.3,1019.2" stroke="#0c1276"/>
<polyline points="104.9,1440.1 106.1,1441.1 107.4,1438.9 108.6,1437.5 109.8,1437.2 111.1,1435.6 112.3,1435.1 113.6,1435.8 114.8,1436.3 116.0,1437.1 117.3,1434.9 118.5,1435.2 119.7,1434.5 121.0,1432.7 122.2,1431.3 123.4,1431.9 124.7,1432.6 125.9,1431.6 127.1,1431.6 128.4,1431.7 129.6,1432.3 130.8,1429.6 132.1,1428.9 133.3,1428.2 134.5,1428.0 135.8,1426.6 137.0,1426.3 138.2,1424.3 139.5,1423.9 140.7,1422.2 142.0,1423.9 143.2,1424.2 144.4,1425.7 145.7,1427.1 146.9,1425.2 148.1,1423.7 149.4,1422.1 150.6,1423.1 151.8,1421.8 153.1,1420.3 154.3,1418.5 155.5,1420.2 156.8,1419.8 158.0,1420.6 159.2,1417.5 160.5,1416.5 161.7,1415.2 162.9,1414.9 164.2,1414.3 165.4,1415.8 166.7,1415.2 167.9,1414.8 169.1,1413.1 170.4,1413.5 171.6,1412.1 172.8,1410.8 174.1,1410.8 175.3,1411.3 176.5,1412.2 177.8,1411.2 179.0,1411.3 180.2,1409.8 181.5,1411.3 182.7,1412.1 183.9,1409.7 185.2,1407.8 186.4,1406.2 187.6,1407.6 188.9,1407.1 190.1,1406.3 191.3,1407.7 192.6,1407.0 193.8,1406.9 195.1,1406.4 196.3,1407.2 197.5,1406.0 198.8,1404.7 200.0,1403.6 201.2,1403.5 202.5,1402.6 203.7,1403.3 204.9,1403.5 206.2,1402.9 207.4,1401.0 208.6,1399.2 209.9,1398.1 211.1,1397.9 212.3,1396.3 213.6,1396.1 214.8,1396.2 216.0,1398.1 217.3,1398.5 218.5,1397.4 219.7,1396.5 221.0,1395.7 222.2,1393.5 223.5,1392.7 224.7,1391.6 225.9,1392.0 227.2,1391.6 228.4,1390.5 229.6,1390.0 230.9,1388.6 232.1,1389.0 233.3,1387.4 234.6,1386.7 235.8,1384.2 237.0,1382.6 238.3,1382.2 239.5,1380.7 240.7,1381.4 242.0,1380.1 243.2,1380.0 244.4,1376.7 245.7,1375.9 246.9,1372.7 248.1,1371.3 249.4,1368.3 250.6,1367.7 251.9,1365.9 253.1,1362.1 254.3,1360.5 255.6,1358.5 256.8,1357.3 258.0,1353.8 259.3,1351.3 260.5,1349.7 261.7,1347.9 263.0,1346.6 264.2,1344.1 265.4,1342.7 266.7,1340.8 267.9,1339.4 269.1,1337.9 270.4,1336.1 271.6,1335.4 272.8,1334.5 274.1,1333.9 275.3,1333.0 276.5,1332.2 277.8,1331.3 279.0,1330.5 280.3,1329.9 281.5,1329.4 282.7,1329.0 284.0,1328.4 285.2,1328.3 286.4,1328.2 287.7,1328.1 288.9,1327.5 290.1,1327.0 291.4,1326.8 292.6,1327.1 293.8,1327.1 295.1,1326.9 296.3,1326.4 297.5,1326.3 298.8,1326.6 300.0,1327.0 301.2,1327.1 302.5,1326.7 303.7,1326.6 304.9,1326.4 306.2,1326.8 307.4,1326.6 308.7,1326.6 309.9,1326.4 311.1,1326.6 312.4,1326.7 313.6,1326.5 314.8,1326.6 316.1,1326.6 317.3,1326.6 318.5,1326.7 319.8,1326.5 321.0,1326.5 322.2,1326.5 323.5,1326.6 324.7,1326.6 325.9,1326.5 327.2,1326.4 328.4,1326.5 329.6,1326.5 330.9,1326.5 332.1,1326.3 333.3,1326.1 334.6,1326.0 335.8,1325.9 337.1,1325.9 338.3,1325.8 339.5,1325.7 340.8,1326.1 342.0,1326.1 343.2,1326.4 344.5,1326.2 345.7,1326.4 346.9,1326.5 348.2,1326.4 349.4,1326.3 350.6,1326.2 351.9,1326.4 353.1,1325.9 354.3,1325.9 355.6,1325.9 356.8,1326.4 358.0,1326.8 359.3,1326.8 360.5,1326.4 361.7,1326.2 363.0,1326.1 364.2,1326.0 365.5,1326.0 366.7,1325.9 367.9,1326.0 369.2,1325.9 370.4,1325.9 371.6,1326.0 372.9,1326.1 374.1,1325.9 375.3,1325.7 376.6,1325.5 377.8,1325.4 379.0,1325.6 380.3,1325.5 381.5,1326.0 382.7,1325.8 384.0,1326.0 385.2,1325.7 386.4,1325.8 387.7,1325.5 388.9,1325.4 390.1,1325.1 391.4,1325.5 392.6,1325.4 393.9,1325.6 395.1,1325.6 396.3,1325.7 397.6,1325.5 398.8,1325.1 400.0,1325.0 401.3,1325.3 402.5,1325.3 403.7,1325.3 405.0,1325.0 406.2,1325.3 407.4,1325.2 408.7,1325.2 409.9,1325.0 411.1,1324.8 412.4,1324.9 413.6,1324.7 414.8,1325.0 416.1,1324.6 417.3,1324.5 418.5,1324.1 419.8,1324.6 421.0,1324.7 422.3,1324.8 423.5,1324.6 424.7,1324.6 426.0,1324.2 427.2,1324.0 428.4,1324.3 429.7,1324.8 430.9,1324.6 432.1,1324.3 433.4,1324.1 434.6,1323.7 435.8,1323.5 437.1,1323.3 438.3,1323.9 439.5,1324.0 440.8,1324.0 442.0,1323.5 443.2,1322.7 444.5,1322.4 445.7,1322.2 446.9,1322.3 448.2,1322.2 449.4,1322.0 450.7,1322.1 451.9,1321.4 453.1,1321.1 454.4,1320.5 455.6,1320.6 456.8,1319.7 458.1,1318.5 459.3,1316.5 460.5,1315.1 461.8,1313.3 463.0,1312.7 464.2,1311.3 465.5,1311.0 466.7,1308.5 467.9,1306.0 469.2,1303.6 470.4,1301.5 471.6,1300.0 472.9,1299.0 474.1,1298.3 475.4,1297.3 476.6,1295.4 477.8,1294.2 479.1,1293.2 480.3,1290.1 481.5,1286.6 482.8,1284.3 484.0,1284.0 485.2,1285.0 486.5,1284.4 487.7,1283.9 488.9,1281.1 490.2,1278.5 491.4,1275.2 492.6,1274.1 493.9,1273.1 495.1,1273.8 496.3,1272.2 497.6,1272.1 498.8,1269.2 500.0,1267.7 501.3,1265.6 502.5,1265.8 503.8,1265.0 505.0,1264.0 506.2,1263.4 507.5,1263.2 508.7,1261.8 509.9,1260.5 511.2,1260.3 512.4,1259.4 513.6,1256.7 514.9,1254.1 516.1,1254.4 517.3,1255.2 518.6,1254.0 519.8,1251.6 521.0,1250.0 522.3,1249.3 523.5,1248.4 524.7,1247.3 526.0,1247.3 527.2,1248.6 528.4,1248.0 529.7,1245.9 530.9,1241.8 532.2,1241.5 533.4,1241.3 534.6,1242.6 535.9,1241.9 537.1,1239.5 538.3,1235.0 539.6,1232.9 540.8,1232.1 542.0,1232.3 543.3,1232.1 544.5,1231.2 545.7,1229.9 547.0,1229.6 548.2,1227.8 549.4,1226.6 550.7,1222.9 551.9,1222.0 553.1,1223.1 554.4,1222.6 555.6,1224.9 556.8,1224.5 558.1,1223.9 559.3,1220.5 560.6,1218.1 561.8,1217.4 563.0,1216.2 564.3,1216.6 565.5,1214.3 566.7,1213.6 568.0,1211.9 569.2,1212.2 570.4,1211.5 571.7,1209.5 572.9,1209.6 574.1,1209.1 575.4,1210.5 576.6,1209.8 577.8,1208.5 579.1,1206.2 580.3,1201.9 581.5,1199.7 582.8,1198.2 584.0,1198.2 585.2,1196.0 586.5,1194.0 587.7,1195.0 589.0,1196.2 590.2,1194.8 591.4,1194.3 592.7,1193.4 593.9,1194.9 595.1,1192.7 596.4,1192.0 597.6,1189.9 598.8,1187.7 600.1,1187.1 601.3,1182.4 602.5,1181.1 603.8,1178.5 605.0,1178.9 606.2,1177.7 607.5,1175.6 608.7,1175.7 609.9,1175.0 611.2,1174.5 612.4,1173.5 613.6,1171.6 614.9,1169.6 616.1,1167.4 617.4,1166.6 618.6,1164.6 619.8,1163.1 621.1,1162.0 622.3,1162.4 623.5,1160.3 624.8,1158.6 626.0,1155.5 627.2,1155.6 628.5,1155.0 629.7,1155.4 630.9,1153.7 632.2,1151.7 633.4,1149.6 634.6,1148.8 635.9,1144.3 637.1,1141.1 638.3,1138.1 639.6,1138.9 640.8,1141.2 642.0,1140.3 643.3,1136.3 644.5,1131.8 645.8,1130.0 647.0,1133.8 648.2,1133.0 649.5,1133.2 650.7,1129.0 651.9,1128.6 653.2,1127.3 654.4,1129.6 655.6,1129.5 656.9,1129.8 658.1,1126.2 659.3,1123.3 660.6,1123.7 661.8,1122.6 663.0,1119.8 664.3,1116.6 665.5,1113.9 666.7,1113.7 668.0,1111.3 669.2,1112.0 670.4,1114.3 671.7,1115.7 672.9,1113.8 674.2,1109.1 675.4,1107.4 676.6,1106.0 677.9,1110.1 679.1,1109.6 680.3,1109.6 681.6,1105.1 682.8,1104.2 684.0,1105.3 685.3,1105.9 686.5,1104.4 687.7,1100.7 689.0,1099.5 690.2,1099.8 691.4,1100.0 692.7,1095.4 693.9,1093.9 695.1,1095.2 696.4,1097.1 697.6,1094.7 698.8,1091.8 700.1,1089.9 701.3,1089.3 702.6,1087.8 703.8,1085.7 705.0,1082.8 706.3,1080.3 707.5,1080.3 708.7,1081.7 710.0,1082.3 711.2,1082.2 712.4,1081.8 713.7,1080.5 714.9,1080.8 716.1,1078.1 717.4,1077.7 718.6,1075.7 719.8,1076.1 721.1,1077.1 722.3,1076.7" stroke="#0d17a0"/>
<polyline points="104.9,1417.1 106.1,1417.9 107.4,1418.2 108.6,1417.4 109.8,1415.4 111.1,1416.4 112.3,1417.7 113.6,1418.3 114.8,1416.9 116.0,1414.9 117.3,1415.5 118.5,1415.4 119.7,1413.3 121.0,1411.7 122.2,1411.5 123.4,1412.5 124.7,1411.8 125.9,1412.0 127.1,1411.9 128.4,1411.3 129.6,1410.9 130.8,1412.4 132.1,1412.7 133.3,1410.2 134.5,1406.0 135.8,1404.6 137.0,1403.0 138.2,1405.0 139.5,1405.3 140.7,1408.0 142.0,1407.2 143.2,1405.8 144.4,1404.3 145.7,1404.1 146.9,1404.3 148.1,1404.3 149.4,1403.5 150.6,1403.3 151.8,1403.6 153.1,1402.3 154.3,1401.4 155.5,1399.6 156.8,1400.1 158.0,1400.7 159.2,1400.8 160.5,1400.6 161.7,1398.7 162.9,1397.4 164.2,1396.4 165.4,1398.6 166.7,1398.3 167.9,1398.2 169.1,1398.3 170.4,1400.3 171.6,1400.4 172.8,1398.7 174.1,1397.5 175.3,1395.7 176.5,1395.2 177.8,1393.4 179.0,1395.2 180.2,1394.2 181.5,1393.7 182.7,1393.1 183.9,1392.2 185.2,1392.7 186.4,1391.2 187.6,1391.4 188.9,1391.8 190.1,1390.7 191.3,1392.6 192.6,1390.7 193.8,1391.8 195.1,1390.0 196.3,1391.2 197.5,1390.6 198.8,1388.1 200.0,1385.3 201.2,1384.6 202.5,1387.5 203.7,1389.1 204.9,1389.8 206.2,1389.2 207.4,1388.2 208.6,1387.5 209.9,1385.9 211.1,1384.7 212.3,1382.9 213.6,1383.6 214.8,1384.4 216.0,1384.4 217.3,1381.4 218.5,1379.6 219.7,1378.7 221.0,1378.7 222.2,1377.6 223.5,1377.6 224.7,1377.4 225.9,1378.3 227.2,1378.7 228.4,1379.0 229.6,1377.7 230.9,1377.1 232.1,1375.9 233.3,1376.2 234.6,1374.7 235.8,1372.8 237.0,1371.4 238.3,1371.3 239.5,1370.3 240.7,1368.9 242.0,1366.5 243.2,1366.8 244.4,1364.7 245.7,1364.3 246.9,1362.8 248.1,1361.4 249.4,1359.7 250.6,1358.1 251.9,1356.7 253.1,1355.1 254.3,1352.6 255.6,1350.4 256.8,1347.9 258.0,1346.1 259.3,1345.3 260.5,1343.3 261.7,1342.1 263.0,1341.1 264.2,1339.7 265.4,1338.3 266.7,1336.1 267.9,1336.2 269.1,1335.6 270.4,1334.6 271.6,1333.5 272.8,1332.9 274.1,1332.7 275.3,1331.6 276.5,1330.7 277.8,1329.9 279.0,1330.2 280.3,1329.9 281.5,1329.4 282.7,1328.6 284.0,1328.2 285.2,1328.0 286.4,1327.8 287.7,1327.8 288.9,1327.8 290.1,1327.3 291.4,1326.9 292.6,1326.7 293.8,1327.0 295.1,1327.2 296.3,1327.2 297.5,1327.0 298.8,1327.1 300.0,1327.2 301.2,1327.1 302.5,1326.8 303.7,1326.6 304.9,1326.7 306.2,1326.6 307.4,1326.8 308.7,1326.6 309.9,1326.7 311.1,1326.4 312.4,1326.6 313.6,1326.6 314.8,1326.6 316.1,1326.5 317.3,1326.5 318.5,1326.5 319.8,1326.7 321.0,1326.6 322.2,1326.4 323.5,1326.1 324.7,1326.0 325.9,1326.1 327.2,1326.1 328.4,1326.1 329.6,1326.1 330.9,1326.2 332.1,1326.3 333.3,1326.2 334.6,1326.3 335.8,1326.3 337.1,1326.4 338.3,1326.2 339.5,1326.0 340.8,1326.1 342.0,1326.2 343.2,1326.1 344.5,1326.0 345.7,1325.9 346.9,1326.2 348.2,1326.1 349.4,1326.0 350.6,1326.1 351.9,1326.3 353.1,1326.5 354.3,1326.3 355.6,1326.1 356.8,1325.8 358.0,1325.5 359.3,1325.8 360.5,1326.1 361.7,1326.3 363.0,1326.3 364.2,1326.3 365.5,1326.2 366.7,1326.2 367.9,1326.1 369.2,1326.1 370.4,1325.7 371.6,1325.6 372.9,1325.4 374.1,1325.3 375.3,1325.5 376.6,1325.6 377.8,1325.9 379.0,1325.6 380.3,1325.9 381.5,1326.0 382.7,1326.1 384.0,1326.1 385.2,1325.9 386.4,1325.5 387.7,1325.2 388.9,1325.1 390.1,1325.6 391.4,1325.5 392.6,1325.4 393.9,1325.2 395.1,1325.2 396.3,1325.4 397.6,1325.4 398.8,1325.8 400.0,1325.8 401.3,1325.8 402.5,1325.4 403.7,1325.0 405.0,1325.1 406.2,1324.8 407.4,1324.8 408.7,1324.6 409.9,1325.0 411.1,1325.3 412.4,1325.3 413.6,1325.3 414.8,1325.2 416.1,1325.2 417.3,1324.9 418.5,1324.9 419.8,1324.6 421.0,1324.8 422.3,1324.3 423.5,1324.2 424.7,1323.7 426.0,1324.2 427.2,1324.4 428.4,1324.4 429.7,1324.0 430.9,1324.0 432.1,1324.2 433.4,1324.4 434.6,1324.4 435.8,1324.0 437.1,1323.5 438.3,1323.4 439.5,1323.8 440.8,1324.0 442.0,1323.9 443.2,1323.6 444.5,1322.5 445.7,1321.9 446.9,1321.4 448.2,1322.0 449.4,1322.0 450.7,1321.7 451.9,1321.3 453.1,1321.3 454.4,1320.5 455.6,1320.6 456.8,1319.8 458.1,1319.3 459.3,1318.2 460.5,1317.7 461.8,1317.3 463.0,1316.1 464.2,1314.4 465.5,1311.9 466.7,1310.1 467.9,1308.3 469.2,1307.6 470.4,1306.8 471.6,1305.6 472.9,1304.1 474.1,1302.6 475.4,1301.3 476.6,1299.8 477.8,1299.6 479.1,1299.1 480.3,1298.5 481.5,1297.3 482.8,1295.5 484.0,1293.5 485.2,1291.1 486.5,1290.8 487.7,1290.5 488.9,1288.1 490.2,1286.2 491.4,1285.1 492.6,1284.9 493.9,1283.0 495.1,1282.2 496.3,1281.4 497.6,1280.5 498.8,1278.9 500.0,1277.0 501.3,1277.1 502.5,1275.6 503.8,1274.3 505.0,1271.8 506.2,1272.0 507.5,1272.1 508.7,1271.0 509.9,1270.9 511.2,1270.8 512.4,1271.9 513.6,1269.9 514.9,1268.8 516.1,1267.3 517.3,1266.6 518.6,1265.3 519.8,1264.4 521.0,1264.3 522.3,1263.2 523.5,1261.2 524.7,1259.8 526.0,1260.0 527.2,1259.3 528.4,1258.7 529.7,1256.8 530.9,1257.4 532.2,1256.5 533.4,1256.6 534.6,1255.6 535.9,1255.0 537.1,1255.8 538.3,1253.5 539.6,1250.5 540.8,1247.4 542.0,1249.0 543.3,1248.6 544.5,1247.8 545.7,1244.2 547.0,1244.6 548.2,1244.1 549.4,1244.6 550.7,1244.7 551.9,1244.4 553.1,1244.5 554.4,1243.0 555.6,1242.7 556.8,1241.5 558.1,1239.5 559.3,1237.6 560.6,1236.8 561.8,1236.4 563.0,1234.7 564.3,1233.8 565.5,1234.5 566.7,1236.4 568.0,1234.6 569.2,1232.5 570.4,1232.1 571.7,1230.6 572.9,1228.3 574.1,1224.5 575.4,1222.7 576.6,1223.7 577.8,1225.0 579.1,1225.6 580.3,1225.0 581.5,1222.5 582.8,1222.4 584.0,1223.6 585.2,1223.8 586.5,1223.3 587.7,1219.8 589.0,1217.1 590.2,1214.3 591.4,1213.0 592.7,1212.6 593.9,1213.3 595.1,1213.8 596.4,1213.3 597.6,1212.0 598.8,1210.8 600.1,1210.7 601.3,1209.3 602.5,1207.8 603.8,1204.3 605.0,1204.3 606.2,1204.4 607.5,1205.8 608.7,1202.5 609.9,1200.4 611.2,1199.8 612.4,1200.1 613.6,1200.4 614.9,1198.9 616.1,1198.7 617.4,1196.0 618.6,1195.6 619.8,1192.9 621.1,1192.7 622.3,1191.0 623.5,1190.8 624.8,1188.0 626.0,1183.3 627.2,1183.6 628.5,1183.1 629.7,1184.7 630.9,1180.7 632.2,1177.9 633.4,1175.9 634.6,1174.1 635.9,1174.2 637.1,1171.1 638.3,1172.4 639.6,1169.5 640.8,1173.7 642.0,1173.8 643.3,1174.2 644.5,1168.6 645.8,1167.6 647.0,1168.1 648.2,1168.2 649.5,1166.5 650.7,1163.6 651.9,1164.4 653.2,1161.0 654.4,1159.6 655.6,1157.0 656.9,1159.0 658.1,1160.4 659.3,1161.2 660.6,1160.4 661.8,1162.1 663.0,1157.9 664.3,1156.5 665.5,1153.5 666.7,1156.4 668.0,1155.1 669.2,1153.6 670.4,1154.9 671.7,1152.2 672.9,1151.1 674.2,1146.7 675.4,1149.4 676.6,1149.0 677.9,1148.9 679.1,1144.1 680.3,1144.1 681.6,1142.4 682.8,1144.2 684.0,1143.0 685.3,1142.9 686.5,1143.6 687.7,1141.8 689.0,1139.6 690.2,1135.9 691.4,1134.7 692.7,1135.2 693.9,1134.4 695.1,1134.4 696.4,1132.9 697.6,1131.4 698.8,1129.7 700.1,1128.6 701.3,1131.1 702.6,1134.3 703.8,1134.1 705.0,1131.2 706.3,1127.0 707.5,1125.7 708.7,1126.4 710.0,1129.8 711.2,1128.4 712.4,1125.6 713.7,1119.7 714.9,1117.6 716.1,1115.0 717.4,1114.1 718.6,1113.4 719.8,1114.1 721.1,1115.4 722.3,1117.0" stroke="#1020c8"/>
<polyline points="104.9,1400.2 106.1,1401.2 107.4,1401.1 108.6,1402.6 109.8,1400.9 111.1,1401.5 112.3,1400.2 113.6,1401.1 114.8,1399.8 116.0,1398.6 117.3,1397.1 118.5,1396.6 119.7,1397.6 121.0,1399.1 122.2,1398.1 123.4,1396.3 124.7,1394.2 125.9,1396.5 127.1,1397.6 128.4,1397.5 129.6,1394.5 130.8,1395.0 132.1,1396.0 133.3,1397.8 134.5,1396.1 135.8,1394.7 137.0,1394.8 138.2,1395.5 139.5,1394.4 140.7,1392.0 142.0,1390.7 143.2,1390.2 144.4,1391.4 145.7,1392.3 146.9,1393.8 148.1,1392.3 149.4,1392.4 150.6,1391.5 151.8,1391.1 153.1,1389.0 154.3,1388.4 155.5,1388.0 156.8,1388.6 158.0,1387.3 159.2,1387.8 160.5,1386.2 161.7,1385.8 162.9,1385.1 164.2,1386.0 165.4,1386.8 166.7,1387.4 167.9,1387.0 169.1,1386.5 170.4,1385.6 171.6,1384.5 172.8,1384.5 174.1,1384.0 175.3,1385.0 176.5,1384.3 177.8,1384.6 179.0,1383.8 180.2,1384.2 181.5,1384.7 182.7,1384.1 183.9,1383.2 185.2,1381.3 186.4,1380.7 187.6,1381.2 188.9,1380.1 190.1,1379.6 191.3,1379.2 192.6,1379.3 193.8,1379.0 195.1,1378.5 196.3,1379.8 197.5,1380.9 198.8,1379.2 200.0,1378.0 201.2,1375.9 202.5,1376.5 203.7,1375.3 204.9,1376.6 206.2,1375.9 207.4,1377.4 208.6,1376.6 209.9,1375.6 211.1,1375.4 212.3,1374.0 213.6,1374.4 214.8,1373.7 216.0,1373.9 217.3,1374.1 218.5,1372.6 219.7,1372.5 221.0,1372.1 222.2,1371.9 223.5,1371.6 224.7,1370.3 225.9,1369.9 227.2,1368.6 228.4,1368.9 229.6,1367.9 230.9,1366.4 232.1,1365.2 233.3,1365.0 234.6,1365.8 235.8,1365.7 237.0,1364.5 238.3,1363.9 239.5,1363.0 240.7,1361.9 242.0,1360.2 243.2,1358.4 244.4,1355.9 245.7,1354.7 246.9,1354.0 248.1,1354.2 249.4,1353.1 250.6,1351.7 251.9,1350.5 253.1,1349.7 254.3,1348.4 255.6,1347.7 256.8,1345.5 258.0,1343.6 259.3,1341.5 260.5,1340.0 261.7,1339.4 263.0,1338.1 264.2,1336.6 265.4,1335.8 266.7,1335.3 267.9,1335.1 269.1,1333.6 270.4,1332.8 271.6,1331.7 272.8,1331.1 274.1,1330.3 275.3,1330.1 276.5,1329.8 277.8,1330.1 279.0,1330.0 280.3,1329.6 281.5,1328.6 282.7,1328.3 284.0,1327.7 285.2,1327.7 286.4,1327.4 287.7,1327.4 288.9,1327.1 290.1,1327.1 291.4,1326.7 292.6,1326.9 293.8,1327.0 295.1,1327.2 296.3,1327.0 297.5,1326.7 298.8,1326.7 300.0,1326.8 301.2,1326.6 302.5,1326.5 303.7,1326.5 304.9,1326.4 306.2,1326.4 307.4,1326.3 308.7,1326.4 309.9,1326.6 311.1,1326.9 312.4,1326.9 313.6,1327.0 314.8,1326.8 316.1,1326.8 317.3,1326.4 318.5,1326.3 319.8,1326.4 321.0,1326.6 322.2,1326.8 323.5,1326.8 324.7,1326.8 325.9,1326.6 327.2,1326.5 328.4,1326.3 329.6,1326.3 330.9,1326.2 332.1,1326.1 333.3,1326.2 334.6,1326.5 335.8,1326.7 337.1,1326.4 338.3,1326.2 339.5,1326.1 340.8,1326.2 342.0,1326.4 343.2,1326.2 344.5,1326.5 345.7,1326.2 346.9,1326.4 348.2,1326.4 349.4,1326.4 350.6,1326.5 351.9,1326.3 353.1,1326.2 354.3,1326.1 355.6,1325.9 356.8,1326.0 358.0,1325.8 359.3,1325.9 360.5,1325.9 361.7,1325.9 363.0,1325.8 364.2,1325.9 365.5,1325.8 366.7,1325.9 367.9,1325.7 369.2,1325.6 370.4,1325.8 371.6,1325.8 372.9,1326.1 374.1,1326.0 375.3,1325.8 376.6,1325.8 377.8,1325.8 379.0,1325.9 380.3,1325.5 381.5,1325.4 382.7,1325.6 384.0,1325.8 385.2,1325.5 386.4,1325.4 387.7,1325.6 388.9,1326.0 390.1,1325.9 391.4,1325.7 392.6,1325.7 393.9,1325.8 395.1,1325.7 396.3,1325.6 397.6,1325.8 398.8,1325.7 400.0,1325.6 401.3,1325.1 402.5,1325.1 403.7,1325.4 405.0,1325.7 406.2,1325.5 407.4,1325.2 408.7,1325.1 409.9,1325.3 411.1,1325.3 412.4,1325.2 413.6,1325.1 414.8,1325.3 416.1,1325.0 417.3,1324.9 418.5,1324.8 419.8,1325.0 421.0,1325.0 422.3,1325.1 423.5,1324.8 424.7,1324.9 426.0,1324.4 427.2,1324.5 428.4,1324.7 429.7,1325.2 430.9,1325.1 432.1,1325.1 433.4,1324.3 434.6,1324.2 435.8,1323.8 437.1,1324.0 438.3,1323.8 439.5,1323.6 440.8,1323.4 442.0,1323.3 443.2,1323.4 444.5,1323.4 445.7,1323.4 446.9,1323.6 448.2,1323.3 449.4,1323.0 450.7,1322.3 451.9,1322.4 453.1,1322.1 454.4,1322.2 455.6,1321.8 456.8,1321.5 458.1,1320.4 459.3,1319.0 460.5,1317.5 461.8,1316.6 463.0,1316.3 464.2,1315.7 465.5,1315.0 466.7,1314.2 467.9,1313.4 469.2,1312.2 470.4,1311.4 471.6,1311.1 472.9,1310.5 474.1,1308.9 475.4,1307.5 476.6,1306.8 477.8,1305.4 479.1,1304.1 480.3,1302.4 481.5,1302.5 482.8,1302.0 484.0,1301.1 485.2,1299.8 486.5,1299.7 487.7,1299.1 488.9,1298.2 490.2,1297.0 491.4,1296.0 492.6,1294.8 493.9,1294.0 495.1,1293.4 496.3,1293.0 497.6,1292.3 498.8,1291.9 500.0,1291.7 501.3,1290.4 502.5,1287.7 503.8,1285.9 505.0,1284.0 506.2,1284.4 507.5,1284.5 508.7,1284.4 509.9,1284.8 511.2,1284.4 512.4,1283.1 513.6,1281.6 514.9,1280.8 516.1,1282.4 517.3,1282.8 518.6,1281.1 519.8,1279.4 521.0,1277.8 522.3,1278.3 523.5,1277.8 524.7,1277.1 526.0,1275.9 527.2,1275.1 528.4,1273.6 529.7,1271.3 530.9,1269.6 532.2,1268.9 533.4,1268.0 534.6,1268.6 535.9,1269.4 537.1,1269.2 538.3,1266.3 539.6,1264.3 540.8,1264.3 542.0,1266.1 543.3,1265.0 544.5,1265.1 545.7,1262.6 547.0,1263.0 548.2,1262.2 549.4,1262.4 550.7,1262.2 551.9,1261.0 553.1,1260.3 554.4,1258.7 555.6,1257.4 556.8,1257.0 558.1,1256.3 559.3,1257.1 560.6,1257.3 561.8,1257.6 563.0,1257.0 564.3,1255.1 565.5,1253.0 566.7,1250.7 568.0,1251.2 569.2,1250.8 570.4,1251.1 571.7,1249.3 572.9,1247.8 574.1,1248.0 575.4,1247.8 576.6,1249.3 577.8,1248.5 579.1,1249.4 580.3,1247.2 581.5,1245.3 582.8,1243.0 584.0,1242.7 585.2,1241.9 586.5,1241.0 587.7,1239.6 589.0,1238.4 590.2,1236.2 591.4,1235.6 592.7,1235.0 593.9,1234.8 595.1,1234.9 596.4,1234.4 597.6,1234.9 598.8,1233.4 600.1,1231.3 601.3,1230.8 602.5,1229.9 603.8,1229.1 605.0,1227.3 606.2,1227.8 607.5,1227.7 608.7,1227.4 609.9,1225.0 611.2,1226.0 612.4,1224.6 613.6,1224.2 614.9,1221.7 616.1,1223.1 617.4,1223.9 618.6,1224.1 619.8,1222.4 621.1,1219.1 622.3,1218.5 623.5,1216.1 624.8,1218.9 626.0,1218.9 627.2,1217.3 628.5,1213.4 629.7,1210.1 630.9,1210.1 632.2,1209.0 633.4,1208.2 634.6,1208.3 635.9,1208.3 637.1,1207.9 638.3,1205.2 639.6,1204.4 640.8,1203.9 642.0,1203.7 643.3,1202.6 644.5,1202.2 645.8,1201.1 647.0,1202.3 648.2,1202.0 649.5,1201.5 650.7,1199.5 651.9,1196.1 653.2,1194.4 654.4,1193.2 655.6,1194.1 656.9,1192.9 658.1,1193.5 659.3,1192.0 660.6,1192.2 661.8,1189.7 663.0,1190.7 664.3,1190.4 665.5,1189.6 666.7,1188.5 668.0,1190.3 669.2,1190.5 670.4,1186.9 671.7,1184.1 672.9,1183.6 674.2,1185.1 675.4,1185.8 676.6,1184.2 677.9,1182.8 679.1,1180.6 680.3,1179.7 681.6,1178.9 682.8,1176.8 684.0,1175.9 685.3,1178.1 686.5,1177.7 687.7,1179.3 689.0,1175.6 690.2,1175.9 691.4,1174.4 692.7,1175.1 693.9,1173.6 695.1,1170.5 696.4,1169.3 697.6,1169.8 698.8,1169.4 700.1,1168.7 701.3,1167.7 702.6,1168.1 703.8,1166.4 705.0,1166.2 706.3,1164.4 707.5,1164.7 708.7,1165.2 710.0,1166.6 711.2,1165.5 712.4,1162.6 713.7,1161.5 714.9,1159.9 716.1,1160.1 717.4,1162.7 718.6,1164.2 719.8,1161.2 721.1,1156.1 722.3,1154.6" stroke="#2030e8"/>
<polyline points="104.9,1387.2 106.1,1386.5 107.4,1386.6 108.6,1387.0 109.8,1386.8 111.1,1387.0 112.3,1387.3 113.6,1386.5 114.8,1385.6 116.0,1385.9 117.3,1386.8 118.5,1386.0 119.7,1384.0 121.0,1383.3 122.2,1384.7 123.4,1385.8 124.7,1385.2 125.9,1383.6 127.1,1383.5 128.4,1384.0 129.6,1384.0 130.8,1383.6 132.1,1383.3 133.3,1382.5 134.5,1383.1 135.8,1383.0 137.0,1383.8 138.2,1382.2 139.5,1382.2 140.7,1381.0 142.0,1382.1 143.2,1381.7 144.4,1382.2 145.7,1380.8 146.9,1380.2 148.1,1380.1 149.4,1379.2 150.6,1378.2 151.8,1377.8 153.1,1379.6 154.3,1379.7 155.5,1380.3 156.8,1378.9 158.0,1378.4 159.2,1377.1 160.5,1376.0 161.7,1375.6 162.9,1374.9 164.2,1376.9 165.4,1376.8 166.7,1377.5 167.9,1377.2 169.1,1377.1 170.4,1375.4 171.6,1374.0 172.8,1374.4 174.1,1375.3 175.3,1376.5 176.5,1376.2 177.8,1374.9 179.0,1372.8 180.2,1372.8 181.5,1373.7 182.7,1372.6 183.9,1370.0 185.2,1368.8 186.4,1369.3 187.6,1370.0 188.9,1369.5 190.1,1370.7 191.3,1370.2 192.6,1371.9 193.8,1370.8 195.1,1371.7 196.3,1370.5 197.5,1370.5 198.8,1370.6 200.0,1370.3 201.2,1369.7 202.5,1368.8 203.7,1368.4 204.9,1368.3 206.2,1368.5 207.4,1369.2 208.6,1368.3 209.9,1366.4 211.1,1364.3 212.3,1365.4 213.6,1366.3 214.8,1367.1 216.0,1366.6 217.3,1365.1 218.5,1364.9 219.7,1363.7 221.0,1363.6 222.2,1363.4 223.5,1362.8 224.7,1363.0 225.9,1362.8 227.2,1362.7 228.4,1363.4 229.6,1362.8 230.9,1361.9 232.1,1359.8 233.3,1359.2 234.6,1358.6 235.8,1358.2 237.0,1357.4 238.3,1357.7 239.5,1357.5 240.7,1356.1 242.0,1354.1 243.2,1352.6 244.4,1351.4 245.7,1350.7 246.9,1348.8 248.1,1348.1 249.4,1346.5 250.6,1346.3 251.9,1345.9 253.1,1344.9 254.3,1343.9 255.6,1342.1 256.8,1342.0 258.0,1340.9 259.3,1339.7 260.5,1338.0 261.7,1337.0 263.0,1336.8 264.2,1335.9 265.4,1334.4 266.7,1333.4 267.9,1332.0 269.1,1332.0 270.4,1331.3 271.6,1331.1 272.8,1330.1 274.1,1330.1 275.3,1329.7 276.5,1329.8 277.8,1329.2 279.0,1329.0 280.3,1328.4 281.5,1328.2 282.7,1327.8 284.0,1327.5 285.2,1327.5 286.4,1327.4 287.7,1327.4 288.9,1326.8 290.1,1326.6 291.4,1326.6 292.6,1327.0 293.8,1326.8 295.1,1326.6 296.3,1326.4 297.5,1326.4 298.8,1326.2 300.0,1326.5 301.2,1326.4 302.5,1326.7 303.7,1326.5 304.9,1326.7 306.2,1326.8 307.4,1326.8 308.7,1326.6 309.9,1326.3 311.1,1326.1 312.4,1326.1 313.6,1326.1 314.8,1326.3 316.1,1326.4 317.3,1326.5 318.5,1326.5 319.8,1326.6 321.0,1326.7 322.2,1326.7 323.5,1326.7 324.7,1326.7 325.9,1326.6 327.2,1326.4 328.4,1326.3 329.6,1326.3 330.9,1326.5 332.1,1326.4 333.3,1326.5 334.6,1326.6 335.8,1326.4 337.1,1326.1 338.3,1325.7 339.5,1325.9 340.8,1326.0 342.0,1326.1 343.2,1326.2 344.5,1326.2 345.7,1326.2 346.9,1326.3 348.2,1326.4 349.4,1326.6 350.6,1326.3 351.9,1326.3 353.1,1326.1 354.3,1326.3 355.6,1326.3 356.8,1326.3 358.0,1326.1 359.3,1326.0 360.5,1325.9 361.7,1326.3 363.0,1326.3 364.2,1326.1 365.5,1325.8 366.7,1325.8 367.9,1325.7 369.2,1325.8 370.4,1325.7 371.6,1325.8 372.9,1325.6 374.1,1325.6 375.3,1325.5 376.6,1325.8 377.8,1326.0 379.0,1326.2 380.3,1325.9 381.5,1325.8 382.7,1325.9 384.0,1326.1 385.2,1326.2 386.4,1326.2 387.7,1326.0 388.9,1325.8 390.1,1325.8 391.4,1325.7 392.6,1325.9 393.9,1325.8 395.1,1325.8 396.3,1325.7 397.6,1325.5 398.8,1325.8 400.0,1325.7 401.3,1325.7 402.5,1325.4 403.7,1325.4 405.0,1325.3 406.2,1325.2 407.4,1325.5 408.7,1325.1 409.9,1325.3 411.1,1324.6 412.4,1324.6 413.6,1324.3 414.8,1324.6 416.1,1325.1 417.3,1325.2 418.5,1325.1 419.8,1324.5 421.0,1324.5 422.3,1324.8 423.5,1325.1 424.7,1325.0 426.0,1325.0 427.2,1325.0 428.4,1324.8 429.7,1324.3 430.9,1324.3 432.1,1324.4 433.4,1324.5 434.6,1324.4 435.8,1324.1 437.1,1323.7 438.3,1323.6 439.5,1323.3 440.8,1323.8 442.0,1323.4 443.2,1324.0 444.5,1323.4 445.7,1323.4 446.9,1322.9 448.2,1323.2 449.4,1323.6 450.7,1323.4 451.9,1322.9 453.1,1322.4 454.4,1322.4 455.6,1321.9 456.8,1321.3 458.1,1320.4 459.3,1320.0 460.5,1319.5 461.8,1319.0 463.0,1318.5 464.2,1318.3 465.5,1317.4 466.7,1316.9 467.9,1315.6 469.2,1315.3 470.4,1314.4 471.6,1314.7 472.9,1314.0 474.1,1312.8 475.4,1311.6 476.6,1310.3 477.8,1310.1 479.1,1308.5 480.3,1308.3 481.5,1307.2 482.8,1307.5 484.0,1307.5 485.2,1306.9 486.5,1306.2 487.7,1304.2 488.9,1303.7 490.2,1302.0 491.4,1301.3 492.6,1299.9 493.9,1300.1 495.1,1299.3 496.3,1299.6 497.6,1298.3 498.8,1298.2 500.0,1298.4 501.3,1297.7 502.5,1297.1 503.8,1295.7 505.0,1294.6 506.2,1294.6 507.5,1293.5 508.7,1294.6 509.9,1293.9 511.2,1293.6 512.4,1292.8 513.6,1292.3 514.9,1292.3 516.1,1292.5 517.3,1291.4 518.6,1289.8 519.8,1286.8 521.0,1286.4 522.3,1286.4 523.5,1286.9 524.7,1286.5 526.0,1284.5 527.2,1283.2 528.4,1281.9 529.7,1281.3 530.9,1281.6 532.2,1281.5 533.4,1281.6 534.6,1280.7 535.9,1279.1 537.1,1278.2 538.3,1276.9 539.6,1276.7 540.8,1276.6 542.0,1276.2 543.3,1276.3 544.5,1277.1 545.7,1276.8 547.0,1275.2 548.2,1272.9 549.4,1273.0 550.7,1272.5 551.9,1272.2 553.1,1272.1 554.4,1272.5 555.6,1272.2 556.8,1272.6 558.1,1271.5 559.3,1271.1 560.6,1270.1 561.8,1269.6 563.0,1269.5 564.3,1267.0 565.5,1267.9 566.7,1266.0 568.0,1265.2 569.2,1264.5 570.4,1264.5 571.7,1265.3 572.9,1263.8 574.1,1263.5 575.4,1261.5 576.6,1259.7 577.8,1258.8 579.1,1258.7 580.3,1259.5 581.5,1258.9 582.8,1259.7 584.0,1259.9 585.2,1258.8 586.5,1256.9 587.7,1254.5 589.0,1254.3 590.2,1254.3 591.4,1254.6 592.7,1254.3 593.9,1254.1 595.1,1252.4 596.4,1250.8 597.6,1249.5 598.8,1250.7 600.1,1249.6 601.3,1249.5 602.5,1248.2 603.8,1249.3 605.0,1248.9 606.2,1248.7 607.5,1248.1 608.7,1248.1 609.9,1245.8 611.2,1243.9 612.4,1243.4 613.6,1243.0 614.9,1242.7 616.1,1240.4 617.4,1240.8 618.6,1239.5 619.8,1239.3 621.1,1238.4 622.3,1239.2 623.5,1238.4 624.8,1236.0 626.0,1233.9 627.2,1232.4 628.5,1233.5 629.7,1232.5 630.9,1231.1 632.2,1230.2 633.4,1228.4 634.6,1227.1 635.9,1226.8 637.1,1226.7 638.3,1228.3 639.6,1226.8 640.8,1226.6 642.0,1225.7 643.3,1224.9 644.5,1224.6 645.8,1222.7 647.0,1221.9 648.2,1220.8 649.5,1221.6 650.7,1219.0 651.9,1217.7 653.2,1215.6 654.4,1216.9 655.6,1217.4 656.9,1217.7 658.1,1218.1 659.3,1217.9 660.6,1218.0 661.8,1217.1 663.0,1214.8 664.3,1215.3 665.5,1215.6 666.7,1217.4 668.0,1216.6 669.2,1215.4 670.4,1212.4 671.7,1210.0 672.9,1207.2 674.2,1208.3 675.4,1209.3 676.6,1211.3 677.9,1210.0 679.1,1207.1 680.3,1203.8 681.6,1202.8 682.8,1203.5 684.0,1205.0 685.3,1206.3 686.5,1204.9 687.7,1202.3 689.0,1202.1 690.2,1201.6 691.4,1203.0 692.7,1201.0 693.9,1201.6 695.1,1201.9 696.4,1199.1 697.6,1198.8 698.8,1197.4 700.1,1199.9 701.3,1196.8 702.6,1195.5 703.8,1193.1 705.0,1194.5 706.3,1195.5 707.5,1195.5 708.7,1195.2 710.0,1192.6 711.2,1192.8 712.4,1192.7 713.7,1194.8 714.9,1192.0 716.1,1191.0 717.4,1186.4 718.6,1186.7 719.8,1185.3 721.1,1185.7 722.3,1188.0" stroke="#4454f6"/>
<polyline points="104.9,1376.8 106.1,1375.6 107.4,1375.1 108.6,1376.0 109.8,1377.1 111.1,1377.2 112.3,1376.0 113.6,1375.2 114.8,1375.6 116.0,1376.2 117.3,1376.5 118.5,1374.5 119.7,1375.1 121.0,1374.7 122.2,1375.9 123.4,1374.5 124.7,1372.5 125.9,1371.9 127.1,1373.0 128.4,1373.5 129.6,1373.7 130.8,1371.5 132.1,1371.8 133.3,1371.0 134.5,1372.2 135.8,1372.0 137.0,1371.8 138.2,1371.5 139.5,1371.2 140.7,1371.6 142.0,1370.5 143.2,1369.9 144.4,1368.3 145.7,1368.9 146.9,1369.2 148.1,1371.9 149.4,1372.5 150.6,1371.8 151.8,1371.0 153.1,1370.3 154.3,1371.3 155.5,1370.1 156.8,1368.6 158.0,1367.2 159.2,1366.7 160.5,1366.6 161.7,1366.3 162.9,1366.6 164.2,1366.3 165.4,1366.3 166.7,1366.1 167.9,1366.5 169.1,1367.2 170.4,1367.5 171.6,1367.6 172.8,1368.1 174.1,1368.0 175.3,1367.9 176.5,1366.8 177.8,1366.1 179.0,1366.4 180.2,1365.4 181.5,1364.2 182.7,1362.7 183.9,1362.6 185.2,1363.5 186.4,1363.6 187.6,1364.4 188.9,1363.7 190.1,1363.1 191.3,1362.3 192.6,1362.3 193.8,1362.6 195.1,1363.0 196.3,1363.9 197.5,1363.7 198.8,1362.7 200.0,1361.2 201.2,1360.7 202.5,1361.8 203.7,1362.2 204.9,1361.6 206.2,1360.9 207.4,1360.4 208.6,1361.4 209.9,1360.4 211.1,1359.3 212.3,1357.9 213.6,1358.4 214.8,1358.3 216.0,1358.4 217.3,1357.9 218.5,1358.0 219.7,1357.9 221.0,1357.3 222.2,1357.1 223.5,1356.5 224.7,1356.0 225.9,1355.4 227.2,1355.1 228.4,1354.5 229.6,1354.2 230.9,1353.5 232.1,1352.5 233.3,1351.8 234.6,1352.3 235.8,1352.4 237.0,1352.0 238.3,1351.1 239.5,1350.1 240.7,1348.3 242.0,1347.2 243.2,1346.9 244.4,1346.6 245.7,1346.2 246.9,1344.7 248.1,1344.0 249.4,1342.9 250.6,1342.8 251.9,1341.6 253.1,1340.2 254.3,1339.2 255.6,1338.8 256.8,1338.7 258.0,1337.6 259.3,1336.0 260.5,1334.8 261.7,1333.3 263.0,1333.2 264.2,1332.6 265.4,1332.3 266.7,1331.8 267.9,1330.8 269.1,1330.7 270.4,1330.3 271.6,1330.1 272.8,1329.5 274.1,1329.0 275.3,1328.6 276.5,1328.5 277.8,1328.3 279.0,1328.1 280.3,1328.2 281.5,1328.1 282.7,1328.1 284.0,1327.3 285.2,1327.2 286.4,1326.9 287.7,1327.1 288.9,1326.8 290.1,1326.6 291.4,1326.7 292.6,1327.0 293.8,1327.1 295.1,1327.0 296.3,1326.9 297.5,1326.8 298.8,1326.9 300.0,1327.0 301.2,1327.3 302.5,1327.2 303.7,1327.1 304.9,1326.8 306.2,1326.9 307.4,1326.6 308.7,1326.7 309.9,1326.5 311.1,1326.7 312.4,1326.6 313.6,1326.5 314.8,1326.5 316.1,1326.6 317.3,1326.8 318.5,1326.7 319.8,1326.6 321.0,1326.5 322.2,1326.6 323.5,1326.5 324.7,1326.5 325.9,1326.5 327.2,1326.5 328.4,1326.3 329.6,1326.4 330.9,1326.6 332.1,1326.8 333.3,1326.9 334.6,1326.6 335.8,1326.6 337.1,1326.6 338.3,1326.6 339.5,1326.3 340.8,1326.2 342.0,1326.3 343.2,1326.1 344.5,1326.0 345.7,1326.1 346.9,1326.2 348.2,1326.2 349.4,1325.9 350.6,1325.9 351.9,1325.6 353.1,1326.0 354.3,1325.7 355.6,1325.9 356.8,1325.7 358.0,1325.9 359.3,1325.8 360.5,1325.9 361.7,1326.1 363.0,1326.3 364.2,1326.3 365.5,1326.4 366.7,1326.3 367.9,1326.2 369.2,1325.9 370.4,1325.9 371.6,1326.1 372.9,1325.8 374.1,1325.8 375.3,1325.7 376.6,1325.9 377.8,1326.2 379.0,1325.9 380.3,1326.1 381.5,1325.9 382.7,1326.1 384.0,1326.0 385.2,1325.8 386.4,1325.8 387.7,1325.6 388.9,1325.8 390.1,1325.9 391.4,1325.9 392.6,1325.8 393.9,1325.8 395.1,1325.9 396.3,1326.0 397.6,1325.6 398.8,1325.5 400.0,1325.4 401.3,1325.6 402.5,1325.5 403.7,1325.3 405.0,1325.1 406.2,1324.8 407.4,1325.1 408.7,1325.1 409.9,1325.3 411.1,1325.4 412.4,1325.1 413.6,1325.0 414.8,1324.4 416.1,1324.7 417.3,1324.8 418.5,1325.2 419.8,1325.2 421.0,1325.2 422.3,1325.3 423.5,1325.0 424.7,1324.7 426.0,1324.4 427.2,1324.2 428.4,1324.4 429.7,1324.3 430.9,1324.7 432.1,1324.7 433.4,1324.8 434.6,1324.4 435.8,1324.6 437.1,1324.4 438.3,1324.2 439.5,1323.8 440.8,1324.2 442.0,1324.3 443.2,1324.0 444.5,1323.1 445.7,1323.0 446.9,1323.3 448.2,1323.4 449.4,1322.8 450.7,1322.4 451.9,1322.3 453.1,1322.4 454.4,1321.9 455.6,1321.8 456.8,1321.6 458.1,1321.6 459.3,1321.5 460.5,1320.9 461.8,1320.1 463.0,1319.5 464.2,1319.1 465.5,1319.2 466.7,1318.5 467.9,1318.0 469.2,1317.5 470.4,1316.9 471.6,1316.3 472.9,1315.2 474.1,1315.7 475.4,1315.4 476.6,1315.0 477.8,1313.9 479.1,1312.9 480.3,1312.0 481.5,1310.5 482.8,1310.0 484.0,1309.8 485.2,1309.9 486.5,1309.7 487.7,1309.6 488.9,1308.5 490.2,1308.5 491.4,1307.7 492.6,1307.1 493.9,1306.2 495.1,1305.8 496.3,1306.1 497.6,1304.8 498.8,1304.7 500.0,1304.1 501.3,1304.2 502.5,1302.7 503.8,1302.2 505.0,1301.8 506.2,1302.1 507.5,1301.9 508.7,1301.8 509.9,1301.6 511.2,1301.0 512.4,1301.0 513.6,1299.8 514.9,1299.3 516.1,1297.8 517.3,1296.7 518.6,1297.2 519.8,1296.9 521.0,1297.3 522.3,1295.6 523.5,1295.3 524.7,1293.8 526.0,1293.7 527.2,1292.8 528.4,1291.7 529.7,1290.1 530.9,1288.5 532.2,1288.5 533.4,1288.0 534.6,1288.7 535.9,1288.8 537.1,1289.1 538.3,1287.8 539.6,1287.8 540.8,1285.9 542.0,1285.3 543.3,1285.7 544.5,1285.2 545.7,1286.0 547.0,1284.2 548.2,1284.1 549.4,1282.3 550.7,1282.0 551.9,1281.3 553.1,1281.6 554.4,1281.9 555.6,1282.1 556.8,1280.4 558.1,1278.9 559.3,1277.5 560.6,1279.0 561.8,1279.6 563.0,1279.5 564.3,1278.0 565.5,1276.1 566.7,1275.4 568.0,1274.8 569.2,1275.3 570.4,1275.9 571.7,1275.8 572.9,1275.3 574.1,1275.2 575.4,1275.0 576.6,1273.6 577.8,1271.5 579.1,1271.1 580.3,1271.1 581.5,1270.6 582.8,1268.8 584.0,1268.8 585.2,1269.7 586.5,1270.0 587.7,1269.1 589.0,1267.7 590.2,1267.2 591.4,1265.9 592.7,1266.6 593.9,1266.8 595.1,1268.4 596.4,1267.1 597.6,1266.4 598.8,1263.8 600.1,1263.7 601.3,1262.8 602.5,1264.0 603.8,1263.3 605.0,1263.5 606.2,1262.1 607.5,1263.1 608.7,1263.2 609.9,1262.1 611.2,1258.6 612.4,1258.0 613.6,1258.6 614.9,1259.8 616.1,1258.8 617.4,1257.6 618.6,1258.2 619.8,1256.9 621.1,1255.6 622.3,1253.7 623.5,1253.7 624.8,1252.9 626.0,1253.2 627.2,1251.3 628.5,1251.6 629.7,1250.0 630.9,1249.7 632.2,1247.8 633.4,1246.4 634.6,1244.3 635.9,1243.2 637.1,1241.8 638.3,1241.8 639.6,1242.7 640.8,1242.8 642.0,1242.5 643.3,1242.4 644.5,1242.6 645.8,1241.9 647.0,1240.1 648.2,1239.0 649.5,1240.1 650.7,1240.1 651.9,1237.7 653.2,1235.9 654.4,1233.8 655.6,1234.8 656.9,1234.9 658.1,1236.2 659.3,1236.1 660.6,1235.1 661.8,1234.8 663.0,1236.3 664.3,1235.2 665.5,1234.6 666.7,1232.3 668.0,1233.4 669.2,1233.2 670.4,1232.5 671.7,1232.1 672.9,1232.5 674.2,1232.9 675.4,1231.8 676.6,1231.4 677.9,1230.5 679.1,1229.9 680.3,1228.2 681.6,1225.5 682.8,1225.2 684.0,1224.3 685.3,1226.4 686.5,1226.8 687.7,1226.8 689.0,1224.1 690.2,1222.6 691.4,1220.1 692.7,1222.3 693.9,1223.2 695.1,1222.7 696.4,1220.0 697.6,1216.4 698.8,1218.0 700.1,1218.5 701.3,1218.5 702.6,1216.4 703.8,1215.8 705.0,1216.7 706.3,1218.1 707.5,1217.2 708.7,1214.2 710.0,1212.1 711.2,1212.8 712.4,1213.6 713.7,1214.1 714.9,1213.0 716.1,1213.8 717.4,1213.1 718.6,1212.7 719.8,1210.8 721.1,1208.5 722.3,1210.3" stroke="#6f7dff"/>
<polyline points="722.3,964.4 721.1,961.1 719.8,965.5 718.6,968.1 717.4,973.0 716.1,970.9 714.9,977.3 713.7,975.6 712.4,978.2 711.2,974.8 710.0,978.2 708.7,980.7 707.5,981.4 706.3,983.2 705.0,983.9 703.8,984.9 702.6,985.5 701.3,986.8 700.1,987.6 698.8,989.8 697.6,989.9 696.4,991.6 695.1,990.1 693.9,989.2 692.7,988.8 691.4,991.8 690.2,996.8 689.0,998.3 687.7,997.2 686.5,997.7 685.3,1000.9 684.0,1005.5 682.8,1009.2 681.6,1010.0 680.3,1010.2 679.1,1008.7 677.9,1009.0 676.6,1008.6 675.4,1011.5 674.2,1017.9 672.9,1025.3 671.7,1025.7 670.4,1026.0 669.2,1023.7 668.0,1025.3 666.7,1027.4 665.5,1030.4 664.3,1034.8 663.0,1033.2 661.8,1035.1 660.6,1033.1 659.3,1038.0 658.1,1038.7 656.9,1040.4 655.6,1041.5 654.4,1044.8 653.2,1043.7 651.9,1045.3 650.7,1044.8 649.5,1050.6 648.2,1053.3 647.0,1053.9 645.8,1054.9 644.5,1054.9 643.3,1062.6 642.0,1064.6 640.8,1065.6 639.6,1063.3 638.3,1065.8 637.1,1067.1 635.9,1069.0 634.6,1069.7 633.4,1071.8 632.2,1072.5 630.9,1077.3 629.7,1080.3 628.5,1084.7 627.2,1087.5 626.0,1089.4 624.8,1092.7 623.5,1092.2 622.3,1098.3 621.1,1099.1 619.8,1101.0 618.6,1099.1 617.4,1100.3 616.1,1102.9 614.9,1106.2 613.6,1105.0 612.4,1106.3 611.2,1107.0 609.9,1108.4 608.7,1112.0 607.5,1116.6 606.2,1122.5 605.0,1122.3 603.8,1122.7 602.5,1122.9 601.3,1124.1 600.1,1126.1 598.8,1127.3 597.6,1130.6 596.4,1129.0 595.1,1130.3 593.9,1126.9 592.7,1128.1 591.4,1130.2 590.2,1134.0 589.0,1136.3 587.7,1138.4 586.5,1142.1 585.2,1142.1 584.0,1140.3 582.8,1140.2 581.5,1143.1 580.3,1146.7 579.1,1145.8 577.8,1144.8 576.6,1146.2 575.4,1148.7 574.1,1151.7 572.9,1151.0 571.7,1150.2 570.4,1148.8 569.2,1150.0 568.0,1152.8 566.7,1154.0 565.5,1153.5 564.3,1153.2 563.0,1154.1 561.8,1154.9 560.6,1153.8 559.3,1154.4 558.1,1154.7 556.8,1156.0 555.6,1157.8 554.4,1157.9 553.1,1158.4 551.9,1156.3 550.7,1159.1 549.4,1160.5 548.2,1161.8 547.0,1162.9 545.7,1162.6 544.5,1164.0 543.3,1162.8 542.0,1163.3 540.8,1165.9 539.6,1165.7 538.3,1165.7 537.1,1162.1 535.9,1160.7 534.6,1160.8 533.4,1161.3 532.2,1166.3 530.9,1166.5 529.7,1166.6 528.4,1163.0 527.2,1163.7 526.0,1165.8 524.7,1167.7 523.5,1168.3 522.3,1167.7 521.0,1166.9 519.8,1167.4 518.6,1169.8 517.3,1168.7 516.1,1170.0 514.9,1172.1 513.6,1173.0 512.4,1171.1 511.2,1168.0 509.9,1168.9 508.7,1170.0 507.5,1171.5 506.2,1172.9 505.0,1175.2 503.8,1175.4 502.5,1176.9 501.3,1175.5 500.0,1173.8 498.8,1173.9 497.6,1173.9 496.3,1178.0 495.1,1178.9 493.9,1179.2 492.6,1175.9 491.4,1173.9 490.2,1173.7 488.9,1177.2 487.7,1179.3 486.5,1184.0 485.2,1182.8 484.0,1182.4 482.8,1180.3 481.5,1181.7 480.3,1182.0 479.1,1181.6 477.8,1181.0 476.6,1182.8 475.3,1184.2 474.1,1185.2 472.9,1185.2 471.6,1185.7 470.4,1187.1 469.2,1190.4 467.9,1192.8 466.7,1193.8 465.5,1194.1 464.2,1195.1 463.0,1197.7 461.8,1197.3 460.5,1198.5 459.3,1199.0 458.1,1201.0 456.8,1201.9 455.6,1203.1 454.4,1203.9 453.1,1205.0 451.9,1205.7 450.7,1207.5 449.4,1210.1 448.2,1210.9 446.9,1211.4 445.7,1211.8 444.5,1211.3 443.2,1212.1 442.0,1212.9 440.8,1215.3 439.5,1216.0 438.3,1215.5 437.1,1216.4 435.8,1216.9 434.6,1218.9 433.4,1219.0 432.1,1219.2 430.9,1219.0 429.7,1218.4 428.4,1218.6 427.2,1219.1 426.0,1222.7 424.7,1223.2 423.5,1221.9 422.3,1221.7 421.0,1222.9 419.8,1224.5 418.5,1225.1 417.3,1226.4 416.1,1226.1 414.8,1224.8 413.6,1224.9 412.4,1225.5 411.1,1226.8 409.9,1229.0 408.7,1229.4 407.4,1230.1 406.2,1229.0 405.0,1229.7 403.7,1229.3 402.5,1229.8 401.3,1232.0 400.0,1232.4 398.8,1231.2 397.6,1231.8 396.3,1234.1 395.1,1236.5 393.9,1237.4 392.6,1237.1 391.4,1238.2 390.1,1238.1 388.9,1239.1 387.7,1240.0 386.4,1240.6 385.2,1242.9 384.0,1244.3 382.7,1246.2 381.5,1247.5 380.3,1249.4 379.0,1250.9 377.8,1251.3 376.6,1250.5 375.3,1251.1 374.1,1249.3 372.9,1251.5 371.6,1252.9 370.4,1254.5 369.2,1255.9 367.9,1255.2 366.7,1260.7 365.5,1262.3 364.2,1264.5 363.0,1262.8 361.7,1263.8 360.5,1267.3 359.3,1270.5 358.0,1272.4 356.8,1273.8 355.6,1275.3 354.3,1278.5 353.1,1280.4 351.9,1282.4 350.6,1282.4 349.4,1284.9 348.2,1287.7 346.9,1292.4 345.7,1296.0 344.5,1300.0 343.2,1301.9 342.0,1303.0 340.8,1304.7 339.5,1308.7 338.3,1312.6 337.1,1316.2 335.8,1319.1 334.6,1321.8 333.3,1323.8 332.1,1324.4 330.9,1325.2 329.6,1325.6 328.4,1326.2 327.2,1326.2 325.9,1326.5 324.7,1326.4 323.5,1326.6 322.2,1326.6 321.0,1327.2 319.8,1327.1 318.5,1327.5 317.3,1327.5 316.1,1327.9 314.8,1327.3 313.6,1327.2 312.4,1327.2 311.1,1327.5 309.9,1327.2 308.7,1327.2 307.4,1327.6 306.2,1328.3 304.9,1328.3 303.7,1327.9 302.5,1327.8 301.2,1327.9 300.0,1328.5 298.8,1328.8 297.5,1328.7 296.3,1328.5 295.1,1328.3 293.8,1328.8 292.6,1328.9 291.4,1329.0 290.1,1328.5 288.9,1328.5 287.7,1328.7 286.4,1329.0 285.2,1329.3 284.0,1329.4 282.7,1329.7 281.5,1329.7 280.3,1329.3 279.0,1329.2 277.8,1329.1 276.5,1329.8 275.3,1330.0 274.1,1330.5 272.8,1330.6 271.6,1330.4 270.4,1330.2 269.1,1330.8 267.9,1331.0 266.7,1331.3 265.4,1330.3 264.2,1330.8 263.0,1331.0 261.7,1331.2 260.5,1330.9 259.3,1330.6 258.0,1331.3 256.8,1331.8 255.6,1332.1 254.3,1332.4 253.1,1332.2 251.9,1332.2 250.6,1331.9 249.4,1332.5 248.1,1333.0 246.9,1333.3 245.7,1332.9 244.4,1332.8 243.2,1333.0 242.0,1333.7 240.7,1334.4 239.5,1334.6 238.3,1334.6 237.0,1334.4 236.4,1412.0 235.2,1414.1 233.9,1416.9 232.7,1417.2 231.5,1417.0 230.2,1416.0 229.0,1417.0 227.8,1418.8 226.5,1420.2 225.3,1421.4 224.1,1423.1 222.8,1424.0 221.6,1425.2 220.4,1426.6 219.1,1428.3 217.9,1429.5 216.7,1429.0 215.4,1430.3 214.2,1430.6 213.0,1432.0 211.7,1432.2 210.5,1432.1 209.3,1432.0 208.0,1432.7 206.8,1433.0 205.5,1435.4 204.3,1435.9 203.1,1436.6 201.8,1435.4 200.6,1435.2 199.4,1438.0 198.1,1438.2 196.9,1440.8 195.7,1439.4 194.4,1441.1 193.2,1440.2 192.0,1442.9 190.7,1444.1 189.5,1447.7 188.3,1447.2 187.0,1447.0 185.8,1445.4 184.6,1445.3 183.3,1446.1 182.1,1447.1 180.9,1448.4 179.6,1450.4 178.4,1450.3 177.1,1451.3 175.9,1451.1 174.7,1452.9 173.4,1454.6 172.2,1456.7 171.0,1457.6 169.7,1456.9 168.5,1458.6 167.3,1458.9 166.0,1456.5 164.8,1455.0 163.6,1456.0 162.3,1460.2 161.1,1461.3 159.9,1461.7 158.6,1462.7 157.4,1464.3 156.2,1463.8 154.9,1464.5 153.7,1462.8 152.4,1464.7 151.2,1464.5 150.0,1466.4 148.7,1463.9 147.5,1464.5 146.3,1463.7 145.0,1468.0 143.8,1471.8 142.6,1474.4 141.3,1474.5 140.1,1473.3 138.9,1474.3 137.6,1476.5 136.4,1478.9 135.2,1479.5 133.9,1478.6 132.7,1477.2 131.5,1476.6 130.2,1478.3 129.0,1479.6 127.8,1481.2 126.5,1481.2 125.3,1481.8 124.0,1481.8 122.8,1483.2 121.6,1484.4 120.3,1484.2 119.1,1483.3 117.9,1486.5 116.6,1488.5 115.4,1490.4 114.2,1487.6 112.9,1491.4 111.7,1494.7 110.5,1497.0 109.2,1495.1 108.0,1495.2 106.8,1494.0 105.5,1493.6" stroke="#3c0607"/>
<polyline points="722.3,1016.5 721.1,1018.6 719.8,1024.6 718.6,1028.8 717.4,1036.3 716.1,1032.1 714.9,1031.2 713.7,1028.0 712.4,1032.5 711.2,1034.5 710.0,1036.6 708.7,1035.4 707.5,1035.8 706.3,1035.1 705.0,1037.2 703.8,1038.6 702.6,1042.4 701.3,1041.3 700.1,1043.3 698.8,1045.4 697.6,1049.2 696.4,1051.3 695.1,1051.1 693.9,1051.7 692.7,1053.6 691.4,1055.3 690.2,1055.4 689.0,1050.6 687.7,1051.0 686.5,1050.1 685.3,1053.6 684.0,1052.4 682.8,1057.8 681.6,1061.6 680.3,1065.3 679.1,1065.1 677.9,1064.0 676.6,1064.2 675.4,1066.8 674.2,1067.8 672.9,1070.7 671.7,1067.0 670.4,1068.9 669.2,1070.1 668.0,1071.7 666.7,1075.3 665.5,1073.3 664.3,1076.8 663.0,1076.4 661.8,1080.9 660.6,1082.8 659.3,1083.1 658.1,1084.9 656.9,1085.8 655.6,1086.6 654.4,1086.9 653.2,1086.6 651.9,1090.5 650.7,1091.8 649.5,1094.1 648.2,1093.5 647.0,1092.9 645.8,1094.4 644.5,1098.2 643.3,1099.7 642.0,1103.4 640.8,1101.7 639.6,1105.2 638.3,1104.2 637.1,1110.8 635.9,1111.3 634.6,1114.6 633.4,1110.5 632.2,1110.8 630.9,1110.1 629.7,1114.0 628.5,1117.5 627.2,1122.1 626.0,1123.5 624.8,1124.9 623.5,1124.5 622.3,1124.0 621.1,1127.0 619.8,1129.0 618.6,1131.6 617.4,1132.2 616.1,1136.3 614.9,1139.4 613.6,1141.5 612.4,1142.4 611.2,1143.1 609.9,1144.4 608.7,1144.7 607.5,1146.3 606.2,1147.4 605.0,1147.8 603.8,1148.7 602.5,1149.7 601.3,1151.1 600.1,1152.1 598.8,1154.1 597.6,1154.5 596.4,1155.0 595.1,1155.9 593.9,1156.7 592.7,1158.8 591.4,1159.3 590.2,1159.9 589.0,1163.3 587.7,1164.0 586.5,1168.1 585.2,1167.3 584.0,1172.0 582.8,1171.2 581.5,1170.9 580.3,1170.5 579.1,1170.4 577.8,1173.4 576.6,1173.1 575.4,1177.0 574.1,1176.5 572.9,1177.4 571.7,1177.0 570.4,1178.0 569.2,1179.4 568.0,1179.2 566.7,1180.1 565.5,1177.8 564.3,1179.0 563.0,1178.6 561.8,1180.1 560.6,1179.1 559.3,1178.5 558.1,1179.3 556.8,1182.3 555.6,1184.4 554.4,1185.3 553.1,1183.9 551.9,1184.6 550.7,1184.1 549.4,1185.0 548.2,1184.8 547.0,1186.6 545.7,1186.0 544.5,1187.3 543.3,1188.4 542.0,1190.9 540.8,1191.1 539.6,1190.2 538.3,1189.3 537.1,1189.8 535.9,1189.5 534.6,1189.2 533.4,1189.9 532.2,1191.2 530.9,1190.9 529.7,1189.7 528.4,1188.3 527.2,1190.4 526.0,1191.2 524.7,1192.7 523.5,1193.7 522.3,1192.8 521.0,1194.3 519.8,1194.5 518.6,1197.3 517.3,1194.4 516.1,1195.0 514.9,1192.8 513.6,1196.7 512.4,1193.9 511.2,1192.8 509.9,1191.7 508.7,1192.6 507.5,1197.0 506.2,1197.7 505.0,1198.3 503.8,1197.2 502.5,1197.5 501.3,1199.1 500.0,1200.2 498.8,1200.7 497.6,1200.1 496.3,1201.9 495.1,1202.1 493.9,1203.5 492.6,1200.9 491.4,1200.4 490.2,1201.3 488.9,1205.0 487.7,1202.5 486.5,1203.3 485.2,1200.6 484.0,1205.4 482.8,1204.1 481.5,1206.8 480.3,1206.5 479.1,1207.9 477.8,1208.2 476.6,1207.4 475.3,1208.1 474.1,1206.5 472.9,1207.4 471.6,1209.0 470.4,1212.5 469.2,1214.9 467.9,1214.6 466.7,1216.4 465.5,1216.2 464.2,1220.1 463.0,1219.3 461.8,1221.2 460.5,1221.8 459.3,1224.9 458.1,1226.6 456.8,1226.3 455.6,1227.2 454.4,1227.8 453.1,1228.9 451.9,1229.6 450.7,1232.5 449.4,1233.5 448.2,1233.3 446.9,1233.6 445.7,1235.1 444.5,1233.5 443.2,1232.2 442.0,1231.5 440.8,1234.8 439.5,1235.9 438.3,1236.0 437.1,1236.7 435.8,1237.8 434.6,1239.7 433.4,1239.9 432.1,1239.4 430.9,1240.3 429.7,1240.2 428.4,1241.0 427.2,1240.7 426.0,1241.2 424.7,1243.2 423.5,1245.2 422.3,1247.5 421.0,1246.7 419.8,1245.7 418.5,1244.3 417.3,1243.7 416.1,1245.0 414.8,1245.0 413.6,1246.7 412.4,1246.3 411.1,1248.3 409.9,1249.1 408.7,1251.0 407.4,1251.9 406.2,1254.1 405.0,1253.2 403.7,1252.6 402.5,1249.1 401.3,1250.4 400.0,1251.0 398.8,1254.7 397.6,1254.5 396.3,1256.0 395.1,1254.2 393.9,1253.9 392.6,1255.6 391.4,1258.5 390.1,1262.2 388.9,1262.3 387.7,1263.7 386.4,1263.4 385.2,1262.8 384.0,1262.8 382.7,1263.0 381.5,1264.4 380.3,1264.4 379.0,1265.1 377.8,1266.8 376.6,1267.1 375.3,1269.6 374.1,1270.4 372.9,1271.8 371.6,1272.6 370.4,1273.5 369.2,1274.5 367.9,1275.0 366.7,1275.7 365.5,1277.9 364.2,1279.5 363.0,1280.3 361.7,1281.3 360.5,1282.5 359.3,1282.8 358.0,1283.9 356.8,1285.9 355.6,1288.5 354.3,1290.9 353.1,1292.1 351.9,1292.9 350.6,1293.5 349.4,1294.9 348.2,1297.2 346.9,1300.4 345.7,1302.2 344.5,1304.3 343.2,1306.0 342.0,1309.0 340.8,1311.1 339.5,1312.8 338.3,1314.7 337.1,1317.7 335.8,1320.5 334.6,1322.6 333.3,1324.1 332.1,1324.9 330.9,1325.2 329.6,1325.8 328.4,1326.1 327.2,1326.4 325.9,1326.5 324.7,1326.5 323.5,1326.6 322.2,1327.0 321.0,1327.1 319.8,1327.2 318.5,1327.1 317.3,1327.4 316.1,1327.1 314.8,1327.2 313.6,1327.4 312.4,1327.6 311.1,1327.6 309.9,1327.3 308.7,1327.4 307.4,1327.8 306.2,1328.0 304.9,1327.8 303.7,1327.5 302.5,1327.4 301.2,1327.8 300.0,1327.7 298.8,1327.9 297.5,1328.0 296.3,1328.1 295.1,1328.2 293.8,1328.4 292.6,1328.5 291.4,1328.6 290.1,1328.8 288.9,1329.3 287.7,1329.5 286.4,1329.4 285.2,1328.9 284.0,1329.0 282.7,1329.1 281.5,1329.6 280.3,1329.6 279.0,1329.6 277.8,1329.4 276.5,1329.6 275.3,1329.7 274.1,1329.8 272.8,1330.2 271.6,1330.4 270.4,1330.9 269.1,1330.7 267.9,1330.9 266.7,1330.9 265.4,1331.1 264.2,1331.1 263.0,1331.0 261.7,1330.9 260.5,1331.3 259.3,1331.7 258.0,1331.3 256.8,1331.0 255.6,1331.1 254.3,1331.9 253.1,1332.1 251.9,1332.0 250.6,1331.2 249.4,1331.8 248.1,1331.9 246.9,1332.3 245.7,1331.7 244.4,1332.3 243.2,1332.5 242.0,1332.9 240.7,1332.5 239.5,1332.6 238.3,1332.9 237.0,1333.0 235.8,1333.5 234.6,1333.8 233.3,1400.2 232.1,1403.6 230.9,1404.0 229.6,1404.4 228.4,1403.4 227.2,1404.6 225.9,1405.2 224.7,1407.7 223.5,1408.4 222.2,1407.8 221.0,1408.4 219.7,1408.9 218.5,1410.3 217.3,1409.5 216.0,1410.3 214.8,1412.2 213.6,1414.5 212.3,1413.8 211.1,1415.4 209.9,1415.2 208.6,1418.1 207.4,1417.8 206.2,1419.2 204.9,1418.9 203.7,1418.3 202.5,1418.3 201.2,1418.8 200.0,1420.0 198.8,1420.4 197.5,1419.3 196.3,1420.9 195.1,1421.6 193.8,1422.9 192.6,1422.4 191.3,1422.6 190.1,1422.9 188.9,1425.7 187.6,1425.8 186.4,1426.2 185.2,1425.9 183.9,1424.1 182.7,1425.5 181.5,1424.4 180.2,1427.2 179.0,1428.0 177.8,1426.8 176.5,1429.0 175.3,1430.6 174.1,1432.7 172.8,1431.5 171.6,1432.2 170.4,1432.3 169.1,1434.6 167.9,1434.8 166.6,1436.9 165.4,1436.2 164.2,1436.4 162.9,1436.2 161.7,1436.2 160.5,1435.8 159.2,1437.7 158.0,1439.5 156.8,1439.4 155.5,1438.3 154.3,1437.5 153.1,1440.7 151.8,1445.5 150.6,1446.4 149.4,1443.4 148.1,1442.5 146.9,1443.1 145.7,1446.0 144.4,1446.6 143.2,1446.2 142.0,1446.6 140.7,1445.8 139.5,1447.1 138.2,1448.2 137.0,1446.9 135.8,1446.2 134.5,1446.8 133.3,1447.7 132.1,1448.3 130.8,1449.9 129.6,1451.1 128.4,1454.7 127.1,1453.1 125.9,1454.9 124.7,1454.0 123.4,1455.9 122.2,1454.9 121.0,1456.4 119.7,1458.8 118.5,1461.6 117.3,1460.4 116.0,1457.2 114.8,1456.2 113.6,1457.9 112.3,1461.1 111.1,1462.4 109.8,1465.1 108.6,1464.8 107.4,1462.3 106.1,1462.4 104.9,1461.6" stroke="#680a0b"/>
<polyline points="722.3,1071.8 721.1,1074.1 719.8,1078.0 718.6,1076.2 717.4,1075.1 716.1,1076.3 714.9,1075.6 713.7,1077.2 712.4,1080.9 711.2,1086.9 710.0,1090.0 708.7,1087.7 707.5,1085.2 706.3,1083.5 705.0,1082.5 703.8,1082.8 702.6,1087.8 701.3,1089.7 700.1,1092.3 698.8,1091.3 697.6,1092.6 696.4,1094.7 695.1,1094.5 693.9,1096.2 692.7,1097.7 691.4,1099.8 690.2,1101.8 689.0,1101.5 687.7,1100.2 686.5,1099.5 685.3,1098.4 684.0,1100.9 682.8,1105.3 681.6,1105.6 680.3,1107.3 679.1,1106.1 677.9,1114.1 676.6,1114.8 675.4,1118.1 674.2,1112.9 672.9,1115.5 671.7,1113.6 670.4,1116.9 669.2,1117.6 668.0,1119.2 666.7,1117.3 665.5,1118.9 664.3,1120.3 663.0,1122.0 661.8,1123.2 660.6,1124.7 659.3,1128.8 658.1,1129.8 656.9,1129.1 655.6,1128.1 654.4,1128.0 653.2,1130.5 651.9,1134.7 650.7,1138.0 649.5,1140.1 648.2,1139.0 647.0,1136.4 645.8,1135.0 644.5,1139.2 643.3,1142.1 642.0,1143.9 640.8,1143.6 639.6,1143.8 638.3,1148.0 637.1,1148.9 635.9,1152.1 634.6,1150.4 633.4,1149.7 632.2,1151.4 630.9,1152.9 629.7,1154.0 628.5,1153.5 627.2,1155.7 626.0,1159.6 624.8,1161.2 623.5,1162.5 622.3,1159.9 621.1,1161.4 619.8,1162.3 618.6,1168.2 617.4,1167.9 616.1,1170.0 614.9,1166.5 613.6,1169.2 612.4,1168.1 611.2,1169.9 609.9,1169.4 608.7,1172.1 607.5,1174.2 606.2,1176.5 605.0,1178.1 603.8,1181.6 602.5,1184.4 601.3,1185.5 600.1,1184.1 598.8,1184.5 597.6,1184.3 596.4,1185.5 595.1,1186.1 593.9,1186.9 592.7,1188.3 591.4,1189.2 590.2,1190.6 589.0,1191.4 587.7,1193.5 586.5,1193.1 585.2,1196.2 584.0,1195.0 582.8,1196.1 581.5,1193.1 580.3,1193.5 579.1,1193.6 577.8,1195.0 576.6,1197.5 575.4,1196.8 574.1,1197.4 572.9,1198.9 571.7,1202.7 570.4,1202.7 569.2,1201.8 568.0,1201.6 566.7,1205.0 565.5,1204.4 564.3,1203.0 563.0,1199.6 561.8,1197.6 560.6,1199.8 559.3,1201.7 558.1,1206.0 556.8,1206.3 555.6,1206.3 554.4,1205.8 553.1,1206.4 551.9,1209.1 550.7,1208.6 549.4,1208.3 548.2,1208.9 547.0,1208.7 545.7,1209.6 544.5,1209.1 543.3,1209.1 542.0,1209.3 540.8,1206.9 539.6,1209.4 538.3,1210.2 537.1,1212.9 535.9,1214.9 534.6,1213.9 533.4,1214.3 532.2,1212.7 530.9,1213.9 529.7,1213.9 528.4,1213.9 527.2,1215.7 526.0,1215.8 524.7,1215.9 523.5,1214.7 522.3,1215.6 521.0,1218.2 519.8,1219.3 518.6,1220.5 517.3,1221.0 516.1,1221.8 514.9,1220.3 513.6,1220.1 512.4,1220.9 511.2,1221.8 509.9,1223.0 508.7,1221.7 507.5,1221.9 506.2,1221.6 505.0,1221.9 503.8,1223.2 502.5,1223.1 501.3,1221.5 500.0,1222.3 498.8,1222.5 497.6,1224.9 496.3,1223.1 495.1,1222.8 493.9,1223.2 492.6,1223.3 491.4,1222.7 490.2,1222.3 488.9,1225.6 487.7,1226.6 486.5,1227.1 485.2,1227.0 484.0,1227.6 482.8,1229.2 481.5,1226.5 480.3,1226.5 479.1,1226.6 477.8,1228.4 476.6,1229.9 475.3,1231.5 474.1,1233.4 472.9,1231.6 471.6,1230.9 470.4,1230.9 469.2,1233.0 467.9,1234.6 466.7,1236.5 465.5,1237.2 464.2,1237.7 463.0,1238.3 461.8,1240.4 460.5,1241.9 459.3,1241.9 458.1,1242.4 456.8,1243.7 455.6,1244.1 454.4,1246.5 453.1,1245.7 451.9,1248.7 450.7,1246.8 449.4,1247.3 448.2,1247.4 446.9,1248.7 445.7,1249.3 444.5,1250.4 443.2,1252.8 442.0,1253.2 440.8,1253.4 439.5,1252.8 438.3,1253.4 437.1,1254.2 435.8,1254.4 434.6,1255.0 433.4,1255.4 432.1,1255.7 430.9,1256.8 429.7,1256.4 428.4,1257.5 427.2,1258.0 426.0,1258.7 424.7,1258.2 423.5,1259.4 422.3,1258.6 421.0,1259.9 419.8,1258.6 418.5,1259.0 417.3,1259.7 416.1,1260.7 414.8,1262.1 413.6,1262.0 412.4,1262.5 411.1,1263.1 409.9,1264.7 408.7,1266.2 407.4,1266.7 406.2,1265.5 405.0,1266.2 403.7,1266.1 402.5,1266.5 401.3,1267.3 400.0,1269.3 398.8,1270.1 397.6,1269.5 396.3,1270.7 395.1,1270.8 393.9,1271.2 392.6,1271.6 391.4,1274.1 390.1,1275.0 388.9,1274.7 387.7,1274.5 386.4,1275.4 385.2,1276.2 384.0,1277.7 382.7,1278.6 381.5,1279.0 380.3,1279.7 379.0,1279.5 377.8,1280.3 376.6,1281.7 375.3,1282.5 374.1,1282.7 372.9,1280.5 371.6,1281.2 370.4,1282.6 369.2,1285.7 367.9,1287.0 366.7,1287.2 365.5,1286.6 364.2,1287.9 363.0,1290.0 361.7,1291.3 360.5,1292.6 359.3,1293.8 358.0,1295.0 356.8,1295.3 355.6,1295.7 354.3,1297.1 353.1,1299.7 351.9,1301.1 350.6,1302.7 349.4,1302.8 348.2,1304.6 346.9,1306.0 345.7,1307.7 344.5,1309.8 343.2,1312.2 342.0,1313.4 340.8,1314.0 339.5,1314.6 338.3,1316.6 337.1,1319.1 335.8,1321.3 334.6,1323.4 333.3,1324.7 332.1,1325.5 330.9,1326.1 329.6,1326.5 328.4,1326.6 327.2,1326.3 325.9,1326.4 324.7,1326.5 323.5,1326.8 322.2,1327.2 321.0,1327.5 319.8,1327.4 318.5,1327.2 317.3,1327.3 316.1,1327.3 314.8,1327.3 313.6,1327.2 312.4,1327.3 311.1,1327.3 309.9,1327.5 308.7,1327.7 307.4,1328.0 306.2,1327.9 304.9,1328.0 303.7,1327.7 302.5,1327.9 301.2,1327.8 300.0,1328.2 298.8,1328.7 297.5,1328.4 296.3,1328.6 295.1,1328.4 293.8,1328.9 292.6,1328.8 291.4,1328.9 290.1,1329.2 288.9,1329.1 287.7,1329.0 286.4,1328.9 285.2,1329.0 284.0,1329.3 282.7,1329.3 281.5,1329.5 280.3,1329.2 279.0,1329.1 277.8,1328.9 276.5,1329.5 275.3,1330.1 274.1,1330.2 272.8,1329.8 271.6,1329.8 270.4,1329.9 269.1,1330.0 267.9,1330.2 266.7,1330.1 265.4,1330.1 264.2,1330.0 263.0,1330.5 261.7,1331.3 260.5,1331.2 259.3,1331.1 258.0,1330.6 256.8,1330.6 255.6,1330.4 254.3,1330.7 253.1,1331.0 251.9,1331.2 250.6,1330.9 249.4,1331.3 248.1,1331.2 246.9,1331.9 245.7,1331.6 244.4,1332.3 243.2,1332.0 242.0,1332.5 240.7,1332.3 239.5,1333.1 238.3,1333.0 237.0,1333.3 235.8,1333.0 234.6,1332.6 233.3,1332.4 232.1,1387.1 230.9,1387.4 229.6,1387.2 228.4,1388.4 227.2,1390.8 225.9,1391.1 224.7,1391.5 223.5,1391.1 222.2,1392.7 221.0,1392.5 219.7,1393.5 218.5,1394.4 217.3,1395.0 216.0,1395.5 214.8,1395.1 213.6,1395.7 212.3,1396.6 211.1,1397.0 209.9,1397.7 208.6,1396.7 207.4,1398.1 206.2,1399.0 204.9,1400.3 203.7,1399.8 202.5,1401.8 201.2,1403.0 200.0,1404.4 198.8,1403.3 197.5,1402.6 196.3,1402.5 195.1,1404.5 193.8,1405.8 192.6,1405.7 191.3,1406.7 190.1,1406.4 188.9,1408.8 187.6,1407.7 186.4,1408.5 185.2,1407.1 183.9,1407.0 182.7,1406.3 181.5,1407.3 180.2,1407.8 179.0,1408.4 177.8,1408.3 176.5,1408.8 175.3,1412.4 174.1,1413.3 172.8,1416.1 171.6,1416.2 170.4,1418.6 169.1,1417.7 167.9,1415.3 166.6,1413.8 165.4,1412.7 164.2,1413.9 162.9,1417.2 161.7,1419.8 160.5,1420.5 159.2,1418.7 158.0,1417.9 156.8,1419.5 155.5,1420.4 154.3,1420.7 153.1,1420.3 151.8,1421.6 150.6,1422.3 149.4,1422.1 148.1,1421.0 146.9,1423.6 145.7,1425.1 144.4,1426.0 143.2,1423.3 142.0,1424.7 140.7,1427.1 139.5,1429.8 138.2,1430.0 137.0,1430.0 135.8,1430.5 134.5,1430.3 133.3,1428.9 132.1,1428.7 130.8,1430.1 129.6,1429.7 128.4,1430.5 127.1,1430.6 125.9,1432.8 124.7,1432.3 123.4,1431.5 122.2,1433.4 121.0,1434.1 119.7,1435.9 118.5,1436.4 117.3,1434.8 116.0,1434.5 114.8,1432.9 113.6,1435.1 112.3,1436.2 111.1,1437.5 109.8,1435.9 108.6,1435.6 107.4,1435.6 106.1,1437.7 104.9,1438.6" stroke="#980c0d"/>
<polyline points="722.3,1119.8 721.1,1120.6 719.8,1118.1 718.6,1114.3 717.4,1117.7 716.1,1121.3 714.9,1124.5 713.7,1123.2 712.4,1121.9 711.2,1121.9 710.0,1123.8 708.7,1126.5 707.5,1129.2 706.3,1128.2 705.0,1127.1 703.8,1126.4 702.6,1128.2 701.3,1129.1 700.1,1130.9 698.8,1128.8 697.6,1128.4 696.4,1128.3 695.1,1131.8 693.9,1137.6 692.7,1137.3 691.4,1139.6 690.2,1138.7 689.0,1141.0 687.7,1138.2 686.5,1137.9 685.3,1140.0 684.0,1143.5 682.8,1143.6 681.6,1143.5 680.3,1142.9 679.1,1146.5 677.9,1146.1 676.6,1149.0 675.4,1148.2 674.2,1150.2 672.9,1148.7 671.7,1149.1 670.4,1152.3 669.2,1153.2 668.0,1153.8 666.7,1152.6 665.5,1154.7 664.3,1155.1 663.0,1154.9 661.8,1155.1 660.6,1156.0 659.3,1159.1 658.1,1160.2 656.9,1162.6 655.6,1165.1 654.4,1166.3 653.2,1166.9 651.9,1166.5 650.7,1168.9 649.5,1168.8 648.2,1169.3 647.0,1167.6 645.8,1170.9 644.5,1169.8 643.3,1172.4 642.0,1170.9 640.8,1173.5 639.6,1173.8 638.3,1173.9 637.1,1173.6 635.9,1175.5 634.6,1177.2 633.4,1179.6 632.2,1181.9 630.9,1183.6 629.7,1183.1 628.5,1179.9 627.2,1178.5 626.0,1181.1 624.8,1185.4 623.5,1190.3 622.3,1191.0 621.1,1192.5 619.8,1189.4 618.6,1189.8 617.4,1187.8 616.1,1190.0 614.9,1190.6 613.6,1191.8 612.4,1191.7 611.2,1191.5 609.9,1191.4 608.7,1194.8 607.5,1197.5 606.2,1200.3 605.0,1199.5 603.8,1201.2 602.5,1201.7 601.3,1203.6 600.1,1203.8 598.8,1204.9 597.6,1206.2 596.4,1206.7 595.1,1208.0 593.9,1209.4 592.7,1208.5 591.4,1210.4 590.2,1209.5 589.0,1211.8 587.7,1210.0 586.5,1210.7 585.2,1211.3 584.0,1211.8 582.8,1213.2 581.5,1214.4 580.3,1216.1 579.1,1216.4 577.8,1217.0 576.6,1216.6 575.4,1214.7 574.1,1214.1 572.9,1216.9 571.7,1221.0 570.4,1222.6 569.2,1221.9 568.0,1222.2 566.7,1221.6 565.5,1222.7 564.3,1221.7 563.0,1222.8 561.8,1221.5 560.6,1223.1 559.3,1221.5 558.1,1223.4 556.8,1222.7 555.6,1225.1 554.4,1225.3 553.1,1226.8 551.9,1227.1 550.7,1226.6 549.4,1226.8 548.2,1226.6 547.0,1227.1 545.7,1226.9 544.5,1229.5 543.3,1231.4 542.0,1230.7 540.8,1228.7 539.6,1227.7 538.3,1228.3 537.1,1229.7 535.9,1229.1 534.6,1229.4 533.4,1229.6 532.2,1230.9 530.9,1232.3 529.7,1232.3 528.4,1231.7 527.2,1232.0 526.0,1233.4 524.7,1233.3 523.5,1233.0 522.3,1230.2 521.0,1232.1 519.8,1233.6 518.6,1236.1 517.3,1235.0 516.1,1233.1 514.9,1232.1 513.6,1233.0 512.4,1234.2 511.2,1234.6 509.9,1236.2 508.7,1236.9 507.5,1238.3 506.2,1237.2 505.0,1236.3 503.8,1236.9 502.5,1240.8 501.3,1243.0 500.0,1244.2 498.8,1242.4 497.6,1241.4 496.3,1241.3 495.1,1242.9 493.9,1243.4 492.6,1242.5 491.4,1239.4 490.2,1240.3 488.9,1241.6 487.7,1242.5 486.5,1243.7 485.2,1243.7 484.0,1245.2 482.8,1246.0 481.5,1243.6 480.3,1245.5 479.1,1246.2 477.8,1248.4 476.6,1246.4 475.3,1245.0 474.1,1246.3 472.9,1246.3 471.6,1248.2 470.4,1248.1 469.2,1249.3 467.9,1249.0 466.7,1251.2 465.5,1252.8 464.2,1254.8 463.0,1254.8 461.8,1255.7 460.5,1256.1 459.3,1257.4 458.1,1258.7 456.8,1257.6 455.6,1257.3 454.4,1259.0 453.1,1261.2 451.9,1261.8 450.7,1260.8 449.4,1260.5 448.2,1261.8 446.9,1262.8 445.7,1263.1 444.5,1264.5 443.2,1265.5 442.0,1264.4 440.8,1263.9 439.5,1262.5 438.3,1265.0 437.1,1264.5 435.8,1265.8 434.6,1266.6 433.4,1267.3 432.1,1267.9 430.9,1267.8 429.7,1269.2 428.4,1268.8 427.2,1270.5 426.0,1271.0 424.7,1272.8 423.5,1272.2 422.3,1271.4 421.0,1270.6 419.8,1271.1 418.5,1271.8 417.3,1273.0 416.1,1273.9 414.8,1275.3 413.6,1276.4 412.4,1276.7 411.1,1275.9 409.9,1276.4 408.7,1275.9 407.4,1276.7 406.2,1275.5 405.0,1276.6 403.7,1278.0 402.5,1279.0 401.3,1279.8 400.0,1279.0 398.8,1279.2 397.6,1279.1 396.3,1280.1 395.1,1281.2 393.9,1280.6 392.6,1281.8 391.4,1282.3 390.1,1284.6 388.9,1284.7 387.7,1284.5 386.4,1283.8 385.2,1283.9 384.0,1285.4 382.7,1288.4 381.5,1288.7 380.3,1288.9 379.0,1287.5 377.8,1288.0 376.6,1287.8 375.3,1288.5 374.1,1288.9 372.9,1290.7 371.6,1290.8 370.4,1292.3 369.2,1292.1 367.9,1293.2 366.7,1293.3 365.5,1293.2 364.2,1293.7 363.0,1294.8 361.7,1296.7 360.5,1298.6 359.3,1299.1 358.0,1300.3 356.8,1300.2 355.6,1301.3 354.3,1302.0 353.1,1303.1 351.9,1304.5 350.6,1305.6 349.4,1306.9 348.2,1307.9 346.9,1308.4 345.7,1309.5 344.5,1311.0 343.2,1312.3 342.0,1313.8 340.8,1314.7 339.5,1316.5 338.3,1317.8 337.1,1319.7 335.8,1321.3 334.6,1323.2 333.3,1324.6 332.1,1325.2 330.9,1325.7 329.6,1326.2 328.4,1326.5 327.2,1326.5 325.9,1326.3 324.7,1326.3 323.5,1326.5 322.2,1326.5 321.0,1326.7 319.8,1326.6 318.5,1326.5 317.3,1326.7 316.1,1326.7 314.8,1327.3 313.6,1327.6 312.4,1327.7 311.1,1327.6 309.9,1327.4 308.7,1327.5 307.4,1327.6 306.2,1327.8 304.9,1327.9 303.7,1328.1 302.5,1328.1 301.2,1328.2 300.0,1328.2 298.8,1328.3 297.5,1328.3 296.3,1328.0 295.1,1327.9 293.8,1328.1 292.6,1328.0 291.4,1328.3 290.1,1328.3 288.9,1328.4 287.7,1328.3 286.4,1328.1 285.2,1327.9 284.0,1328.1 282.7,1328.5 281.5,1329.1 280.3,1329.4 279.0,1328.9 277.8,1328.7 276.5,1328.7 275.3,1330.0 274.1,1330.7 272.8,1330.4 271.6,1329.7 270.4,1329.4 269.1,1329.5 267.9,1329.8 266.7,1330.0 265.4,1330.4 264.2,1331.0 263.0,1331.0 261.7,1330.9 260.5,1330.8 259.3,1330.7 258.0,1330.7 256.8,1330.6 255.6,1331.7 254.3,1331.8 253.1,1331.7 251.9,1330.9 250.6,1330.8 249.4,1331.1 248.1,1331.2 246.9,1331.1 245.7,1331.5 244.4,1331.6 243.2,1331.9 242.0,1331.6 240.7,1331.3 239.5,1331.7 238.3,1332.1 237.0,1332.1 235.8,1332.2 234.6,1332.0 233.3,1332.8 232.1,1332.9 230.9,1332.7 229.3,1377.0 228.1,1378.0 226.8,1377.7 225.6,1377.6 224.4,1377.9 223.1,1379.1 221.9,1380.0 220.7,1379.8 219.4,1381.6 218.2,1381.8 217.0,1382.6 215.7,1382.9 214.5,1384.0 213.3,1383.5 212.0,1382.7 210.8,1383.6 209.6,1383.8 208.3,1385.1 207.1,1384.7 205.9,1387.6 204.6,1387.5 203.4,1386.9 202.2,1386.5 200.9,1386.8 199.7,1389.2 198.4,1389.4 197.2,1390.6 196.0,1390.1 194.7,1390.2 193.5,1389.5 192.3,1389.6 191.0,1389.5 189.8,1390.2 188.6,1389.5 187.3,1390.7 186.1,1390.3 184.9,1392.8 183.6,1392.7 182.4,1394.4 181.2,1394.4 179.9,1397.9 178.7,1399.7 177.5,1398.7 176.2,1397.1 175.0,1395.1 173.8,1395.5 172.5,1395.5 171.3,1397.0 170.0,1398.5 168.8,1398.3 167.6,1398.7 166.3,1398.5 165.1,1400.1 163.9,1398.3 162.6,1398.5 161.4,1399.1 160.2,1401.0 158.9,1401.4 157.7,1400.5 156.5,1402.5 155.2,1403.5 154.0,1403.5 152.8,1401.3 151.5,1400.9 150.3,1400.3 149.1,1402.7 147.8,1403.4 146.6,1404.8 145.3,1402.8 144.1,1403.9 142.9,1405.5 141.6,1407.5 140.4,1407.0 139.2,1407.1 137.9,1408.3 136.7,1409.1 135.5,1409.0 134.2,1410.5 133.0,1411.3 131.8,1410.2 130.5,1408.1 129.3,1408.6 128.1,1409.8 126.8,1412.2 125.6,1412.3 124.4,1413.7 123.1,1413.6 121.9,1413.0 120.7,1413.8 119.4,1412.8 118.2,1414.7 116.9,1415.2 115.7,1414.2 114.5,1414.5 113.2,1415.6 112.0,1417.6 110.8,1417.6 109.5,1416.1 108.3,1416.1 107.1,1415.7 105.8,1416.8" stroke="#c80f10"/>
<polyline points="722.3,1156.1 721.1,1157.4 719.8,1161.4 718.6,1161.7 717.4,1163.2 716.1,1160.4 714.9,1161.8 713.7,1164.5 712.4,1166.1 711.2,1166.6 710.0,1164.1 708.7,1161.6 707.5,1160.3 706.3,1160.5 705.0,1161.7 703.8,1164.7 702.6,1168.9 701.3,1171.0 700.1,1171.1 698.8,1169.4 697.6,1171.1 696.4,1171.3 695.1,1172.7 693.9,1172.3 692.7,1175.2 691.4,1175.6 690.2,1176.5 689.0,1176.3 687.7,1176.2 686.5,1178.1 685.3,1178.4 684.0,1178.4 682.8,1177.6 681.6,1177.6 680.3,1180.5 679.1,1181.2 677.9,1181.4 676.6,1182.7 675.4,1183.9 674.2,1186.3 672.9,1186.4 671.7,1187.8 670.4,1189.8 669.2,1187.6 668.0,1185.1 666.7,1182.6 665.5,1186.3 664.3,1190.8 663.0,1191.9 661.8,1190.8 660.6,1189.9 659.3,1192.1 658.1,1194.5 656.9,1195.6 655.6,1193.7 654.4,1194.4 653.2,1195.0 651.9,1197.4 650.7,1196.2 649.5,1197.6 648.2,1198.3 647.0,1199.0 645.8,1196.9 644.5,1196.3 643.3,1198.5 642.0,1203.6 640.8,1205.7 639.6,1203.4 638.3,1201.7 637.1,1203.5 635.9,1205.4 634.6,1204.7 633.4,1203.0 632.2,1204.7 630.9,1204.1 629.7,1206.3 628.5,1207.7 627.2,1211.5 626.0,1211.6 624.8,1210.6 623.5,1210.7 622.3,1211.0 621.1,1214.1 619.8,1215.8 618.6,1220.1 617.4,1221.4 616.1,1222.8 614.9,1220.1 613.6,1217.7 612.4,1215.6 611.2,1216.9 609.9,1219.3 608.7,1221.1 607.5,1221.9 606.2,1221.1 605.0,1224.2 603.8,1224.9 602.5,1227.4 601.3,1225.9 600.1,1225.7 598.8,1225.6 597.6,1226.7 596.4,1227.9 595.1,1228.1 593.9,1229.2 592.7,1232.6 591.4,1233.6 590.2,1234.8 589.0,1229.5 587.7,1230.1 586.5,1229.7 585.2,1232.2 584.0,1231.8 582.8,1232.3 581.5,1234.3 580.3,1235.0 579.1,1236.0 577.8,1238.8 576.6,1240.5 575.4,1240.8 574.1,1239.3 572.9,1240.3 571.7,1239.5 570.4,1238.2 569.2,1238.3 568.0,1239.9 566.7,1241.5 565.5,1241.0 564.3,1242.2 563.0,1241.9 561.8,1241.4 560.6,1239.5 559.3,1242.2 558.1,1243.7 556.8,1243.5 555.6,1241.2 554.4,1242.4 553.1,1244.1 551.9,1244.7 550.7,1243.8 549.4,1244.5 548.2,1246.2 547.0,1248.1 545.7,1247.4 544.5,1246.3 543.3,1245.6 542.0,1245.0 540.8,1245.7 539.6,1246.1 538.3,1247.7 537.1,1249.0 535.9,1248.1 534.6,1247.5 533.4,1247.7 532.2,1248.4 530.9,1247.5 529.7,1246.4 528.4,1247.9 527.2,1251.0 526.0,1251.2 524.7,1252.7 523.5,1250.7 522.3,1253.4 521.0,1251.3 519.8,1252.1 518.6,1250.4 517.3,1251.0 516.1,1253.0 514.9,1253.7 513.6,1254.8 512.4,1255.3 511.2,1255.3 509.9,1254.6 508.7,1255.8 507.5,1255.3 506.2,1256.5 505.0,1256.3 503.8,1257.7 502.5,1257.3 501.3,1256.9 500.0,1256.7 498.8,1257.7 497.6,1258.3 496.3,1259.2 495.1,1259.7 493.9,1259.6 492.6,1260.0 491.4,1261.2 490.2,1261.9 488.9,1261.1 487.7,1259.5 486.5,1259.6 485.2,1260.8 484.0,1262.2 482.8,1262.6 481.5,1262.7 480.3,1264.0 479.1,1264.5 477.8,1264.9 476.6,1263.7 475.3,1264.0 474.1,1265.7 472.9,1266.7 471.6,1267.4 470.4,1267.5 469.2,1267.1 467.9,1267.6 466.7,1268.9 465.5,1270.9 464.2,1269.9 463.0,1268.8 461.8,1268.3 460.5,1270.9 459.3,1272.5 458.1,1274.5 456.8,1274.0 455.6,1274.3 454.4,1273.5 453.1,1273.4 451.9,1273.9 450.7,1275.2 449.4,1276.1 448.2,1275.8 446.9,1275.0 445.7,1276.2 444.5,1277.4 443.2,1278.3 442.0,1278.3 440.8,1276.9 439.5,1278.8 438.3,1278.5 437.1,1280.1 435.8,1278.9 434.6,1278.8 433.4,1279.5 432.1,1279.4 430.9,1281.0 429.7,1281.4 428.4,1282.1 427.2,1281.9 426.0,1282.3 424.7,1281.4 423.5,1280.3 422.3,1278.9 421.0,1280.0 419.8,1281.2 418.5,1283.2 417.3,1282.9 416.1,1283.2 414.8,1282.6 413.6,1283.5 412.4,1284.0 411.1,1285.8 409.9,1288.1 408.7,1288.6 407.4,1287.1 406.2,1286.3 405.0,1287.5 403.7,1287.5 402.5,1287.6 401.3,1285.8 400.0,1287.0 398.8,1287.3 397.6,1288.6 396.3,1289.6 395.1,1290.3 393.9,1291.0 392.6,1290.7 391.4,1289.8 390.1,1289.5 388.9,1289.5 387.7,1289.9 386.4,1292.4 385.2,1292.8 384.0,1295.0 382.7,1293.9 381.5,1295.6 380.3,1295.0 379.0,1295.8 377.8,1295.7 376.6,1296.5 375.3,1296.7 374.1,1296.7 372.9,1296.8 371.6,1297.9 370.4,1298.1 369.2,1298.2 367.9,1297.6 366.7,1299.8 365.5,1300.1 364.2,1301.6 363.0,1301.1 361.7,1302.4 360.5,1302.4 359.3,1302.8 358.0,1303.8 356.8,1304.6 355.6,1305.5 354.3,1306.2 353.1,1306.4 351.9,1307.7 350.6,1308.1 349.4,1310.1 348.2,1311.6 346.9,1312.6 345.7,1313.4 344.5,1314.4 343.2,1315.2 342.0,1316.2 340.8,1316.5 339.5,1317.8 338.3,1319.1 337.1,1320.8 335.8,1322.6 334.6,1323.9 333.3,1325.0 332.1,1325.4 330.9,1325.9 329.6,1325.9 328.4,1325.9 327.2,1326.3 325.9,1326.4 324.7,1326.6 323.5,1326.5 322.2,1326.7 321.0,1326.8 319.8,1327.0 318.5,1327.5 317.3,1327.6 316.1,1327.1 314.8,1327.0 313.6,1326.8 312.4,1327.3 311.1,1327.4 309.9,1327.9 308.7,1328.0 307.4,1328.0 306.2,1327.9 304.9,1327.8 303.7,1328.0 302.5,1328.4 301.2,1328.3 300.0,1328.1 298.8,1327.6 297.5,1328.0 296.3,1328.2 295.1,1328.1 293.8,1328.1 292.6,1327.7 291.4,1328.4 290.1,1328.5 288.9,1328.9 287.7,1328.6 286.4,1328.4 285.2,1328.6 284.0,1328.8 282.7,1329.1 281.5,1329.4 280.3,1329.3 279.0,1329.4 277.8,1329.3 276.5,1329.2 275.3,1329.4 274.1,1329.3 272.8,1329.7 271.6,1329.3 270.4,1329.9 269.1,1329.9 267.9,1330.1 266.7,1329.3 265.4,1329.6 264.2,1329.5 263.0,1329.4 261.7,1329.7 260.5,1330.4 259.3,1330.8 258.0,1330.4 256.8,1329.8 255.6,1330.0 254.3,1330.0 253.1,1330.7 251.9,1330.9 250.6,1331.2 249.4,1330.4 248.1,1330.3 246.9,1330.4 245.7,1331.1 244.4,1330.8 243.2,1331.1 242.0,1331.4 240.7,1332.0 239.5,1332.3 238.3,1332.1 237.0,1332.1 235.8,1332.2 234.6,1332.6 233.3,1332.7 232.1,1332.2 230.9,1332.2 229.6,1331.8 228.4,1332.1 227.2,1331.8 226.5,1369.9 225.3,1370.2 224.1,1370.5 222.8,1370.6 221.6,1371.7 220.4,1373.0 219.1,1372.9 217.9,1372.5 216.7,1372.0 215.4,1372.1 214.2,1372.9 213.0,1373.2 211.7,1374.5 210.5,1376.0 209.3,1376.5 208.0,1377.3 206.8,1376.1 205.5,1376.7 204.3,1377.1 203.1,1379.0 201.8,1379.3 200.6,1379.7 199.4,1378.8 198.1,1377.4 196.9,1378.0 195.7,1379.8 194.4,1381.6 193.2,1380.3 192.0,1379.5 190.7,1379.9 189.5,1380.8 188.3,1382.2 187.0,1382.3 185.8,1383.1 184.6,1381.8 183.3,1381.5 182.1,1380.6 180.9,1381.0 179.6,1381.5 178.4,1383.4 177.1,1385.4 175.9,1385.6 174.7,1384.1 173.4,1382.4 172.2,1382.9 171.0,1383.2 169.7,1383.8 168.5,1384.5 167.3,1386.0 166.0,1387.3 164.8,1386.8 163.6,1386.9 162.3,1386.8 161.1,1388.9 159.9,1388.2 158.6,1387.4 157.4,1385.9 156.2,1387.1 154.9,1388.7 153.7,1390.6 152.4,1390.9 151.2,1390.8 150.0,1388.8 148.7,1389.3 147.5,1390.5 146.3,1391.5 145.0,1391.9 143.8,1390.9 142.6,1392.2 141.3,1393.5 140.1,1394.0 138.9,1394.4 137.6,1394.2 136.4,1394.8 135.2,1395.2 133.9,1395.3 132.7,1395.1 131.5,1395.2 130.2,1395.8 129.0,1396.7 127.8,1396.7 126.5,1396.2 125.3,1396.5 124.0,1394.9 122.8,1394.6 121.6,1394.7 120.3,1396.9 119.1,1397.9 117.9,1396.8 116.6,1396.2 115.4,1397.2 114.2,1400.5 112.9,1400.5 111.7,1399.5 110.5,1399.1 109.2,1400.2 108.0,1400.9 106.8,1399.8 105.5,1401.6" stroke="#ee1616"/>
<polyline points="722.3,1184.1 721.1,1186.0 719.8,1188.3 718.6,1191.0 717.4,1188.8 716.1,1189.4 714.9,1189.8 713.7,1191.1 712.4,1189.7 711.2,1188.6 710.0,1189.2 708.7,1190.4 707.5,1191.1 706.3,1190.5 705.0,1191.2 703.8,1193.1 702.6,1197.5 701.3,1198.7 700.1,1198.4 698.8,1198.8 697.6,1197.0 696.4,1197.2 695.1,1197.4 693.9,1200.7 692.7,1202.7 691.4,1202.4 690.2,1202.6 689.0,1202.9 687.7,1203.8 686.5,1204.6 685.3,1205.2 684.0,1205.8 682.8,1205.6 681.6,1205.4 680.3,1204.1 679.1,1203.2 677.9,1205.2 676.6,1207.5 675.4,1209.4 674.2,1208.4 672.9,1208.0 671.7,1207.4 670.4,1209.4 669.2,1210.0 668.0,1211.3 666.7,1209.7 665.5,1210.2 664.3,1211.4 663.0,1214.2 661.8,1214.6 660.6,1214.6 659.3,1216.1 658.1,1216.8 656.9,1216.6 655.6,1214.1 654.4,1215.7 653.2,1218.0 651.9,1218.5 650.7,1217.8 649.5,1216.6 648.2,1219.3 647.0,1219.7 645.8,1221.9 644.5,1220.9 643.3,1221.9 642.0,1222.2 640.8,1223.7 639.6,1225.3 638.3,1224.8 637.1,1225.1 635.9,1224.2 634.6,1225.9 633.4,1225.0 632.2,1226.4 630.9,1226.6 629.7,1227.5 628.5,1228.0 627.2,1228.4 626.0,1229.0 624.8,1229.1 623.5,1229.8 622.3,1230.5 621.1,1232.3 619.8,1234.1 618.6,1235.7 617.4,1235.4 616.1,1233.4 614.9,1232.8 613.6,1233.9 612.4,1234.9 611.2,1234.7 609.9,1234.8 608.7,1237.6 607.5,1238.7 606.2,1240.2 605.0,1240.1 603.8,1242.0 602.5,1240.1 601.3,1240.5 600.1,1242.1 598.8,1242.7 597.6,1244.0 596.4,1242.9 595.1,1245.0 593.9,1244.5 592.7,1245.5 591.4,1246.0 590.2,1245.9 589.0,1244.5 587.7,1242.9 586.5,1244.3 585.2,1246.0 584.0,1248.3 582.8,1248.5 581.5,1249.9 580.3,1250.2 579.1,1249.5 577.8,1248.7 576.6,1249.6 575.4,1250.2 574.1,1252.3 572.9,1253.7 571.7,1255.2 570.4,1254.1 569.2,1252.0 568.0,1251.4 566.7,1253.5 565.5,1253.5 564.3,1253.1 563.0,1252.1 561.8,1254.5 560.6,1256.1 559.3,1257.0 558.1,1256.6 556.8,1256.6 555.6,1256.2 554.4,1256.5 553.1,1256.9 551.9,1256.8 550.7,1256.4 549.4,1256.1 548.2,1256.7 547.0,1256.3 545.7,1258.4 544.5,1259.3 543.3,1260.5 542.0,1259.3 540.8,1258.9 539.6,1259.6 538.3,1259.4 537.1,1259.6 535.9,1260.2 534.6,1261.2 533.4,1262.5 532.2,1263.0 530.9,1264.3 529.7,1264.8 528.4,1266.0 527.2,1265.9 526.0,1265.8 524.7,1265.6 523.5,1265.0 522.3,1264.5 521.0,1265.1 519.8,1266.1 518.6,1266.4 517.3,1265.8 516.1,1266.1 514.9,1266.7 513.6,1267.3 512.4,1267.4 511.2,1267.4 509.9,1267.3 508.7,1268.5 507.5,1270.0 506.2,1271.6 505.0,1271.6 503.8,1271.5 502.5,1270.3 501.3,1269.2 500.0,1268.3 498.8,1268.1 497.6,1269.5 496.3,1271.2 495.1,1272.5 493.9,1271.8 492.6,1271.1 491.4,1271.3 490.2,1272.6 488.9,1273.9 487.7,1273.8 486.5,1273.2 485.2,1273.8 484.0,1275.4 482.8,1275.7 481.5,1275.8 480.3,1274.9 479.1,1275.1 477.8,1275.6 476.6,1277.2 475.3,1277.8 474.1,1276.9 472.9,1277.2 471.6,1278.3 470.4,1280.1 469.2,1279.1 467.9,1279.0 466.7,1277.4 465.5,1278.7 464.2,1278.5 463.0,1280.6 461.8,1280.4 460.5,1281.6 459.3,1281.9 458.1,1281.2 456.8,1281.3 455.6,1281.5 454.4,1283.9 453.1,1285.5 451.9,1285.7 450.7,1285.3 449.4,1285.5 448.2,1286.1 446.9,1285.9 445.7,1284.8 444.5,1284.6 443.2,1285.1 442.0,1284.9 440.8,1284.9 439.5,1285.7 438.3,1286.1 437.1,1285.9 435.8,1285.8 434.6,1287.6 433.4,1288.4 432.1,1289.6 430.9,1288.4 429.7,1288.7 428.4,1287.3 427.2,1288.8 426.0,1288.8 424.7,1289.9 423.5,1289.8 422.3,1289.9 421.0,1289.6 419.8,1288.4 418.5,1288.7 417.3,1289.4 416.1,1290.8 414.8,1291.3 413.6,1291.5 412.4,1292.0 411.1,1292.6 409.9,1292.6 408.7,1292.8 407.4,1291.9 406.2,1291.9 405.0,1291.6 403.7,1292.5 402.5,1293.2 401.3,1293.5 400.0,1294.3 398.8,1294.5 397.6,1295.2 396.3,1295.6 395.1,1295.6 393.9,1295.2 392.6,1296.5 391.4,1296.8 390.1,1297.6 388.9,1297.1 387.7,1297.5 386.4,1298.1 385.2,1297.1 384.0,1297.9 382.7,1297.9 381.5,1299.2 380.3,1299.7 379.0,1300.7 377.8,1301.7 376.6,1301.8 375.3,1301.3 374.1,1301.7 372.9,1302.6 371.6,1303.6 370.4,1303.5 369.2,1303.1 367.9,1303.7 366.7,1304.4 365.5,1305.4 364.2,1305.4 363.0,1305.8 361.7,1306.2 360.5,1306.0 359.3,1305.6 358.0,1305.9 356.8,1307.7 355.6,1308.9 354.3,1309.7 353.1,1309.8 351.9,1310.8 350.6,1311.8 349.4,1312.7 348.2,1313.2 346.9,1314.0 345.7,1315.0 344.5,1316.2 343.2,1316.6 342.0,1317.3 340.8,1318.1 339.5,1319.5 338.3,1320.6 337.1,1321.7 335.8,1322.7 334.6,1324.1 333.3,1325.0 332.1,1325.2 330.9,1325.4 329.6,1325.5 328.4,1326.0 327.2,1326.1 325.9,1326.5 324.7,1326.6 323.5,1326.5 322.2,1326.2 321.0,1326.6 319.8,1326.8 318.5,1327.0 317.3,1326.8 316.1,1326.9 314.8,1327.1 313.6,1327.4 312.4,1327.7 311.1,1327.7 309.9,1327.6 308.7,1327.7 307.4,1327.8 306.2,1327.8 304.9,1327.4 303.7,1327.7 302.5,1327.9 301.2,1328.0 300.0,1327.7 298.8,1327.7 297.5,1327.7 296.3,1327.9 295.1,1327.8 293.8,1328.0 292.6,1328.1 291.4,1328.3 290.1,1328.5 288.9,1328.4 287.7,1328.3 286.4,1328.2 285.2,1328.2 284.0,1328.1 282.7,1328.4 281.5,1328.8 280.3,1329.0 279.0,1328.9 277.8,1328.8 276.5,1329.4 275.3,1329.7 274.1,1329.6 272.8,1329.2 271.6,1328.8 270.4,1329.1 269.1,1329.2 267.9,1329.7 266.7,1329.1 265.4,1329.2 264.2,1329.1 263.0,1329.8 261.7,1329.7 260.5,1329.9 259.3,1330.0 258.0,1330.2 256.8,1330.1 255.6,1330.1 254.3,1330.5 253.1,1330.1 251.9,1330.6 250.6,1330.4 249.4,1331.3 248.1,1331.2 246.9,1331.1 245.7,1331.2 244.4,1330.9 243.2,1330.7 242.0,1330.6 240.7,1330.6 239.5,1330.7 238.3,1330.8 237.0,1331.5 235.8,1331.7 234.6,1332.0 233.3,1331.9 232.1,1331.6 230.9,1331.8 229.6,1331.6 228.4,1332.3 227.2,1332.2 225.9,1332.4 224.7,1332.3 223.8,1361.4 222.5,1362.5 221.3,1362.3 220.1,1363.0 218.8,1363.0 217.6,1364.5 216.4,1365.6 215.1,1366.2 213.9,1367.2 212.6,1367.9 211.4,1368.5 210.2,1366.9 208.9,1366.7 207.7,1365.5 206.5,1365.8 205.2,1367.4 204.0,1367.8 202.8,1368.2 201.5,1367.3 200.3,1368.1 199.1,1368.2 197.8,1367.1 196.6,1368.5 195.4,1369.1 194.1,1371.4 192.9,1369.9 191.7,1370.7 190.4,1369.8 189.2,1371.2 188.0,1371.3 186.7,1372.6 185.5,1373.0 184.2,1372.6 183.0,1372.2 181.8,1372.0 180.5,1373.9 179.3,1374.0 178.1,1373.9 176.8,1372.8 175.6,1373.4 174.4,1373.9 173.1,1374.6 171.9,1375.0 170.7,1376.1 169.4,1374.7 168.2,1375.9 167.0,1375.0 165.7,1375.8 164.5,1374.8 163.3,1375.2 162.0,1376.1 160.8,1376.3 159.5,1377.1 158.3,1377.9 157.1,1379.4 155.8,1378.5 154.6,1377.5 153.4,1377.4 152.1,1379.4 150.9,1380.8 149.7,1378.9 148.4,1378.3 147.2,1378.6 146.0,1379.3 144.7,1379.9 143.5,1379.7 142.3,1380.7 141.0,1380.8 139.8,1381.8 138.6,1382.5 137.3,1384.4 136.1,1383.5 134.9,1382.9 133.6,1380.9 132.4,1382.7 131.1,1381.6 129.9,1382.0 128.7,1381.1 127.4,1382.8 126.2,1382.5 125.0,1383.1 123.7,1384.9 122.5,1386.6 121.3,1385.1 120.0,1384.1 118.8,1383.5 117.6,1385.8 116.3,1385.9 115.1,1386.0 113.9,1386.4 112.6,1387.5 111.4,1387.6 110.2,1388.2 108.9,1388.0 107.7,1389.0 106.5,1388.0 105.2,1387.0" stroke="#ff4646"/>
<polyline points="722.3,1209.7 721.1,1209.4 719.8,1209.0 718.6,1209.6 717.4,1210.3 716.1,1211.4 714.9,1211.1 713.7,1212.8 712.4,1213.9 711.2,1216.5 710.0,1217.6 708.7,1216.6 707.5,1214.1 706.3,1211.5 705.0,1214.8 703.8,1217.3 702.6,1219.1 701.3,1218.0 700.1,1218.1 698.8,1217.5 697.6,1217.7 696.4,1216.3 695.1,1217.2 693.9,1218.4 692.7,1221.8 691.4,1222.2 690.2,1223.1 689.0,1224.4 687.7,1225.9 686.5,1224.2 685.3,1225.1 684.0,1226.1 682.8,1227.3 681.6,1225.7 680.3,1226.1 679.1,1228.1 677.9,1230.1 676.6,1230.4 675.4,1229.5 674.2,1228.5 672.9,1228.6 671.7,1228.7 670.4,1230.0 669.2,1230.4 668.0,1232.8 666.7,1231.7 665.5,1232.4 664.3,1232.7 663.0,1234.3 661.8,1235.3 660.6,1235.1 659.3,1235.3 658.1,1235.3 656.9,1234.5 655.6,1235.0 654.4,1234.3 653.2,1236.4 651.9,1237.7 650.7,1239.1 649.5,1239.7 648.2,1237.5 647.0,1238.8 645.8,1237.1 644.5,1238.4 643.3,1238.6 642.0,1239.1 640.8,1239.2 639.6,1238.2 638.3,1240.4 637.1,1241.4 635.9,1243.6 634.6,1243.9 633.4,1245.3 632.2,1243.8 630.9,1242.4 629.7,1242.3 628.5,1244.2 627.2,1246.0 626.0,1246.0 624.8,1245.2 623.5,1245.8 622.3,1246.6 621.1,1248.2 619.8,1247.8 618.6,1247.7 617.4,1247.4 616.1,1247.0 614.9,1247.4 613.6,1247.9 612.4,1248.8 611.2,1250.5 609.9,1251.3 608.7,1252.3 607.5,1251.8 606.2,1252.3 605.0,1252.2 603.8,1252.3 602.5,1252.7 601.3,1253.3 600.1,1254.1 598.8,1255.1 597.6,1255.4 596.4,1254.0 595.1,1252.4 593.9,1254.1 592.7,1255.0 591.4,1257.3 590.2,1256.6 589.0,1257.5 587.7,1256.3 586.5,1257.7 585.2,1257.4 584.0,1257.4 582.8,1256.3 581.5,1258.3 580.3,1258.9 579.1,1259.6 577.8,1259.0 576.6,1260.2 575.4,1260.8 574.1,1260.9 572.9,1260.6 571.7,1260.4 570.4,1261.3 569.2,1261.6 568.0,1263.5 566.7,1263.7 565.5,1264.1 564.3,1263.1 563.0,1264.7 561.8,1264.4 560.6,1263.2 559.3,1261.7 558.1,1263.2 556.8,1265.1 555.6,1266.0 554.4,1266.1 553.1,1268.1 551.9,1269.1 550.7,1269.5 549.4,1269.3 548.2,1269.9 547.0,1270.6 545.7,1270.6 544.5,1268.9 543.3,1269.5 542.0,1270.1 540.8,1271.6 539.6,1271.1 538.3,1270.6 537.1,1270.0 535.9,1270.6 534.6,1268.9 533.4,1270.6 532.2,1271.6 530.9,1274.7 529.7,1274.4 528.4,1273.1 527.2,1271.6 526.0,1272.2 524.7,1274.2 523.5,1275.1 522.3,1274.9 521.0,1274.9 519.8,1275.2 518.6,1276.0 517.3,1276.3 516.1,1277.2 514.9,1277.4 513.6,1276.8 512.4,1277.1 511.2,1277.4 509.9,1279.5 508.7,1280.8 507.5,1280.0 506.2,1278.7 505.0,1278.3 503.8,1280.0 502.5,1280.6 501.3,1281.2 500.0,1280.7 498.8,1281.2 497.6,1281.4 496.3,1281.3 495.1,1281.2 493.9,1281.4 492.6,1283.5 491.4,1283.5 490.2,1283.1 488.9,1281.7 487.7,1282.9 486.5,1283.9 485.2,1284.5 484.0,1283.8 482.8,1284.2 481.5,1284.5 480.3,1285.9 479.1,1285.4 477.8,1286.0 476.6,1285.6 475.3,1286.0 474.1,1286.3 472.9,1286.2 471.6,1286.3 470.4,1286.5 469.2,1288.1 467.9,1289.4 466.7,1289.2 465.5,1289.1 464.2,1288.8 463.0,1288.9 461.8,1288.3 460.5,1288.1 459.3,1288.3 458.1,1289.4 456.8,1290.7 455.6,1291.5 454.4,1291.7 453.1,1291.0 451.9,1290.3 450.7,1289.4 449.4,1289.2 448.2,1289.5 446.9,1290.7 445.7,1291.8 444.5,1292.8 443.2,1291.6 442.0,1292.4 440.8,1292.2 439.5,1293.7 438.3,1292.8 437.1,1293.2 435.8,1293.5 434.6,1293.8 433.4,1293.8 432.1,1294.1 430.9,1294.6 429.7,1295.9 428.4,1295.3 427.2,1294.9 426.0,1294.8 424.7,1295.1 423.5,1296.3 422.3,1295.7 421.0,1295.8 419.8,1295.6 418.5,1295.9 417.3,1296.0 416.1,1296.6 414.8,1297.8 413.6,1298.2 412.4,1298.7 411.1,1298.3 409.9,1298.8 408.7,1297.8 407.4,1297.7 406.2,1298.3 405.0,1299.8 403.7,1300.2 402.5,1299.9 401.3,1299.4 400.0,1299.8 398.8,1300.2 397.6,1300.7 396.3,1300.2 395.1,1299.8 393.9,1300.1 392.6,1300.9 391.4,1302.4 390.1,1302.8 388.9,1302.1 387.7,1302.1 386.4,1301.4 385.2,1302.5 384.0,1302.9 382.7,1304.1 381.5,1305.3 380.3,1304.6 379.0,1304.8 377.8,1304.3 376.6,1305.1 375.3,1304.6 374.1,1304.9 372.9,1304.7 371.6,1304.8 370.4,1304.5 369.2,1305.6 367.9,1307.4 366.7,1308.5 365.5,1307.9 364.2,1309.0 363.0,1309.4 361.7,1311.3 360.5,1310.3 359.3,1310.3 358.0,1310.1 356.8,1310.0 355.6,1310.6 354.3,1310.9 353.1,1312.0 351.9,1312.8 350.6,1313.1 349.4,1314.0 348.2,1314.5 346.9,1315.8 345.7,1316.4 344.5,1317.6 343.2,1318.1 342.0,1319.3 340.8,1319.8 339.5,1320.6 338.3,1321.5 337.1,1322.3 335.8,1323.0 334.6,1324.2 333.3,1325.1 332.1,1325.8 330.9,1325.8 329.6,1326.0 328.4,1326.3 327.2,1326.3 325.9,1326.3 324.7,1326.4 323.5,1326.8 322.2,1327.2 321.0,1327.1 319.8,1326.7 318.5,1326.7 317.3,1326.9 316.1,1326.9 314.8,1326.6 313.6,1326.8 312.4,1327.0 311.1,1327.3 309.9,1327.3 308.7,1327.2 307.4,1327.0 306.2,1327.0 304.9,1327.3 303.7,1327.5 302.5,1327.6 301.2,1327.5 300.0,1327.7 298.8,1327.8 297.5,1327.9 296.3,1328.3 295.1,1328.3 293.8,1328.3 292.6,1327.6 291.4,1327.9 290.1,1327.6 288.9,1327.8 287.7,1327.7 286.4,1327.9 285.2,1328.5 284.0,1328.5 282.7,1329.0 281.5,1328.9 280.3,1329.0 279.0,1329.0 277.8,1329.1 276.5,1328.9 275.3,1328.7 274.1,1328.8 272.8,1328.8 271.6,1328.8 270.4,1329.1 269.1,1329.3 267.9,1329.3 266.7,1329.1 265.4,1329.1 264.2,1329.3 263.0,1329.6 261.7,1329.5 260.5,1329.5 259.3,1329.5 258.0,1329.7 256.8,1330.1 255.6,1329.7 254.3,1330.0 253.1,1329.9 251.9,1330.0 250.6,1330.0 249.4,1330.3 248.1,1330.5 246.9,1330.1 245.7,1330.3 244.4,1330.4 243.2,1330.6 242.0,1330.3 240.7,1330.1 239.5,1330.1 238.3,1330.4 237.0,1330.2 235.8,1330.0 234.6,1329.9 233.3,1330.5 232.1,1330.9 230.9,1331.4 229.6,1331.4 228.4,1331.6 227.2,1331.3 225.9,1331.0 224.7,1330.8 223.5,1331.4 222.2,1331.8 221.0,1331.9 219.7,1331.3 218.5,1331.3 217.6,1358.3 216.4,1358.1 215.1,1358.8 213.9,1359.4 212.6,1359.7 211.4,1359.5 210.2,1360.3 208.9,1360.3 207.7,1360.9 206.5,1360.9 205.2,1360.1 204.0,1360.8 202.8,1360.8 201.5,1362.5 200.3,1362.6 199.1,1362.3 197.8,1361.8 196.6,1361.4 195.4,1361.9 194.1,1363.3 192.9,1363.9 191.7,1364.5 190.4,1362.7 189.2,1363.8 188.0,1363.7 186.7,1365.4 185.5,1364.2 184.2,1364.8 183.0,1364.9 181.8,1366.5 180.5,1366.0 179.3,1365.2 178.1,1363.9 176.8,1363.5 175.6,1364.2 174.4,1365.3 173.1,1367.0 171.9,1368.7 170.7,1367.5 169.4,1367.7 168.2,1366.8 167.0,1367.7 165.7,1366.4 164.5,1366.9 163.3,1367.9 162.0,1368.3 160.8,1368.0 159.5,1368.0 158.3,1368.4 157.1,1369.7 155.8,1370.0 154.6,1371.6 153.4,1370.6 152.1,1371.7 150.9,1370.3 149.7,1370.4 148.4,1369.3 147.2,1371.0 146.0,1371.0 144.7,1371.3 143.5,1370.6 142.3,1372.6 141.0,1373.7 139.8,1373.1 138.6,1372.4 137.3,1372.6 136.1,1373.6 134.9,1373.8 133.6,1372.9 132.4,1371.2 131.1,1371.2 129.9,1371.8 128.7,1374.9 127.4,1374.7 126.2,1374.6 125.0,1372.8 123.7,1372.6 122.5,1373.2 121.3,1375.2 120.0,1376.7 118.8,1376.2 117.6,1375.2 116.3,1375.2 115.1,1376.0 113.9,1377.2 112.6,1377.5 111.4,1376.4 110.2,1376.3 108.9,1375.1 107.7,1376.9 106.5,1376.8 105.2,1377.6" stroke="#ff7676"/>
</g>
<rect x="105" y="997.2" width="617.2" height="460.6" fill="none" stroke="#000" stroke-width="2.2"/>
<text x="94.8" y="1467.4" font-size="24" text-anchor="end">–1</text>
<line x1="105" y1="1326.4" x2="114.5" y2="1326.4" stroke="#000" stroke-width="2.2"/>
<text x="94.8" y="1335.8" font-size="24" text-anchor="end">0</text>
<line x1="105" y1="1194.8" x2="114.5" y2="1194.8" stroke="#000" stroke-width="2.2"/>
<text x="94.8" y="1204.2" font-size="24" text-anchor="end">1</text>
<line x1="105" y1="1063.2" x2="114.5" y2="1063.2" stroke="#000" stroke-width="2.2"/>
<text x="94.8" y="1072.6" font-size="24" text-anchor="end">2</text>
<line x1="105" y1="1392.2" x2="109.5" y2="1392.2" stroke="#000" stroke-width="2.2"/>
<line x1="105" y1="1260.6" x2="109.5" y2="1260.6" stroke="#000" stroke-width="2.2"/>
<line x1="105" y1="1129" x2="109.5" y2="1129" stroke="#000" stroke-width="2.2"/>
<line x1="197.5" y1="1457.8" x2="197.5" y2="1448.6" stroke="#000" stroke-width="2.2"/>
<text x="193.2" y="1487.6" font-size="24" text-anchor="middle">–0.4</text>
<line x1="321" y1="1457.8" x2="321" y2="1448.6" stroke="#000" stroke-width="2.2"/>
<text x="321" y="1487.6" font-size="24" text-anchor="middle">0</text>
<line x1="444.5" y1="1457.8" x2="444.5" y2="1448.6" stroke="#000" stroke-width="2.2"/>
<text x="444.5" y="1487.6" font-size="24" text-anchor="middle">0.4</text>
<line x1="568" y1="1457.8" x2="568" y2="1448.6" stroke="#000" stroke-width="2.2"/>
<text x="568" y="1487.6" font-size="24" text-anchor="middle">0.8</text>
<line x1="691.4" y1="1457.8" x2="691.4" y2="1448.6" stroke="#000" stroke-width="2.2"/>
<text x="691.4" y="1487.6" font-size="24" text-anchor="middle">1.2</text>
<line x1="135.8" y1="1457.8" x2="135.8" y2="1454" stroke="#000" stroke-width="2.2"/>
<line x1="259.3" y1="1457.8" x2="259.3" y2="1454" stroke="#000" stroke-width="2.2"/>
<line x1="382.7" y1="1457.8" x2="382.7" y2="1454" stroke="#000" stroke-width="2.2"/>
<line x1="506.2" y1="1457.8" x2="506.2" y2="1454" stroke="#000" stroke-width="2.2"/>
<line x1="629.7" y1="1457.8" x2="629.7" y2="1454" stroke="#000" stroke-width="2.2"/>
<text x="406.4" y="1522.2" font-size="24.4" text-anchor="middle">Sample bias (V)</text>
<text transform="translate(57,1301.5) rotate(-90)" font-size="24">Current (nA)</text>
<line x1="665.2" y1="1013" x2="665.2" y2="1042" stroke="#ff0000" stroke-width="3"/>
<line x1="674.4" y1="1051.9" x2="674.4" y2="1080.9" stroke="#ff0000" stroke-width="3"/>
<line x1="681.4" y1="1095.5" x2="681.4" y2="1124.5" stroke="#ff0000" stroke-width="3"/>
<line x1="688.8" y1="1127.5" x2="688.8" y2="1156.5" stroke="#ff0000" stroke-width="3"/>
<line x1="695.8" y1="1157" x2="695.8" y2="1186" stroke="#ff0000" stroke-width="3"/>
<line x1="700.7" y1="1182.3" x2="700.7" y2="1211.3" stroke="#ff0000" stroke-width="3"/>
<line x1="705.3" y1="1205.2" x2="705.3" y2="1234.2" stroke="#ff0000" stroke-width="3"/>
<text x="755.5" y="1034.5" font-size="25.4">10 pm</text>
<line x1="731.2" y1="1018.3" x2="750.5" y2="1022" stroke="#000" stroke-width="2"/>
<text x="755.5" y="1080.3" font-size="25.4">20 pm</text>
<line x1="731.2" y1="1066" x2="750.5" y2="1074.2" stroke="#000" stroke-width="2"/>
<text x="755.5" y="1126.5" font-size="25.4">30 pm</text>
<line x1="731.2" y1="1110.5" x2="750.5" y2="1120.6" stroke="#000" stroke-width="2"/>
<text x="755.5" y="1172.3" font-size="25.4">40 pm</text>
<line x1="731.2" y1="1154.5" x2="750.5" y2="1164.6" stroke="#000" stroke-width="2"/>
<text x="755.5" y="1217.7" font-size="25.4">50 pm</text>
<line x1="731.2" y1="1186" x2="750.5" y2="1203.8" stroke="#000" stroke-width="2"/>
<text x="755.5" y="1263.6" font-size="25.4">60 pm</text>
<line x1="731.2" y1="1214" x2="750.5" y2="1247.8" stroke="#000" stroke-width="2"/>
<text x="641" y="984.2" font-size="25.4">0 pm</text>
<line x1="375" y1="1230.6" x2="331" y2="1253.6" stroke="#ff0000" stroke-width="2.2"/>
<path d="M321.1,1258.7 L330.7,1246.9 L330.4,1253.8 L336.3,1257.5Z" fill="#ff0000"/>
<line x1="540.7" y1="1318.9" x2="588" y2="1295" stroke="#0000ff" stroke-width="2.2"/>
<path d="M597.2,1290.3 L587.4,1302 L587.8,1295 L582,1291.3Z" fill="#0000ff"/>
<line x1="456.2" y1="1374.4" x2="508" y2="1374.4" stroke="#0000ff" stroke-width="2.2"/>
<path d="M520.2,1374.4 L505.7,1380.4 L509.3,1374.4 L505.7,1368.4Z" fill="#0000ff"/>
<text x="533" y="1381.6" font-size="25.6">Forwards</text>
<line x1="469" y1="1412.8" x2="520.2" y2="1412.8" stroke="#ff0000" stroke-width="2.2"/>
<path d="M457,1412.8 L471.5,1406.8 L467.9,1412.8 L471.5,1418.8Z" fill="#ff0000"/>
<text x="533" y="1420.3" font-size="25.6">Backwards</text>
<text x="169" y="1314.9" font-size="24" fill="#ff0000"><tspan font-style="italic">V</tspan><tspan font-size="14" dy="8.5">SW</tspan></text>
<text x="579" y="1045" font-size="24" fill="#ff0000"><tspan font-style="italic">V</tspan><tspan font-size="14" dy="7.7">SW0</tspan></text>
<rect x="144.7" y="1025.9" width="209.2" height="174.2" fill="#fff" stroke="#000" stroke-width="2.2"/>
<line x1="242.7" y1="1174.8" x2="242.7" y2="1048" stroke="#000" stroke-width="2.2"/>
<path d="M242.7,1035.6 L248.7,1050.1 L242.7,1046.5 L236.7,1050.1Z" fill="#000"/>
<line x1="153.3" y1="1113.4" x2="335" y2="1113.4" stroke="#000" stroke-width="2.2"/>
<path d="M347.2,1113.4 L332.7,1119.4 L336.3,1113.4 L332.7,1107.4Z" fill="#000"/>
<text x="261" y="1057.5" font-size="24"><tspan font-style="italic">P</tspan></text>
<text x="328.5" y="1095.8" font-size="24"><tspan font-style="italic">E</tspan></text>
<polyline points="319.8,1070.4 214.3,1091.9 211.1,1145.1" fill="none" stroke="#0000ff" stroke-width="2.4"/>
<polyline points="165,1156 270.6,1134.9 273.7,1080.2" fill="none" stroke="#ff0000" stroke-width="2.4"/>
<line x1="230.7" y1="1070.8" x2="199" y2="1077.8" stroke="#0000ff" stroke-width="2.2"/>
<path d="M188.5,1080.2 L200.9,1071.3 L198.7,1077.9 L203.5,1083Z" fill="#0000ff"/>
<line x1="251.8" y1="1154.8" x2="284" y2="1147.4" stroke="#ff0000" stroke-width="2.2"/>
<path d="M294,1145.1 L281.7,1154.1 L283.8,1147.5 L279,1142.4Z" fill="#ff0000"/>
<polyline points="187.3,904 187.3,926.2 105.1,961.5 105.1,984" fill="none" stroke="#000" stroke-width="2"/>
<path d="M105.1,995.5 L99.6,981.5 L105.1,985 L110.6,981.5Z" fill="#000"/>
<polyline points="640.6,902.4 640.6,924.8 722.4,961.5 722.4,984" fill="none" stroke="#000" stroke-width="2"/>
<path d="M722.4,995.5 L716.9,981.5 L722.4,985 L727.9,981.5Z" fill="#000"/>
</svg>
</body></html>
